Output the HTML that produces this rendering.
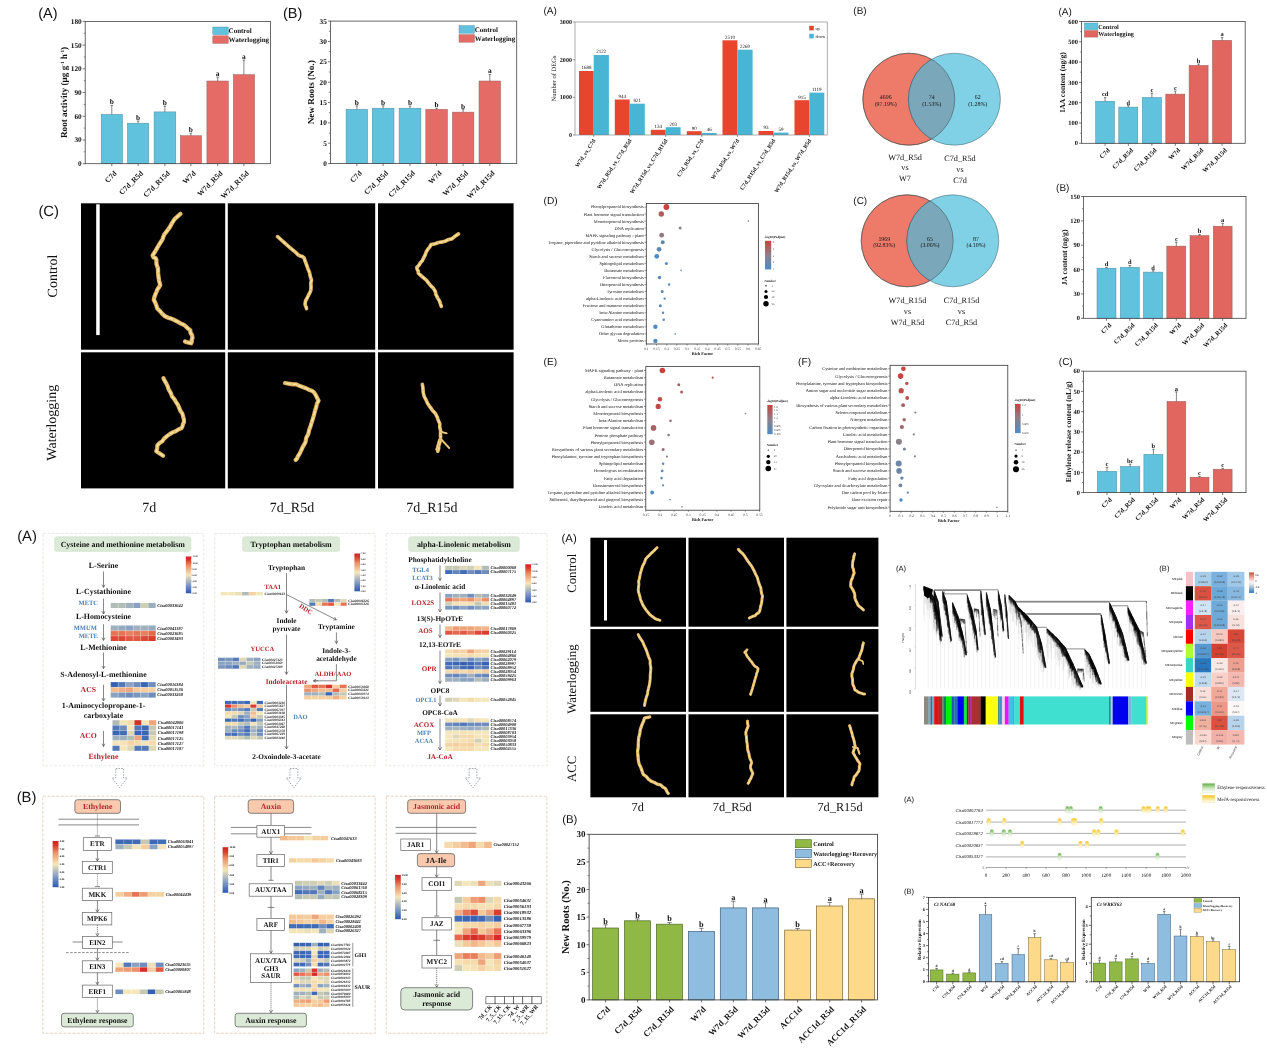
<!DOCTYPE html>
<html lang="en"><head><meta charset="utf-8"><title>Figure collage</title>
<style>html,body{margin:0;padding:0;background:#fff;width:1267px;height:1049px;overflow:hidden}svg{display:block}text{font-family:"Liberation Serif",serif;fill:#111;text-rendering:geometricPrecision}.a{font-family:"Liberation Sans",sans-serif}.b{font-weight:700}.i{font-style:italic}</style></head>
<body><svg width="1267" height="1049" viewBox="0 0 1267 1049">
<defs><filter id="rb" x="-20%" y="-20%" width="140%" height="140%"><feGaussianBlur stdDeviation="0.35"/></filter><linearGradient id="dg" x1="0" y1="0" x2="0" y2="1"><stop offset="0" stop-color="#c9423f"/><stop offset="0.5" stop-color="#8c8088"/><stop offset="1" stop-color="#4a8bc8"/></linearGradient><linearGradient id="hg" x1="0" y1="0" x2="0" y2="1"><stop offset="0" stop-color="#cc2023"/><stop offset="0.1" stop-color="#dc3c2e"/><stop offset="0.25" stop-color="#ec8f68"/><stop offset="0.5" stop-color="#f5e6b9"/><stop offset="0.75" stop-color="#8aa2c2"/><stop offset="1" stop-color="#2c58b0"/></linearGradient></defs><rect width="1267" height="1049" fill="#fff"/>
<g>
<text x="38.2" y="17.9" font-size="14.5" class="a">(A)</text>
<text x="283" y="17.9" font-size="14.5" class="a">(B)</text>
<rect x="101.2" y="114.4" width="21.3" height="49.3" fill="#60c2dc" stroke="#4a8ca4" stroke-width="0.5"/>
<line x1="111.8" y1="114.4" x2="111.8" y2="105.4" stroke="#333" stroke-width="0.6" />
<line x1="110.5" y1="105.4" x2="113.1" y2="105.4" stroke="#333" stroke-width="0.6" />
<text x="111.8" y="104.2" font-size="7.4" class="b" text-anchor="middle">b</text>
<rect x="127.4" y="123.2" width="21.3" height="40.5" fill="#60c2dc" stroke="#4a8ca4" stroke-width="0.5"/>
<line x1="138.1" y1="123.2" x2="138.1" y2="121" stroke="#333" stroke-width="0.6" />
<line x1="136.8" y1="121" x2="139.4" y2="121" stroke="#333" stroke-width="0.6" />
<text x="138.1" y="119.8" font-size="7.4" class="b" text-anchor="middle">b</text>
<rect x="154.1" y="111.9" width="21.7" height="51.8" fill="#60c2dc" stroke="#4a8ca4" stroke-width="0.5"/>
<line x1="164.9" y1="111.9" x2="164.9" y2="106.1" stroke="#333" stroke-width="0.6" />
<line x1="163.6" y1="106.1" x2="166.2" y2="106.1" stroke="#333" stroke-width="0.6" />
<text x="164.9" y="104.9" font-size="7.4" class="b" text-anchor="middle">b</text>
<rect x="180.3" y="135.7" width="21.3" height="28" fill="#e56b66" stroke="#9a6260" stroke-width="0.5"/>
<line x1="190.9" y1="135.7" x2="190.9" y2="133.2" stroke="#333" stroke-width="0.6" />
<line x1="189.6" y1="133.2" x2="192.2" y2="133.2" stroke="#333" stroke-width="0.6" />
<text x="190.9" y="132" font-size="7.4" class="b" text-anchor="middle">b</text>
<rect x="206.9" y="81" width="21.5" height="82.7" fill="#e56b66" stroke="#9a6260" stroke-width="0.5"/>
<line x1="217.7" y1="81" x2="217.7" y2="77.1" stroke="#333" stroke-width="0.6" />
<line x1="216.3" y1="77.1" x2="219" y2="77.1" stroke="#333" stroke-width="0.6" />
<text x="217.7" y="75.9" font-size="7.4" class="b" text-anchor="middle">a</text>
<rect x="233.3" y="74.6" width="21.3" height="89.1" fill="#e56b66" stroke="#9a6260" stroke-width="0.5"/>
<line x1="243.9" y1="74.6" x2="243.9" y2="60.1" stroke="#333" stroke-width="0.6" />
<line x1="242.6" y1="60.1" x2="245.2" y2="60.1" stroke="#333" stroke-width="0.6" />
<text x="243.9" y="58.9" font-size="7.4" class="b" text-anchor="middle">a</text>
<rect x="85.2" y="21.4" width="185.2" height="142.3" fill="none" stroke="#444" stroke-width="0.8"/>
<line x1="82.7" y1="163.7" x2="85.2" y2="163.7" stroke="#444" stroke-width="0.7" />
<text x="81.7" y="166.1" font-size="7.3" class="b" text-anchor="end">0</text>
<line x1="83.7" y1="151.8" x2="85.2" y2="151.8" stroke="#444" stroke-width="0.6" />
<line x1="82.7" y1="140" x2="85.2" y2="140" stroke="#444" stroke-width="0.7" />
<text x="81.7" y="142.4" font-size="7.3" class="b" text-anchor="end">30</text>
<line x1="83.7" y1="128.1" x2="85.2" y2="128.1" stroke="#444" stroke-width="0.6" />
<line x1="82.7" y1="116.3" x2="85.2" y2="116.3" stroke="#444" stroke-width="0.7" />
<text x="81.7" y="118.7" font-size="7.3" class="b" text-anchor="end">60</text>
<line x1="83.7" y1="104.4" x2="85.2" y2="104.4" stroke="#444" stroke-width="0.6" />
<line x1="82.7" y1="92.5" x2="85.2" y2="92.5" stroke="#444" stroke-width="0.7" />
<text x="81.7" y="95" font-size="7.3" class="b" text-anchor="end">90</text>
<line x1="83.7" y1="80.7" x2="85.2" y2="80.7" stroke="#444" stroke-width="0.6" />
<line x1="82.7" y1="68.8" x2="85.2" y2="68.8" stroke="#444" stroke-width="0.7" />
<text x="81.7" y="71.2" font-size="7.3" class="b" text-anchor="end">120</text>
<line x1="83.7" y1="57" x2="85.2" y2="57" stroke="#444" stroke-width="0.6" />
<line x1="82.7" y1="45.1" x2="85.2" y2="45.1" stroke="#444" stroke-width="0.7" />
<text x="81.7" y="47.5" font-size="7.3" class="b" text-anchor="end">150</text>
<line x1="83.7" y1="33.3" x2="85.2" y2="33.3" stroke="#444" stroke-width="0.6" />
<line x1="82.7" y1="21.4" x2="85.2" y2="21.4" stroke="#444" stroke-width="0.7" />
<text x="81.7" y="23.8" font-size="7.3" class="b" text-anchor="end">180</text>
<line x1="111.8" y1="163.7" x2="111.8" y2="166.2" stroke="#444" stroke-width="0.7" />
<text x="117.3" y="173.7" font-size="7.5" class="b" text-anchor="end" transform="rotate(-45 117.3 173.7)">C7d</text>
<line x1="138.1" y1="163.7" x2="138.1" y2="166.2" stroke="#444" stroke-width="0.7" />
<text x="143.6" y="173.7" font-size="7.5" class="b" text-anchor="end" transform="rotate(-45 143.6 173.7)">C7d_R5d</text>
<line x1="164.9" y1="163.7" x2="164.9" y2="166.2" stroke="#444" stroke-width="0.7" />
<text x="170.4" y="173.7" font-size="7.5" class="b" text-anchor="end" transform="rotate(-45 170.4 173.7)">C7d_R15d</text>
<line x1="190.9" y1="163.7" x2="190.9" y2="166.2" stroke="#444" stroke-width="0.7" />
<text x="196.4" y="173.7" font-size="7.5" class="b" text-anchor="end" transform="rotate(-45 196.4 173.7)">W7d</text>
<line x1="217.7" y1="163.7" x2="217.7" y2="166.2" stroke="#444" stroke-width="0.7" />
<text x="223.2" y="173.7" font-size="7.5" class="b" text-anchor="end" transform="rotate(-45 223.2 173.7)">W7d_R5d</text>
<line x1="243.9" y1="163.7" x2="243.9" y2="166.2" stroke="#444" stroke-width="0.7" />
<text x="249.4" y="173.7" font-size="7.5" class="b" text-anchor="end" transform="rotate(-45 249.4 173.7)">W7d_R15d</text>
<text x="66.5" y="92.5" font-size="9.2" class="b" text-anchor="middle" transform="rotate(-90 66.5 92.5)">Root activity (μg g<tspan dy="-2.5" font-size="5">-1</tspan><tspan dy="2.5"> h</tspan><tspan dy="-2.5" font-size="5">-1</tspan><tspan dy="2.5">)</tspan></text>
<rect x="212.8" y="27" width="15.5" height="7.6" fill="#60c2dc" stroke="#4a8ca4" stroke-width="0.4"/>
<rect x="212.8" y="35.8" width="15.5" height="7.6" fill="#e56b66" stroke="#9a6260" stroke-width="0.4"/>
<text x="228.6" y="33.2" font-size="7" class="b">Control</text>
<text x="228.6" y="42" font-size="7" class="b">Waterlogging</text>
<rect x="346.1" y="109.3" width="21.5" height="54.3" fill="#60c2dc" stroke="#4a8ca4" stroke-width="0.5"/>
<line x1="356.9" y1="109.3" x2="356.9" y2="105.9" stroke="#333" stroke-width="0.6" />
<line x1="355.6" y1="105.9" x2="358.2" y2="105.9" stroke="#333" stroke-width="0.6" />
<text x="356.9" y="104.7" font-size="7.4" class="b" text-anchor="middle">b</text>
<rect x="372.3" y="108.2" width="21.7" height="55.4" fill="#60c2dc" stroke="#4a8ca4" stroke-width="0.5"/>
<line x1="383.1" y1="108.2" x2="383.1" y2="105.9" stroke="#333" stroke-width="0.6" />
<line x1="381.8" y1="105.9" x2="384.4" y2="105.9" stroke="#333" stroke-width="0.6" />
<text x="383.1" y="104.7" font-size="7.4" class="b" text-anchor="middle">b</text>
<rect x="399.1" y="108.2" width="21.8" height="55.4" fill="#60c2dc" stroke="#4a8ca4" stroke-width="0.5"/>
<line x1="410" y1="108.2" x2="410" y2="106.1" stroke="#333" stroke-width="0.6" />
<line x1="408.7" y1="106.1" x2="411.3" y2="106.1" stroke="#333" stroke-width="0.6" />
<text x="410" y="104.9" font-size="7.4" class="b" text-anchor="middle">b</text>
<rect x="425.8" y="109.3" width="21.7" height="54.3" fill="#e56b66" stroke="#9a6260" stroke-width="0.5"/>
<line x1="436.6" y1="109.3" x2="436.6" y2="108.2" stroke="#333" stroke-width="0.6" />
<line x1="435.3" y1="108.2" x2="437.9" y2="108.2" stroke="#333" stroke-width="0.6" />
<text x="436.6" y="107" font-size="7.4" class="b" text-anchor="middle">b</text>
<rect x="452.4" y="112.1" width="21.5" height="51.5" fill="#e56b66" stroke="#9a6260" stroke-width="0.5"/>
<line x1="463.1" y1="112.1" x2="463.1" y2="109.7" stroke="#333" stroke-width="0.6" />
<line x1="461.8" y1="109.7" x2="464.4" y2="109.7" stroke="#333" stroke-width="0.6" />
<text x="463.1" y="108.5" font-size="7.4" class="b" text-anchor="middle">b</text>
<rect x="479" y="81" width="21.6" height="82.6" fill="#e56b66" stroke="#9a6260" stroke-width="0.5"/>
<line x1="489.8" y1="81" x2="489.8" y2="74.6" stroke="#333" stroke-width="0.6" />
<line x1="488.5" y1="74.6" x2="491.1" y2="74.6" stroke="#333" stroke-width="0.6" />
<text x="489.8" y="73.4" font-size="7.4" class="b" text-anchor="middle">a</text>
<rect x="330.4" y="21.1" width="186.3" height="142.5" fill="none" stroke="#444" stroke-width="0.8"/>
<line x1="327.9" y1="163.6" x2="330.4" y2="163.6" stroke="#444" stroke-width="0.7" />
<text x="326.9" y="166" font-size="7.3" class="b" text-anchor="end">0</text>
<line x1="328.9" y1="153.4" x2="330.4" y2="153.4" stroke="#444" stroke-width="0.6" />
<line x1="327.9" y1="143.2" x2="330.4" y2="143.2" stroke="#444" stroke-width="0.7" />
<text x="326.9" y="145.7" font-size="7.3" class="b" text-anchor="end">5</text>
<line x1="328.9" y1="133.1" x2="330.4" y2="133.1" stroke="#444" stroke-width="0.6" />
<line x1="327.9" y1="122.9" x2="330.4" y2="122.9" stroke="#444" stroke-width="0.7" />
<text x="326.9" y="125.3" font-size="7.3" class="b" text-anchor="end">10</text>
<line x1="328.9" y1="112.7" x2="330.4" y2="112.7" stroke="#444" stroke-width="0.6" />
<line x1="327.9" y1="102.5" x2="330.4" y2="102.5" stroke="#444" stroke-width="0.7" />
<text x="326.9" y="104.9" font-size="7.3" class="b" text-anchor="end">15</text>
<line x1="328.9" y1="92.3" x2="330.4" y2="92.3" stroke="#444" stroke-width="0.6" />
<line x1="327.9" y1="82.2" x2="330.4" y2="82.2" stroke="#444" stroke-width="0.7" />
<text x="326.9" y="84.6" font-size="7.3" class="b" text-anchor="end">20</text>
<line x1="328.9" y1="72" x2="330.4" y2="72" stroke="#444" stroke-width="0.6" />
<line x1="327.9" y1="61.8" x2="330.4" y2="61.8" stroke="#444" stroke-width="0.7" />
<text x="326.9" y="64.2" font-size="7.3" class="b" text-anchor="end">25</text>
<line x1="328.9" y1="51.6" x2="330.4" y2="51.6" stroke="#444" stroke-width="0.6" />
<line x1="327.9" y1="41.5" x2="330.4" y2="41.5" stroke="#444" stroke-width="0.7" />
<text x="326.9" y="43.9" font-size="7.3" class="b" text-anchor="end">30</text>
<line x1="328.9" y1="31.3" x2="330.4" y2="31.3" stroke="#444" stroke-width="0.6" />
<line x1="327.9" y1="21.1" x2="330.4" y2="21.1" stroke="#444" stroke-width="0.7" />
<text x="326.9" y="23.5" font-size="7.3" class="b" text-anchor="end">35</text>
<line x1="356.9" y1="163.6" x2="356.9" y2="166.1" stroke="#444" stroke-width="0.7" />
<text x="362.4" y="173.6" font-size="7.5" class="b" text-anchor="end" transform="rotate(-45 362.4 173.6)">C7d</text>
<line x1="383.1" y1="163.6" x2="383.1" y2="166.1" stroke="#444" stroke-width="0.7" />
<text x="388.6" y="173.6" font-size="7.5" class="b" text-anchor="end" transform="rotate(-45 388.6 173.6)">C7d_R5d</text>
<line x1="410" y1="163.6" x2="410" y2="166.1" stroke="#444" stroke-width="0.7" />
<text x="415.5" y="173.6" font-size="7.5" class="b" text-anchor="end" transform="rotate(-45 415.5 173.6)">C7d_R15d</text>
<line x1="436.6" y1="163.6" x2="436.6" y2="166.1" stroke="#444" stroke-width="0.7" />
<text x="442.1" y="173.6" font-size="7.5" class="b" text-anchor="end" transform="rotate(-45 442.1 173.6)">W7d</text>
<line x1="463.1" y1="163.6" x2="463.1" y2="166.1" stroke="#444" stroke-width="0.7" />
<text x="468.6" y="173.6" font-size="7.5" class="b" text-anchor="end" transform="rotate(-45 468.6 173.6)">W7d_R5d</text>
<line x1="489.8" y1="163.6" x2="489.8" y2="166.1" stroke="#444" stroke-width="0.7" />
<text x="495.3" y="173.6" font-size="7.5" class="b" text-anchor="end" transform="rotate(-45 495.3 173.6)">W7d_R15d</text>
<text x="314.5" y="92.3" font-size="9.2" class="b" text-anchor="middle" transform="rotate(-90 314.5 92.3)">New Roots (No.)</text>
<rect x="459" y="25.6" width="15.5" height="7.6" fill="#60c2dc" stroke="#4a8ca4" stroke-width="0.4"/>
<rect x="459" y="34.6" width="15.5" height="7.6" fill="#e56b66" stroke="#9a6260" stroke-width="0.4"/>
<text x="474.8" y="31.8" font-size="7" class="b">Control</text>
<text x="474.8" y="40.8" font-size="7" class="b">Waterlogging</text>
</g>
<g>
<text x="38.4" y="216.3" font-size="14.8" class="a">(C)</text>
<rect x="81" y="203.3" width="144.2" height="146.4" fill="#000"/>
<rect x="81" y="352.3" width="144.2" height="136.1" fill="#000"/>
<rect x="227.8" y="203.3" width="147.4" height="146.4" fill="#000"/>
<rect x="227.8" y="352.3" width="147.4" height="136.1" fill="#000"/>
<rect x="378" y="203.3" width="135.6" height="146.4" fill="#000"/>
<rect x="378" y="352.3" width="135.6" height="136.1" fill="#000"/>
<rect x="96.2" y="204.3" width="3.5" height="130.8" fill="#fff"/>
<text x="56.5" y="276" font-size="14" text-anchor="middle" transform="rotate(-90 56.5 276)">Control</text>
<text x="56.5" y="422.7" font-size="14" text-anchor="middle" transform="rotate(-90 56.5 422.7)">Waterlogging</text>
<text x="149.2" y="512.2" font-size="14" text-anchor="middle">7d</text>
<text x="292" y="512.2" font-size="14" text-anchor="middle">7d_R5d</text>
<text x="431.8" y="512.2" font-size="14" text-anchor="middle">7d_R15d</text>
<g filter="url(#rb)" fill="none" stroke-linecap="round" stroke-linejoin="round"><path d="M180.4 213.9 L178.1 216 L176.8 217.1 L174.6 219.1 L172 223.1 L169.6 227.5 L166.8 231.3 L164.1 234.8 L162.5 239.3 L159.9 243.4 L157.7 247 L155 251.7 L152.6 255.6 L153.6 257.5 L155.5 258 L156.4 259.9 L156.5 264.3 L158 268.5 L158.1 272.9 L158.5 276.9 L159.1 280.8 L160.2 285.1 L158.9 287.4 L157.4 289.4 L156.4 292 L155.3 294.6 L154.5 296.8 L153.8 299.8 L155.3 302.8 L156.3 305.3 L157.3 308.5 L160.4 311.5 L162.1 313.6 L165.1 316.3 L168.2 317.7 L171.3 318.6 L173.8 319.8 L177.6 321.7 L180.5 323.4 L184.2 325 L186.6 327.1 L188.2 328.6 L190.3 330.2 L190.5 332.6 L192.1 335.4 L192.5 338 L191.7 339.8 L191.8 341.7 L191.1 343.3 L189 342.6 L187.1 342.4 L185.1 341.5" stroke="#cf9f4c" stroke-width="4.3"/><path d="M180.4 213.9 L178.1 216 L176.8 217.1 L174.6 219.1 L172 223.1 L169.6 227.5 L166.8 231.3 L164.1 234.8 L162.5 239.3 L159.9 243.4 L157.7 247 L155 251.7 L152.6 255.6 L153.6 257.5 L155.5 258 L156.4 259.9 L156.5 264.3 L158 268.5 L158.1 272.9 L158.5 276.9 L159.1 280.8 L160.2 285.1 L158.9 287.4 L157.4 289.4 L156.4 292 L155.3 294.6 L154.5 296.8 L153.8 299.8 L155.3 302.8 L156.3 305.3 L157.3 308.5 L160.4 311.5 L162.1 313.6 L165.1 316.3 L168.2 317.7 L171.3 318.6 L173.8 319.8 L177.6 321.7 L180.5 323.4 L184.2 325 L186.6 327.1 L188.2 328.6 L190.3 330.2 L190.5 332.6 L192.1 335.4 L192.5 338 L191.7 339.8 L191.8 341.7 L191.1 343.3 L189 342.6 L187.1 342.4 L185.1 341.5" stroke="#e9c576" stroke-width="3.2"/><path d="M180.4 213.9 L178.1 216 L176.8 217.1 L174.6 219.1 L172 223.1 L169.6 227.5 L166.8 231.3 L164.1 234.8 L162.5 239.3 L159.9 243.4 L157.7 247 L155 251.7 L152.6 255.6 L153.6 257.5 L155.5 258 L156.4 259.9 L156.5 264.3 L158 268.5 L158.1 272.9 L158.5 276.9 L159.1 280.8 L160.2 285.1 L158.9 287.4 L157.4 289.4 L156.4 292 L155.3 294.6 L154.5 296.8 L153.8 299.8 L155.3 302.8 L156.3 305.3 L157.3 308.5 L160.4 311.5 L162.1 313.6 L165.1 316.3 L168.2 317.7 L171.3 318.6 L173.8 319.8 L177.6 321.7 L180.5 323.4 L184.2 325 L186.6 327.1 L188.2 328.6 L190.3 330.2 L190.5 332.6 L192.1 335.4 L192.5 338 L191.7 339.8 L191.8 341.7 L191.1 343.3 L189 342.6 L187.1 342.4 L185.1 341.5" stroke="#f7e2a4" stroke-width="1.5"/><path d="M180.4 213.9 L178.1 216 L176.8 217.1 L174.6 219.1 L172 223.1 L169.6 227.5 L166.8 231.3 L164.1 234.8 L162.5 239.3 L159.9 243.4 L157.7 247 L155 251.7 L152.6 255.6 L153.6 257.5 L155.5 258 L156.4 259.9 L156.5 264.3 L158 268.5 L158.1 272.9 L158.5 276.9 L159.1 280.8 L160.2 285.1 L158.9 287.4 L157.4 289.4 L156.4 292 L155.3 294.6 L154.5 296.8 L153.8 299.8 L155.3 302.8 L156.3 305.3 L157.3 308.5 L160.4 311.5 L162.1 313.6 L165.1 316.3 L168.2 317.7 L171.3 318.6 L173.8 319.8 L177.6 321.7 L180.5 323.4 L184.2 325 L186.6 327.1 L188.2 328.6 L190.3 330.2 L190.5 332.6 L192.1 335.4 L192.5 338 L191.7 339.8 L191.8 341.7 L191.1 343.3 L189 342.6 L187.1 342.4 L185.1 341.5" stroke="#b8843a" stroke-width="1.3" stroke-opacity="0.45" stroke-dasharray="0.8 5.6"/></g>
<g filter="url(#rb)" fill="none" stroke-linecap="round" stroke-linejoin="round"><path d="M277.6 236.6 L281.9 240.5 L284.8 243.1 L289.1 246.9 L292.5 249.8 L295.4 252.1 L298.2 254.9 L300.3 256 L302.1 256.4 L304 257.7 L305.2 261.2 L306.8 265.5 L307.9 268.7 L309.5 272.5 L310.2 276.1 L311.5 280.1 L310.8 283.1 L311 286.8 L310.8 290.4 L309.2 293.9 L307.8 296.6 L306.3 299.6 L305.6 300.6 L305.3 302.3 L305.1 304.1 L305.6 306.2 L306.2 306.9 L306.5 308.7" stroke="#cf9f4c" stroke-width="3.7"/><path d="M277.6 236.6 L281.9 240.5 L284.8 243.1 L289.1 246.9 L292.5 249.8 L295.4 252.1 L298.2 254.9 L300.3 256 L302.1 256.4 L304 257.7 L305.2 261.2 L306.8 265.5 L307.9 268.7 L309.5 272.5 L310.2 276.1 L311.5 280.1 L310.8 283.1 L311 286.8 L310.8 290.4 L309.2 293.9 L307.8 296.6 L306.3 299.6 L305.6 300.6 L305.3 302.3 L305.1 304.1 L305.6 306.2 L306.2 306.9 L306.5 308.7" stroke="#e9c576" stroke-width="2.7"/><path d="M277.6 236.6 L281.9 240.5 L284.8 243.1 L289.1 246.9 L292.5 249.8 L295.4 252.1 L298.2 254.9 L300.3 256 L302.1 256.4 L304 257.7 L305.2 261.2 L306.8 265.5 L307.9 268.7 L309.5 272.5 L310.2 276.1 L311.5 280.1 L310.8 283.1 L311 286.8 L310.8 290.4 L309.2 293.9 L307.8 296.6 L306.3 299.6 L305.6 300.6 L305.3 302.3 L305.1 304.1 L305.6 306.2 L306.2 306.9 L306.5 308.7" stroke="#f7e2a4" stroke-width="1.3"/><path d="M277.6 236.6 L281.9 240.5 L284.8 243.1 L289.1 246.9 L292.5 249.8 L295.4 252.1 L298.2 254.9 L300.3 256 L302.1 256.4 L304 257.7 L305.2 261.2 L306.8 265.5 L307.9 268.7 L309.5 272.5 L310.2 276.1 L311.5 280.1 L310.8 283.1 L311 286.8 L310.8 290.4 L309.2 293.9 L307.8 296.6 L306.3 299.6 L305.6 300.6 L305.3 302.3 L305.1 304.1 L305.6 306.2 L306.2 306.9 L306.5 308.7" stroke="#b8843a" stroke-width="1.1" stroke-opacity="0.45" stroke-dasharray="0.8 4.8"/></g>
<g filter="url(#rb)" fill="none" stroke-linecap="round" stroke-linejoin="round"><path d="M458.5 233.9 L455.9 235.6 L453.8 237.3 L451.6 238.9 L448.7 239.5 L445 241.2 L442.4 241.9 L438.4 242.5 L435.3 243.7 L431 244.6 L429.8 246.9 L428.1 248.9 L426.4 251.5 L425.2 254.9 L423.7 257.8 L422.3 260.7 L420.6 262.5 L418.9 265.3 L416.8 267.5 L417.1 269 L418.2 271.3 L418.4 273.2 L421.3 275.9 L424 278.2 L426.4 280.1 L428.6 283.1 L430.9 285.9 L433.3 288.1 L435.2 291.2 L436 294.7 L437.9 298.4 L439.5 301 L440.3 303.6 L441.3 306.4" stroke="#cf9f4c" stroke-width="3.7"/><path d="M458.5 233.9 L455.9 235.6 L453.8 237.3 L451.6 238.9 L448.7 239.5 L445 241.2 L442.4 241.9 L438.4 242.5 L435.3 243.7 L431 244.6 L429.8 246.9 L428.1 248.9 L426.4 251.5 L425.2 254.9 L423.7 257.8 L422.3 260.7 L420.6 262.5 L418.9 265.3 L416.8 267.5 L417.1 269 L418.2 271.3 L418.4 273.2 L421.3 275.9 L424 278.2 L426.4 280.1 L428.6 283.1 L430.9 285.9 L433.3 288.1 L435.2 291.2 L436 294.7 L437.9 298.4 L439.5 301 L440.3 303.6 L441.3 306.4" stroke="#e9c576" stroke-width="2.7"/><path d="M458.5 233.9 L455.9 235.6 L453.8 237.3 L451.6 238.9 L448.7 239.5 L445 241.2 L442.4 241.9 L438.4 242.5 L435.3 243.7 L431 244.6 L429.8 246.9 L428.1 248.9 L426.4 251.5 L425.2 254.9 L423.7 257.8 L422.3 260.7 L420.6 262.5 L418.9 265.3 L416.8 267.5 L417.1 269 L418.2 271.3 L418.4 273.2 L421.3 275.9 L424 278.2 L426.4 280.1 L428.6 283.1 L430.9 285.9 L433.3 288.1 L435.2 291.2 L436 294.7 L437.9 298.4 L439.5 301 L440.3 303.6 L441.3 306.4" stroke="#f7e2a4" stroke-width="1.3"/><path d="M458.5 233.9 L455.9 235.6 L453.8 237.3 L451.6 238.9 L448.7 239.5 L445 241.2 L442.4 241.9 L438.4 242.5 L435.3 243.7 L431 244.6 L429.8 246.9 L428.1 248.9 L426.4 251.5 L425.2 254.9 L423.7 257.8 L422.3 260.7 L420.6 262.5 L418.9 265.3 L416.8 267.5 L417.1 269 L418.2 271.3 L418.4 273.2 L421.3 275.9 L424 278.2 L426.4 280.1 L428.6 283.1 L430.9 285.9 L433.3 288.1 L435.2 291.2 L436 294.7 L437.9 298.4 L439.5 301 L440.3 303.6 L441.3 306.4" stroke="#b8843a" stroke-width="1.1" stroke-opacity="0.45" stroke-dasharray="0.8 4.8"/></g>
<g filter="url(#rb)" fill="none" stroke-linecap="round" stroke-linejoin="round"><path d="M163.4 378.2 L164.5 380.4 L166.1 383.1 L167.6 386.1 L168.6 389.4 L170.9 393.2 L172 396.4 L174.2 398.9 L175.9 401.8 L177.9 404.9 L179 407.4 L180.5 411.1 L182.3 413.5 L183.2 416.7 L183.8 418.9 L184 422.1 L182.9 424.3 L182.4 426.6 L181.3 428.3 L178.8 429.2 L175.7 431.2 L172.7 432.4 L169.8 434.1 L167 436.1 L164.1 438.6 L162.3 441.2 L159.6 443 L157.3 445.4 L157.3 447.5 L156.9 449.7 L156.2 451.3 L158.5 452.7 L160.9 454.2 L163.1 455.7" stroke="#cf9f4c" stroke-width="4.2"/><path d="M163.4 378.2 L164.5 380.4 L166.1 383.1 L167.6 386.1 L168.6 389.4 L170.9 393.2 L172 396.4 L174.2 398.9 L175.9 401.8 L177.9 404.9 L179 407.4 L180.5 411.1 L182.3 413.5 L183.2 416.7 L183.8 418.9 L184 422.1 L182.9 424.3 L182.4 426.6 L181.3 428.3 L178.8 429.2 L175.7 431.2 L172.7 432.4 L169.8 434.1 L167 436.1 L164.1 438.6 L162.3 441.2 L159.6 443 L157.3 445.4 L157.3 447.5 L156.9 449.7 L156.2 451.3 L158.5 452.7 L160.9 454.2 L163.1 455.7" stroke="#e9c576" stroke-width="3.1"/><path d="M163.4 378.2 L164.5 380.4 L166.1 383.1 L167.6 386.1 L168.6 389.4 L170.9 393.2 L172 396.4 L174.2 398.9 L175.9 401.8 L177.9 404.9 L179 407.4 L180.5 411.1 L182.3 413.5 L183.2 416.7 L183.8 418.9 L184 422.1 L182.9 424.3 L182.4 426.6 L181.3 428.3 L178.8 429.2 L175.7 431.2 L172.7 432.4 L169.8 434.1 L167 436.1 L164.1 438.6 L162.3 441.2 L159.6 443 L157.3 445.4 L157.3 447.5 L156.9 449.7 L156.2 451.3 L158.5 452.7 L160.9 454.2 L163.1 455.7" stroke="#f7e2a4" stroke-width="1.5"/><path d="M163.4 378.2 L164.5 380.4 L166.1 383.1 L167.6 386.1 L168.6 389.4 L170.9 393.2 L172 396.4 L174.2 398.9 L175.9 401.8 L177.9 404.9 L179 407.4 L180.5 411.1 L182.3 413.5 L183.2 416.7 L183.8 418.9 L184 422.1 L182.9 424.3 L182.4 426.6 L181.3 428.3 L178.8 429.2 L175.7 431.2 L172.7 432.4 L169.8 434.1 L167 436.1 L164.1 438.6 L162.3 441.2 L159.6 443 L157.3 445.4 L157.3 447.5 L156.9 449.7 L156.2 451.3 L158.5 452.7 L160.9 454.2 L163.1 455.7" stroke="#b8843a" stroke-width="1.3" stroke-opacity="0.45" stroke-dasharray="0.8 5.5"/></g>
<g filter="url(#rb)" fill="none" stroke-linecap="round" stroke-linejoin="round"><path d="M285 383 L288.9 383.7 L292.8 384.3 L296.3 384.3 L300 386.1 L302.7 387 L306.6 388.5 L309.7 390.1 L312.3 391 L314.5 392.9 L315.8 395.3 L317.3 398.3 L318.6 400.8 L317 403.6 L316.1 407.4 L315.2 410.1 L314.3 413.7 L313.2 417.7 L311.8 422.1 L310.7 425.7 L309 430.5 L308.3 434.1 L306.3 437.8 L305.4 442.5 L303.2 446.1 L301.6 449.5 L300.5 452 L299 454.7 L297.6 456.9 L297 458.6 L295.6 459.9" stroke="#cf9f4c" stroke-width="4.2"/><path d="M285 383 L288.9 383.7 L292.8 384.3 L296.3 384.3 L300 386.1 L302.7 387 L306.6 388.5 L309.7 390.1 L312.3 391 L314.5 392.9 L315.8 395.3 L317.3 398.3 L318.6 400.8 L317 403.6 L316.1 407.4 L315.2 410.1 L314.3 413.7 L313.2 417.7 L311.8 422.1 L310.7 425.7 L309 430.5 L308.3 434.1 L306.3 437.8 L305.4 442.5 L303.2 446.1 L301.6 449.5 L300.5 452 L299 454.7 L297.6 456.9 L297 458.6 L295.6 459.9" stroke="#e9c576" stroke-width="3.1"/><path d="M285 383 L288.9 383.7 L292.8 384.3 L296.3 384.3 L300 386.1 L302.7 387 L306.6 388.5 L309.7 390.1 L312.3 391 L314.5 392.9 L315.8 395.3 L317.3 398.3 L318.6 400.8 L317 403.6 L316.1 407.4 L315.2 410.1 L314.3 413.7 L313.2 417.7 L311.8 422.1 L310.7 425.7 L309 430.5 L308.3 434.1 L306.3 437.8 L305.4 442.5 L303.2 446.1 L301.6 449.5 L300.5 452 L299 454.7 L297.6 456.9 L297 458.6 L295.6 459.9" stroke="#f7e2a4" stroke-width="1.5"/><path d="M285 383 L288.9 383.7 L292.8 384.3 L296.3 384.3 L300 386.1 L302.7 387 L306.6 388.5 L309.7 390.1 L312.3 391 L314.5 392.9 L315.8 395.3 L317.3 398.3 L318.6 400.8 L317 403.6 L316.1 407.4 L315.2 410.1 L314.3 413.7 L313.2 417.7 L311.8 422.1 L310.7 425.7 L309 430.5 L308.3 434.1 L306.3 437.8 L305.4 442.5 L303.2 446.1 L301.6 449.5 L300.5 452 L299 454.7 L297.6 456.9 L297 458.6 L295.6 459.9" stroke="#b8843a" stroke-width="1.3" stroke-opacity="0.45" stroke-dasharray="0.8 5.5"/></g>
<g filter="url(#rb)" fill="none" stroke-linecap="round" stroke-linejoin="round"><path d="M422.3 384.3 L422.9 387.5 L423 389.8 L423.3 392.9 L424.2 396.5 L426.1 400 L427.5 403.2 L430 406.9 L432.5 410.4 L435.4 413.5 L437.1 416.9 L438.4 420.6 L439.8 423.8 L439.7 427.3 L440.6 430.4 L440.5 434.1 L440.6 437.2 L440.4 439.7 L439.8 442.7 L438.7 445.9 L438.7 448.4 L437.8 451.3" stroke="#cf9f4c" stroke-width="3.6"/><path d="M422.3 384.3 L422.9 387.5 L423 389.8 L423.3 392.9 L424.2 396.5 L426.1 400 L427.5 403.2 L430 406.9 L432.5 410.4 L435.4 413.5 L437.1 416.9 L438.4 420.6 L439.8 423.8 L439.7 427.3 L440.6 430.4 L440.5 434.1 L440.6 437.2 L440.4 439.7 L439.8 442.7 L438.7 445.9 L438.7 448.4 L437.8 451.3" stroke="#e9c576" stroke-width="2.7"/><path d="M422.3 384.3 L422.9 387.5 L423 389.8 L423.3 392.9 L424.2 396.5 L426.1 400 L427.5 403.2 L430 406.9 L432.5 410.4 L435.4 413.5 L437.1 416.9 L438.4 420.6 L439.8 423.8 L439.7 427.3 L440.6 430.4 L440.5 434.1 L440.6 437.2 L440.4 439.7 L439.8 442.7 L438.7 445.9 L438.7 448.4 L437.8 451.3" stroke="#f7e2a4" stroke-width="1.3"/><path d="M422.3 384.3 L422.9 387.5 L423 389.8 L423.3 392.9 L424.2 396.5 L426.1 400 L427.5 403.2 L430 406.9 L432.5 410.4 L435.4 413.5 L437.1 416.9 L438.4 420.6 L439.8 423.8 L439.7 427.3 L440.6 430.4 L440.5 434.1 L440.6 437.2 L440.4 439.7 L439.8 442.7 L438.7 445.9 L438.7 448.4 L437.8 451.3" stroke="#b8843a" stroke-width="1.1" stroke-opacity="0.45" stroke-dasharray="0.8 4.7"/></g>
<g filter="url(#rb)" fill="none" stroke-linecap="round" stroke-linejoin="round"><path d="M440.5 431.7 L446.7 433.4" stroke="#cf9f4c" stroke-width="1.8"/><path d="M440.5 431.7 L446.7 433.4" stroke="#e9c576" stroke-width="1.3"/><path d="M440.5 431.7 L446.7 433.4" stroke="#f7e2a4" stroke-width="0.6"/><path d="M440.5 431.7 L446.7 433.4" stroke="#b8843a" stroke-width="0.5" stroke-opacity="0.45" stroke-dasharray="0.8 2.3"/></g>
<g filter="url(#rb)" fill="none" stroke-linecap="round" stroke-linejoin="round"><path d="M440.5 438.6 L449.1 447.9" stroke="#cf9f4c" stroke-width="2"/><path d="M440.5 438.6 L449.1 447.9" stroke="#e9c576" stroke-width="1.5"/><path d="M440.5 438.6 L449.1 447.9" stroke="#f7e2a4" stroke-width="0.7"/><path d="M440.5 438.6 L449.1 447.9" stroke="#b8843a" stroke-width="0.6" stroke-opacity="0.45" stroke-dasharray="0.8 2.6"/></g>
<g filter="url(#rb)" fill="none" stroke-linecap="round" stroke-linejoin="round"><path d="M439.1 440 L436.4 449.6" stroke="#cf9f4c" stroke-width="2.2"/><path d="M439.1 440 L436.4 449.6" stroke="#e9c576" stroke-width="1.6"/><path d="M439.1 440 L436.4 449.6" stroke="#f7e2a4" stroke-width="0.8"/><path d="M439.1 440 L436.4 449.6" stroke="#b8843a" stroke-width="0.7" stroke-opacity="0.45" stroke-dasharray="0.8 2.9"/></g>
</g>
<g>
<text x="543.5" y="14.4" font-size="10" class="a">(A)</text>
<rect x="579" y="71" width="14.7" height="64" fill="#e8452e"/>
<rect x="593.7" y="55" width="15.2" height="80" fill="#49b5d5"/>
<text x="586.4" y="69.4" font-size="5" text-anchor="middle">1688</text>
<text x="601.3" y="53.4" font-size="5" text-anchor="middle">2122</text>
<rect x="614.8" y="99.5" width="14.9" height="35.5" fill="#e8452e"/>
<rect x="629.7" y="103.7" width="15.1" height="31.3" fill="#49b5d5"/>
<text x="622.2" y="97.9" font-size="5" text-anchor="middle">944</text>
<text x="637.2" y="102.1" font-size="5" text-anchor="middle">821</text>
<rect x="650.8" y="129.8" width="14.9" height="5.2" fill="#e8452e"/>
<rect x="665.7" y="127.2" width="14.9" height="7.8" fill="#49b5d5"/>
<text x="658.2" y="128.2" font-size="5" text-anchor="middle">134</text>
<text x="673.2" y="125.6" font-size="5" text-anchor="middle">203</text>
<rect x="686.8" y="131.2" width="14.9" height="3.8" fill="#e8452e"/>
<rect x="701.7" y="133" width="14.9" height="2" fill="#49b5d5"/>
<text x="694.2" y="129.6" font-size="5" text-anchor="middle">90</text>
<text x="709.2" y="131.4" font-size="5" text-anchor="middle">46</text>
<rect x="722.5" y="40.3" width="14.9" height="94.7" fill="#e8452e"/>
<rect x="737.4" y="49.7" width="15.2" height="85.3" fill="#49b5d5"/>
<text x="730" y="38.7" font-size="5" text-anchor="middle">2510</text>
<text x="745" y="48.1" font-size="5" text-anchor="middle">2260</text>
<rect x="758.5" y="131" width="14.9" height="4" fill="#e8452e"/>
<rect x="773.4" y="132.6" width="15" height="2.4" fill="#49b5d5"/>
<text x="766" y="129.4" font-size="5" text-anchor="middle">93</text>
<text x="780.9" y="131" font-size="5" text-anchor="middle">59</text>
<rect x="794.5" y="100.2" width="14.9" height="34.8" fill="#e8452e"/>
<rect x="809.4" y="92.6" width="14.9" height="42.4" fill="#49b5d5"/>
<text x="802" y="98.6" font-size="5" text-anchor="middle">915</text>
<text x="816.8" y="91" font-size="5" text-anchor="middle">1119</text>
<rect x="575" y="22" width="252.2" height="113" fill="none" stroke="#777" stroke-width="0.6"/>
<line x1="573" y1="135" x2="575" y2="135" stroke="#555" stroke-width="0.6" />
<text x="572" y="137" font-size="6.1" class="b" text-anchor="end">0</text>
<line x1="573" y1="97.3" x2="575" y2="97.3" stroke="#555" stroke-width="0.6" />
<text x="572" y="99.3" font-size="6.1" class="b" text-anchor="end">1000</text>
<line x1="573" y1="59.7" x2="575" y2="59.7" stroke="#555" stroke-width="0.6" />
<text x="572" y="61.7" font-size="6.1" class="b" text-anchor="end">2000</text>
<line x1="573" y1="22" x2="575" y2="22" stroke="#555" stroke-width="0.6" />
<text x="572" y="24" font-size="6.1" class="b" text-anchor="end">3000</text>
<text x="556" y="78.5" font-size="6.5" text-anchor="middle" transform="rotate(-90 556 78.5)">Number of DEGs</text>
<line x1="593.7" y1="135" x2="593.7" y2="137" stroke="#555" stroke-width="0.6" />
<text x="595.7" y="140.5" font-size="5.7" class="b" text-anchor="end" transform="rotate(-57 595.7 140.5)">W7d_vs_C7d</text>
<line x1="629.7" y1="135" x2="629.7" y2="137" stroke="#555" stroke-width="0.6" />
<text x="631.7" y="140.5" font-size="5.7" class="b" text-anchor="end" transform="rotate(-57 631.7 140.5)">W7d_R5d_vs_C7d_R5d</text>
<line x1="665.7" y1="135" x2="665.7" y2="137" stroke="#555" stroke-width="0.6" />
<text x="667.7" y="140.5" font-size="5.7" class="b" text-anchor="end" transform="rotate(-57 667.7 140.5)">W7d_R15d_vs_C7d_R15d</text>
<line x1="701.7" y1="135" x2="701.7" y2="137" stroke="#555" stroke-width="0.6" />
<text x="703.7" y="140.5" font-size="5.7" class="b" text-anchor="end" transform="rotate(-57 703.7 140.5)">C7d_R5d_vs_C7d</text>
<line x1="737.4" y1="135" x2="737.4" y2="137" stroke="#555" stroke-width="0.6" />
<text x="739.4" y="140.5" font-size="5.7" class="b" text-anchor="end" transform="rotate(-57 739.4 140.5)">W7d_R5d_vs_W7d</text>
<line x1="773.4" y1="135" x2="773.4" y2="137" stroke="#555" stroke-width="0.6" />
<text x="775.4" y="140.5" font-size="5.7" class="b" text-anchor="end" transform="rotate(-57 775.4 140.5)">C7d_R15d_vs_C7d_R5d</text>
<line x1="809.4" y1="135" x2="809.4" y2="137" stroke="#555" stroke-width="0.6" />
<text x="811.4" y="140.5" font-size="5.7" class="b" text-anchor="end" transform="rotate(-57 811.4 140.5)">W7d_R15d_vs_W7d_R5d</text>
<rect x="809.2" y="25.8" width="4.6" height="4.6" fill="#e8452e"/>
<rect x="809.2" y="33.8" width="4.6" height="4.6" fill="#49b5d5"/>
<text x="815.5" y="30" font-size="4.2">up</text>
<text x="815.5" y="38" font-size="4.2">down</text>
</g>
<g>
<text x="853.3" y="13.6" font-size="10" class="a">(B)</text>
<text x="853.3" y="203.8" font-size="10" class="a">(C)</text>
<clipPath id="vc1"><circle cx="908.8" cy="99.2" r="46"/></clipPath>
<circle cx="908.8" cy="99.2" r="46" fill="#ee7b6a" stroke="#5a4a48" stroke-width="0.5"/>
<circle cx="954.4" cy="99.2" r="46" fill="#80d0e6" stroke="#3a5a68" stroke-width="0.5"/>
<circle cx="954.4" cy="99.2" r="46" fill="#7aa8ba" clip-path="url(#vc1)" stroke="#3a4a50" stroke-width="0.5"/>
<circle cx="908.8" cy="99.2" r="46" fill="none" stroke="#3a4a50" stroke-width="0.5"/>
<clipPath id="vc2"><circle cx="907.2" cy="240.8" r="46"/></clipPath>
<circle cx="907.2" cy="240.8" r="46" fill="#ee7b6a" stroke="#5a4a48" stroke-width="0.5"/>
<circle cx="952.8" cy="240.8" r="46" fill="#80d0e6" stroke="#3a5a68" stroke-width="0.5"/>
<circle cx="952.8" cy="240.8" r="46" fill="#7aa8ba" clip-path="url(#vc2)" stroke="#3a4a50" stroke-width="0.5"/>
<circle cx="907.2" cy="240.8" r="46" fill="none" stroke="#3a4a50" stroke-width="0.5"/>
<text x="885.7" y="99.3" font-size="5.9" text-anchor="middle">4696</text>
<text x="885.7" y="105.6" font-size="5.9" text-anchor="middle">(97.19%)</text>
<text x="931.7" y="99.3" font-size="5.9" text-anchor="middle">74</text>
<text x="931.7" y="105.6" font-size="5.9" text-anchor="middle">(1.53%)</text>
<text x="977.7" y="99.3" font-size="5.9" text-anchor="middle">62</text>
<text x="977.7" y="105.6" font-size="5.9" text-anchor="middle">(1.28%)</text>
<text x="884.3" y="241" font-size="5.9" text-anchor="middle">1969</text>
<text x="884.3" y="247.3" font-size="5.9" text-anchor="middle">(92.83%)</text>
<text x="930" y="241" font-size="5.9" text-anchor="middle">65</text>
<text x="930" y="247.3" font-size="5.9" text-anchor="middle">(3.06%)</text>
<text x="976" y="241" font-size="5.9" text-anchor="middle">87</text>
<text x="976" y="247.3" font-size="5.9" text-anchor="middle">(4.10%)</text>
<text x="905" y="159.6" font-size="8.2" text-anchor="middle">W7d_R5d</text>
<text x="905" y="170.4" font-size="8.2" text-anchor="middle">vs</text>
<text x="905" y="181.2" font-size="8.2" text-anchor="middle">W7</text>
<text x="960" y="161" font-size="8.2" text-anchor="middle">C7d_R5d</text>
<text x="960" y="171.8" font-size="8.2" text-anchor="middle">vs</text>
<text x="960" y="182.6" font-size="8.2" text-anchor="middle">C7d</text>
<text x="907.5" y="303" font-size="8.2" text-anchor="middle">W7d_R15d</text>
<text x="907.5" y="313.8" font-size="8.2" text-anchor="middle">vs</text>
<text x="907.5" y="324.6" font-size="8.2" text-anchor="middle">W7d_R5d</text>
<text x="961.5" y="303" font-size="8.2" text-anchor="middle">C7d_R15d</text>
<text x="961.5" y="313.8" font-size="8.2" text-anchor="middle">vs</text>
<text x="961.5" y="324.6" font-size="8.2" text-anchor="middle">C7d_R5d</text>
</g>
<g>
<text x="1058.5" y="14.8" font-size="10" class="a">(A)</text>
<rect x="1095.7" y="101.2" width="18.8" height="42.1" fill="#60c2dc" stroke="#4a8ca4" stroke-width="0.5"/>
<line x1="1105.1" y1="101.2" x2="1105.1" y2="97.6" stroke="#333" stroke-width="0.6" />
<line x1="1103.8" y1="97.6" x2="1106.4" y2="97.6" stroke="#333" stroke-width="0.6" />
<text x="1105.1" y="96.4" font-size="6.4" class="b" text-anchor="middle">cd</text>
<rect x="1118.8" y="107.1" width="19" height="36.2" fill="#60c2dc" stroke="#4a8ca4" stroke-width="0.5"/>
<line x1="1128.3" y1="107.1" x2="1128.3" y2="105.7" stroke="#333" stroke-width="0.6" />
<line x1="1127" y1="105.7" x2="1129.6" y2="105.7" stroke="#333" stroke-width="0.6" />
<text x="1128.3" y="104.5" font-size="6.4" class="b" text-anchor="middle">d</text>
<rect x="1142.3" y="97.5" width="19.2" height="45.8" fill="#60c2dc" stroke="#4a8ca4" stroke-width="0.5"/>
<line x1="1151.9" y1="97.5" x2="1151.9" y2="93.2" stroke="#333" stroke-width="0.6" />
<line x1="1150.6" y1="93.2" x2="1153.2" y2="93.2" stroke="#333" stroke-width="0.6" />
<text x="1151.9" y="92" font-size="6.4" class="b" text-anchor="middle">c</text>
<rect x="1165.8" y="94.1" width="19" height="49.2" fill="#e0665f" stroke="#96605c" stroke-width="0.5"/>
<line x1="1175.3" y1="94.1" x2="1175.3" y2="91.1" stroke="#333" stroke-width="0.6" />
<line x1="1174" y1="91.1" x2="1176.6" y2="91.1" stroke="#333" stroke-width="0.6" />
<text x="1175.3" y="89.9" font-size="6.4" class="b" text-anchor="middle">c</text>
<rect x="1189.1" y="65.4" width="19" height="77.9" fill="#e0665f" stroke="#96605c" stroke-width="0.5"/>
<line x1="1198.6" y1="65.4" x2="1198.6" y2="64" stroke="#333" stroke-width="0.6" />
<line x1="1197.3" y1="64" x2="1199.9" y2="64" stroke="#333" stroke-width="0.6" />
<text x="1198.6" y="62.8" font-size="6.4" class="b" text-anchor="middle">b</text>
<rect x="1212.4" y="40.3" width="19.3" height="103" fill="#e0665f" stroke="#96605c" stroke-width="0.5"/>
<line x1="1222.1" y1="40.3" x2="1222.1" y2="37.6" stroke="#333" stroke-width="0.6" />
<line x1="1220.8" y1="37.6" x2="1223.4" y2="37.6" stroke="#333" stroke-width="0.6" />
<text x="1222.1" y="36.4" font-size="6.4" class="b" text-anchor="middle">a</text>
<rect x="1081.6" y="21.5" width="163.6" height="121.8" fill="none" stroke="#444" stroke-width="0.8"/>
<line x1="1079.1" y1="143.3" x2="1081.6" y2="143.3" stroke="#444" stroke-width="0.7" />
<text x="1078.1" y="145.4" font-size="6.5" class="b" text-anchor="end">0</text>
<line x1="1080.1" y1="133.2" x2="1081.6" y2="133.2" stroke="#444" stroke-width="0.6" />
<line x1="1079.1" y1="123" x2="1081.6" y2="123" stroke="#444" stroke-width="0.7" />
<text x="1078.1" y="125.1" font-size="6.5" class="b" text-anchor="end">100</text>
<line x1="1080.1" y1="112.9" x2="1081.6" y2="112.9" stroke="#444" stroke-width="0.6" />
<line x1="1079.1" y1="102.7" x2="1081.6" y2="102.7" stroke="#444" stroke-width="0.7" />
<text x="1078.1" y="104.8" font-size="6.5" class="b" text-anchor="end">200</text>
<line x1="1080.1" y1="92.6" x2="1081.6" y2="92.6" stroke="#444" stroke-width="0.6" />
<line x1="1079.1" y1="82.4" x2="1081.6" y2="82.4" stroke="#444" stroke-width="0.7" />
<text x="1078.1" y="84.5" font-size="6.5" class="b" text-anchor="end">300</text>
<line x1="1080.1" y1="72.2" x2="1081.6" y2="72.2" stroke="#444" stroke-width="0.6" />
<line x1="1079.1" y1="62.1" x2="1081.6" y2="62.1" stroke="#444" stroke-width="0.7" />
<text x="1078.1" y="64.2" font-size="6.5" class="b" text-anchor="end">400</text>
<line x1="1080.1" y1="52" x2="1081.6" y2="52" stroke="#444" stroke-width="0.6" />
<line x1="1079.1" y1="41.8" x2="1081.6" y2="41.8" stroke="#444" stroke-width="0.7" />
<text x="1078.1" y="43.9" font-size="6.5" class="b" text-anchor="end">500</text>
<line x1="1080.1" y1="31.7" x2="1081.6" y2="31.7" stroke="#444" stroke-width="0.6" />
<line x1="1079.1" y1="21.5" x2="1081.6" y2="21.5" stroke="#444" stroke-width="0.7" />
<text x="1078.1" y="23.6" font-size="6.5" class="b" text-anchor="end">600</text>
<line x1="1105.1" y1="143.3" x2="1105.1" y2="145.8" stroke="#444" stroke-width="0.7" />
<text x="1110.3" y="150.8" font-size="6.5" class="b" text-anchor="end" transform="rotate(-45 1110.3 150.8)">C7d</text>
<line x1="1128.3" y1="143.3" x2="1128.3" y2="145.8" stroke="#444" stroke-width="0.7" />
<text x="1133.5" y="150.8" font-size="6.5" class="b" text-anchor="end" transform="rotate(-45 1133.5 150.8)">C7d_R5d</text>
<line x1="1151.9" y1="143.3" x2="1151.9" y2="145.8" stroke="#444" stroke-width="0.7" />
<text x="1157.1" y="150.8" font-size="6.5" class="b" text-anchor="end" transform="rotate(-45 1157.1 150.8)">C7d_R15d</text>
<line x1="1175.3" y1="143.3" x2="1175.3" y2="145.8" stroke="#444" stroke-width="0.7" />
<text x="1180.5" y="150.8" font-size="6.5" class="b" text-anchor="end" transform="rotate(-45 1180.5 150.8)">W7d</text>
<line x1="1198.6" y1="143.3" x2="1198.6" y2="145.8" stroke="#444" stroke-width="0.7" />
<text x="1203.8" y="150.8" font-size="6.5" class="b" text-anchor="end" transform="rotate(-45 1203.8 150.8)">W7d_R5d</text>
<line x1="1222.1" y1="143.3" x2="1222.1" y2="145.8" stroke="#444" stroke-width="0.7" />
<text x="1227.3" y="150.8" font-size="6.5" class="b" text-anchor="end" transform="rotate(-45 1227.3 150.8)">W7d_R15d</text>
<text x="1065" y="82.4" font-size="7.6" class="b" text-anchor="middle" transform="rotate(-90 1065 82.4)">IAA content (ng/g)</text>
<rect x="1084.4" y="23" width="13.5" height="6.6" fill="#60c2dc" stroke="#4a8ca4" stroke-width="0.4"/>
<rect x="1084.4" y="30.5" width="13.5" height="6.6" fill="#e0665f" stroke="#96605c" stroke-width="0.4"/>
<text x="1098.2" y="28.6" font-size="6.2" class="b">Control</text>
<text x="1098.2" y="36.1" font-size="6.2" class="b">Waterlogging</text>
<text x="1056.1" y="191.2" font-size="10" class="a">(B)</text>
<rect x="1097" y="268.2" width="19" height="50.1" fill="#60c2dc" stroke="#4a8ca4" stroke-width="0.5"/>
<line x1="1106.5" y1="268.2" x2="1106.5" y2="267.3" stroke="#333" stroke-width="0.6" />
<line x1="1105.2" y1="267.3" x2="1107.8" y2="267.3" stroke="#333" stroke-width="0.6" />
<text x="1106.5" y="266.1" font-size="6.4" class="b" text-anchor="middle">d</text>
<rect x="1120.3" y="267.3" width="19" height="51" fill="#60c2dc" stroke="#4a8ca4" stroke-width="0.5"/>
<line x1="1129.8" y1="267.3" x2="1129.8" y2="265.5" stroke="#333" stroke-width="0.6" />
<line x1="1128.5" y1="265.5" x2="1131.1" y2="265.5" stroke="#333" stroke-width="0.6" />
<text x="1129.8" y="264.3" font-size="6.4" class="b" text-anchor="middle">d</text>
<rect x="1143.4" y="272.1" width="19.3" height="46.2" fill="#60c2dc" stroke="#4a8ca4" stroke-width="0.5"/>
<line x1="1153.1" y1="272.1" x2="1153.1" y2="270.7" stroke="#333" stroke-width="0.6" />
<line x1="1151.8" y1="270.7" x2="1154.4" y2="270.7" stroke="#333" stroke-width="0.6" />
<text x="1153.1" y="269.5" font-size="6.4" class="b" text-anchor="middle">d</text>
<rect x="1166.8" y="246.1" width="19" height="72.2" fill="#e0665f" stroke="#96605c" stroke-width="0.5"/>
<line x1="1176.3" y1="246.1" x2="1176.3" y2="242.2" stroke="#333" stroke-width="0.6" />
<line x1="1175" y1="242.2" x2="1177.6" y2="242.2" stroke="#333" stroke-width="0.6" />
<text x="1176.3" y="241" font-size="6.4" class="b" text-anchor="middle">c</text>
<rect x="1190" y="235.6" width="19" height="82.7" fill="#e0665f" stroke="#96605c" stroke-width="0.5"/>
<line x1="1199.5" y1="235.6" x2="1199.5" y2="234.6" stroke="#333" stroke-width="0.6" />
<line x1="1198.2" y1="234.6" x2="1200.8" y2="234.6" stroke="#333" stroke-width="0.6" />
<text x="1199.5" y="233.4" font-size="6.4" class="b" text-anchor="middle">b</text>
<rect x="1213.3" y="226.2" width="18.8" height="92.1" fill="#e0665f" stroke="#96605c" stroke-width="0.5"/>
<line x1="1222.7" y1="226.2" x2="1222.7" y2="223.3" stroke="#333" stroke-width="0.6" />
<line x1="1221.4" y1="223.3" x2="1224" y2="223.3" stroke="#333" stroke-width="0.6" />
<text x="1222.7" y="222.1" font-size="6.4" class="b" text-anchor="middle">a</text>
<rect x="1083.5" y="196.5" width="162.5" height="121.8" fill="none" stroke="#444" stroke-width="0.8"/>
<line x1="1081" y1="318.3" x2="1083.5" y2="318.3" stroke="#444" stroke-width="0.7" />
<text x="1080" y="320.4" font-size="6.5" class="b" text-anchor="end">0</text>
<line x1="1082" y1="306.1" x2="1083.5" y2="306.1" stroke="#444" stroke-width="0.6" />
<line x1="1081" y1="293.9" x2="1083.5" y2="293.9" stroke="#444" stroke-width="0.7" />
<text x="1080" y="296.1" font-size="6.5" class="b" text-anchor="end">30</text>
<line x1="1082" y1="281.8" x2="1083.5" y2="281.8" stroke="#444" stroke-width="0.6" />
<line x1="1081" y1="269.6" x2="1083.5" y2="269.6" stroke="#444" stroke-width="0.7" />
<text x="1080" y="271.7" font-size="6.5" class="b" text-anchor="end">60</text>
<line x1="1082" y1="257.4" x2="1083.5" y2="257.4" stroke="#444" stroke-width="0.6" />
<line x1="1081" y1="245.2" x2="1083.5" y2="245.2" stroke="#444" stroke-width="0.7" />
<text x="1080" y="247.4" font-size="6.5" class="b" text-anchor="end">90</text>
<line x1="1082" y1="233" x2="1083.5" y2="233" stroke="#444" stroke-width="0.6" />
<line x1="1081" y1="220.9" x2="1083.5" y2="220.9" stroke="#444" stroke-width="0.7" />
<text x="1080" y="223" font-size="6.5" class="b" text-anchor="end">120</text>
<line x1="1082" y1="208.7" x2="1083.5" y2="208.7" stroke="#444" stroke-width="0.6" />
<line x1="1081" y1="196.5" x2="1083.5" y2="196.5" stroke="#444" stroke-width="0.7" />
<text x="1080" y="198.6" font-size="6.5" class="b" text-anchor="end">150</text>
<line x1="1106.5" y1="318.3" x2="1106.5" y2="320.8" stroke="#444" stroke-width="0.7" />
<text x="1111.7" y="325.8" font-size="6.5" class="b" text-anchor="end" transform="rotate(-45 1111.7 325.8)">C7d</text>
<line x1="1129.8" y1="318.3" x2="1129.8" y2="320.8" stroke="#444" stroke-width="0.7" />
<text x="1135" y="325.8" font-size="6.5" class="b" text-anchor="end" transform="rotate(-45 1135 325.8)">C7d_R5d</text>
<line x1="1153.1" y1="318.3" x2="1153.1" y2="320.8" stroke="#444" stroke-width="0.7" />
<text x="1158.3" y="325.8" font-size="6.5" class="b" text-anchor="end" transform="rotate(-45 1158.3 325.8)">C7d_R15d</text>
<line x1="1176.3" y1="318.3" x2="1176.3" y2="320.8" stroke="#444" stroke-width="0.7" />
<text x="1181.5" y="325.8" font-size="6.5" class="b" text-anchor="end" transform="rotate(-45 1181.5 325.8)">W7d</text>
<line x1="1199.5" y1="318.3" x2="1199.5" y2="320.8" stroke="#444" stroke-width="0.7" />
<text x="1204.7" y="325.8" font-size="6.5" class="b" text-anchor="end" transform="rotate(-45 1204.7 325.8)">W7d_R5d</text>
<line x1="1222.7" y1="318.3" x2="1222.7" y2="320.8" stroke="#444" stroke-width="0.7" />
<text x="1227.9" y="325.8" font-size="6.5" class="b" text-anchor="end" transform="rotate(-45 1227.9 325.8)">W7d_R15d</text>
<text x="1067" y="257.4" font-size="7.6" class="b" text-anchor="middle" transform="rotate(-90 1067 257.4)">JA content (ng/g)</text>
<text x="1058.8" y="365.2" font-size="10" class="a">(C)</text>
<rect x="1097.3" y="471.3" width="19.4" height="21.3" fill="#60c2dc" stroke="#4a8ca4" stroke-width="0.5"/>
<line x1="1107" y1="471.3" x2="1107" y2="467.4" stroke="#333" stroke-width="0.6" />
<line x1="1105.7" y1="467.4" x2="1108.3" y2="467.4" stroke="#333" stroke-width="0.6" />
<text x="1107" y="466.2" font-size="6.4" class="b" text-anchor="middle">c</text>
<rect x="1120.6" y="466.5" width="19.2" height="26.1" fill="#60c2dc" stroke="#4a8ca4" stroke-width="0.5"/>
<line x1="1130.2" y1="466.5" x2="1130.2" y2="464.2" stroke="#333" stroke-width="0.6" />
<line x1="1128.9" y1="464.2" x2="1131.5" y2="464.2" stroke="#333" stroke-width="0.6" />
<text x="1130.2" y="463" font-size="6.4" class="b" text-anchor="middle">bc</text>
<rect x="1143.9" y="454.3" width="19" height="38.3" fill="#60c2dc" stroke="#4a8ca4" stroke-width="0.5"/>
<line x1="1153.4" y1="454.3" x2="1153.4" y2="449.3" stroke="#333" stroke-width="0.6" />
<line x1="1152.1" y1="449.3" x2="1154.7" y2="449.3" stroke="#333" stroke-width="0.6" />
<text x="1153.4" y="448.1" font-size="6.4" class="b" text-anchor="middle">b</text>
<rect x="1167" y="401.4" width="18.8" height="91.2" fill="#e0665f" stroke="#96605c" stroke-width="0.5"/>
<line x1="1176.4" y1="401.4" x2="1176.4" y2="391.9" stroke="#333" stroke-width="0.6" />
<line x1="1175.1" y1="391.9" x2="1177.7" y2="391.9" stroke="#333" stroke-width="0.6" />
<text x="1176.4" y="390.7" font-size="6.4" class="b" text-anchor="middle">a</text>
<rect x="1190.1" y="477.2" width="18.9" height="15.4" fill="#e0665f" stroke="#96605c" stroke-width="0.5"/>
<line x1="1199.5" y1="477.2" x2="1199.5" y2="476.4" stroke="#333" stroke-width="0.6" />
<line x1="1198.2" y1="476.4" x2="1200.8" y2="476.4" stroke="#333" stroke-width="0.6" />
<text x="1199.5" y="475.2" font-size="6.4" class="b" text-anchor="middle">c</text>
<rect x="1213.2" y="469.2" width="18.9" height="23.4" fill="#e0665f" stroke="#96605c" stroke-width="0.5"/>
<line x1="1222.7" y1="469.2" x2="1222.7" y2="468.4" stroke="#333" stroke-width="0.6" />
<line x1="1221.4" y1="468.4" x2="1224" y2="468.4" stroke="#333" stroke-width="0.6" />
<text x="1222.7" y="467.2" font-size="6.4" class="b" text-anchor="middle">c</text>
<rect x="1083.5" y="371.2" width="162.5" height="121.4" fill="none" stroke="#444" stroke-width="0.8"/>
<line x1="1081" y1="492.6" x2="1083.5" y2="492.6" stroke="#444" stroke-width="0.7" />
<text x="1080" y="494.7" font-size="6.5" class="b" text-anchor="end">0</text>
<line x1="1082" y1="482.5" x2="1083.5" y2="482.5" stroke="#444" stroke-width="0.6" />
<line x1="1081" y1="472.4" x2="1083.5" y2="472.4" stroke="#444" stroke-width="0.7" />
<text x="1080" y="474.5" font-size="6.5" class="b" text-anchor="end">10</text>
<line x1="1082" y1="462.2" x2="1083.5" y2="462.2" stroke="#444" stroke-width="0.6" />
<line x1="1081" y1="452.1" x2="1083.5" y2="452.1" stroke="#444" stroke-width="0.7" />
<text x="1080" y="454.3" font-size="6.5" class="b" text-anchor="end">20</text>
<line x1="1082" y1="442" x2="1083.5" y2="442" stroke="#444" stroke-width="0.6" />
<line x1="1081" y1="431.9" x2="1083.5" y2="431.9" stroke="#444" stroke-width="0.7" />
<text x="1080" y="434" font-size="6.5" class="b" text-anchor="end">30</text>
<line x1="1082" y1="421.8" x2="1083.5" y2="421.8" stroke="#444" stroke-width="0.6" />
<line x1="1081" y1="411.7" x2="1083.5" y2="411.7" stroke="#444" stroke-width="0.7" />
<text x="1080" y="413.8" font-size="6.5" class="b" text-anchor="end">40</text>
<line x1="1082" y1="401.6" x2="1083.5" y2="401.6" stroke="#444" stroke-width="0.6" />
<line x1="1081" y1="391.4" x2="1083.5" y2="391.4" stroke="#444" stroke-width="0.7" />
<text x="1080" y="393.6" font-size="6.5" class="b" text-anchor="end">50</text>
<line x1="1082" y1="381.3" x2="1083.5" y2="381.3" stroke="#444" stroke-width="0.6" />
<line x1="1081" y1="371.2" x2="1083.5" y2="371.2" stroke="#444" stroke-width="0.7" />
<text x="1080" y="373.3" font-size="6.5" class="b" text-anchor="end">60</text>
<line x1="1107" y1="492.6" x2="1107" y2="495.1" stroke="#444" stroke-width="0.7" />
<text x="1112.2" y="500.1" font-size="6.5" class="b" text-anchor="end" transform="rotate(-45 1112.2 500.1)">C7d</text>
<line x1="1130.2" y1="492.6" x2="1130.2" y2="495.1" stroke="#444" stroke-width="0.7" />
<text x="1135.4" y="500.1" font-size="6.5" class="b" text-anchor="end" transform="rotate(-45 1135.4 500.1)">C7d_R5d</text>
<line x1="1153.4" y1="492.6" x2="1153.4" y2="495.1" stroke="#444" stroke-width="0.7" />
<text x="1158.6" y="500.1" font-size="6.5" class="b" text-anchor="end" transform="rotate(-45 1158.6 500.1)">C7d_R15d</text>
<line x1="1176.4" y1="492.6" x2="1176.4" y2="495.1" stroke="#444" stroke-width="0.7" />
<text x="1181.6" y="500.1" font-size="6.5" class="b" text-anchor="end" transform="rotate(-45 1181.6 500.1)">W7d</text>
<line x1="1199.5" y1="492.6" x2="1199.5" y2="495.1" stroke="#444" stroke-width="0.7" />
<text x="1204.8" y="500.1" font-size="6.5" class="b" text-anchor="end" transform="rotate(-45 1204.8 500.1)">W7d_R5d</text>
<line x1="1222.7" y1="492.6" x2="1222.7" y2="495.1" stroke="#444" stroke-width="0.7" />
<text x="1227.9" y="500.1" font-size="6.5" class="b" text-anchor="end" transform="rotate(-45 1227.9 500.1)">W7d_R15d</text>
<text x="1071" y="431.9" font-size="7.6" class="b" text-anchor="middle" transform="rotate(-90 1071 431.9)">Ethylene release content (nL/g)</text>
</g>
<g>
<text x="543.6" y="204.4" font-size="10.2" class="a">(D)</text>
<rect x="646.3" y="203.4" width="112.1" height="140.6" fill="#fff" stroke="#333" stroke-width="0.8"/>
<line x1="644.5" y1="207" x2="646.3" y2="207" stroke="#333" stroke-width="0.5" />
<text x="643.7" y="208.4" font-size="4.4" text-anchor="end">Phenylpropanoid biosynthesis</text>
<circle cx="666.4" cy="207" r="2.9" fill="#c9423f"/>
<line x1="644.5" y1="214" x2="646.3" y2="214" stroke="#333" stroke-width="0.5" />
<text x="643.7" y="215.5" font-size="4.4" text-anchor="end">Plant hormone signal transduction</text>
<circle cx="661.3" cy="214" r="2.7" fill="#b15b5c"/>
<line x1="644.5" y1="221.1" x2="646.3" y2="221.1" stroke="#333" stroke-width="0.5" />
<text x="643.7" y="222.5" font-size="4.4" text-anchor="end">Monoterpenoid biosynthesis</text>
<circle cx="748.4" cy="221.1" r="0.8" fill="#85818e"/>
<line x1="644.5" y1="228.1" x2="646.3" y2="228.1" stroke="#333" stroke-width="0.5" />
<text x="643.7" y="229.6" font-size="4.4" text-anchor="end">DNA replication</text>
<circle cx="680.1" cy="228.1" r="1.5" fill="#8c8088"/>
<line x1="644.5" y1="235.2" x2="646.3" y2="235.2" stroke="#333" stroke-width="0.5" />
<text x="643.7" y="236.6" font-size="4.4" text-anchor="end">MAPK signaling pathway - plant</text>
<circle cx="661.7" cy="235.2" r="2.4" fill="#927a81"/>
<line x1="644.5" y1="242.2" x2="646.3" y2="242.2" stroke="#333" stroke-width="0.5" />
<text x="643.7" y="243.6" font-size="4.4" text-anchor="end">Tropane, piperidine and pyridine alkaloid biosynthesis</text>
<circle cx="662.7" cy="242.2" r="2" fill="#6487ae"/>
<line x1="644.5" y1="249.3" x2="646.3" y2="249.3" stroke="#333" stroke-width="0.5" />
<text x="643.7" y="250.7" font-size="4.4" text-anchor="end">Glycolysis / Gluconeogenesis</text>
<circle cx="659.1" cy="249.3" r="2.4" fill="#5a88b9"/>
<line x1="644.5" y1="256.3" x2="646.3" y2="256.3" stroke="#333" stroke-width="0.5" />
<text x="643.7" y="257.7" font-size="4.4" text-anchor="end">Starch and sucrose metabolism</text>
<circle cx="656.8" cy="256.3" r="2.4" fill="#518ac2"/>
<line x1="644.5" y1="263.4" x2="646.3" y2="263.4" stroke="#333" stroke-width="0.5" />
<text x="643.7" y="264.8" font-size="4.4" text-anchor="end">Sphingolipid metabolism</text>
<circle cx="666.4" cy="263.4" r="1.5" fill="#5589be"/>
<line x1="644.5" y1="270.4" x2="646.3" y2="270.4" stroke="#333" stroke-width="0.5" />
<text x="643.7" y="271.8" font-size="4.4" text-anchor="end">Butanoate metabolism</text>
<circle cx="681.1" cy="270.4" r="0.8" fill="#7284a2"/>
<line x1="644.5" y1="277.5" x2="646.3" y2="277.5" stroke="#333" stroke-width="0.5" />
<text x="643.7" y="278.9" font-size="4.4" text-anchor="end">Flavonoid biosynthesis</text>
<circle cx="659.5" cy="277.5" r="1.7" fill="#5789bb"/>
<line x1="644.5" y1="284.5" x2="646.3" y2="284.5" stroke="#333" stroke-width="0.5" />
<text x="643.7" y="285.9" font-size="4.4" text-anchor="end">Diterpenoid biosynthesis</text>
<circle cx="669.1" cy="284.5" r="1.2" fill="#5789bb"/>
<line x1="644.5" y1="291.6" x2="646.3" y2="291.6" stroke="#333" stroke-width="0.5" />
<text x="643.7" y="293" font-size="4.4" text-anchor="end">Tyrosine metabolism</text>
<circle cx="662.2" cy="291.6" r="1.5" fill="#5a88b9"/>
<line x1="644.5" y1="298.6" x2="646.3" y2="298.6" stroke="#333" stroke-width="0.5" />
<text x="643.7" y="300" font-size="4.4" text-anchor="end">alpha-Linolenic acid metabolism</text>
<circle cx="664.7" cy="298.6" r="1.2" fill="#5a88b9"/>
<line x1="644.5" y1="305.7" x2="646.3" y2="305.7" stroke="#333" stroke-width="0.5" />
<text x="643.7" y="307.1" font-size="4.4" text-anchor="end">Fructose and mannose metabolism</text>
<circle cx="660.3" cy="305.7" r="1.5" fill="#5789bb"/>
<line x1="644.5" y1="312.7" x2="646.3" y2="312.7" stroke="#333" stroke-width="0.5" />
<text x="643.7" y="314.1" font-size="4.4" text-anchor="end">beta-Alanine metabolism</text>
<circle cx="663" cy="312.7" r="1.2" fill="#5789bb"/>
<line x1="644.5" y1="319.8" x2="646.3" y2="319.8" stroke="#333" stroke-width="0.5" />
<text x="643.7" y="321.2" font-size="4.4" text-anchor="end">Cyanoamino acid metabolism</text>
<circle cx="663.7" cy="319.8" r="1.2" fill="#5789bb"/>
<line x1="644.5" y1="326.8" x2="646.3" y2="326.8" stroke="#333" stroke-width="0.5" />
<text x="643.7" y="328.2" font-size="4.4" text-anchor="end">Glutathione metabolism</text>
<circle cx="655.4" cy="326.8" r="2.2" fill="#518ac2"/>
<line x1="644.5" y1="333.9" x2="646.3" y2="333.9" stroke="#333" stroke-width="0.5" />
<text x="643.7" y="335.3" font-size="4.4" text-anchor="end">Other glycan degradation</text>
<circle cx="675.2" cy="333.9" r="0.8" fill="#7284a2"/>
<line x1="644.5" y1="340.9" x2="646.3" y2="340.9" stroke="#333" stroke-width="0.5" />
<text x="643.7" y="342.3" font-size="4.4" text-anchor="end">Motor proteins</text>
<circle cx="655.4" cy="340.9" r="2.2" fill="#518ac2"/>
<line x1="646.3" y1="344" x2="646.3" y2="345.6" stroke="#333" stroke-width="0.5" />
<text x="646.3" y="349.6" font-size="3.6" text-anchor="middle">0.1</text>
<line x1="656.5" y1="344" x2="656.5" y2="345.6" stroke="#333" stroke-width="0.5" />
<text x="656.5" y="349.6" font-size="3.6" text-anchor="middle">0.15</text>
<line x1="666.7" y1="344" x2="666.7" y2="345.6" stroke="#333" stroke-width="0.5" />
<text x="666.7" y="349.6" font-size="3.6" text-anchor="middle">0.2</text>
<line x1="676.8" y1="344" x2="676.8" y2="345.6" stroke="#333" stroke-width="0.5" />
<text x="676.8" y="349.6" font-size="3.6" text-anchor="middle">0.25</text>
<line x1="687" y1="344" x2="687" y2="345.6" stroke="#333" stroke-width="0.5" />
<text x="687" y="349.6" font-size="3.6" text-anchor="middle">0.3</text>
<line x1="697.2" y1="344" x2="697.2" y2="345.6" stroke="#333" stroke-width="0.5" />
<text x="697.2" y="349.6" font-size="3.6" text-anchor="middle">0.35</text>
<line x1="707.3" y1="344" x2="707.3" y2="345.6" stroke="#333" stroke-width="0.5" />
<text x="707.3" y="349.6" font-size="3.6" text-anchor="middle">0.4</text>
<line x1="717.5" y1="344" x2="717.5" y2="345.6" stroke="#333" stroke-width="0.5" />
<text x="717.5" y="349.6" font-size="3.6" text-anchor="middle">0.45</text>
<line x1="727.7" y1="344" x2="727.7" y2="345.6" stroke="#333" stroke-width="0.5" />
<text x="727.7" y="349.6" font-size="3.6" text-anchor="middle">0.5</text>
<line x1="737.8" y1="344" x2="737.8" y2="345.6" stroke="#333" stroke-width="0.5" />
<text x="737.8" y="349.6" font-size="3.6" text-anchor="middle">0.55</text>
<line x1="748" y1="344" x2="748" y2="345.6" stroke="#333" stroke-width="0.5" />
<text x="748" y="349.6" font-size="3.6" text-anchor="middle">0.6</text>
<line x1="758.2" y1="344" x2="758.2" y2="345.6" stroke="#333" stroke-width="0.5" />
<text x="758.2" y="349.6" font-size="3.6" text-anchor="middle">0.65</text>
<text x="702.4" y="354.6" font-size="4.2" class="b" text-anchor="middle">Rich Factor</text>
<rect x="765" y="240.8" width="6.2" height="28.6" fill="url(#dg)"/>
<text x="764.5" y="238" font-size="3.2" class="b">-log10(Padjust)</text>
<text x="772.7" y="243.3" font-size="2.8">5</text>
<text x="772.7" y="249.9" font-size="2.8">4</text>
<text x="772.7" y="256.6" font-size="2.8">3</text>
<text x="772.7" y="263.2" font-size="2.8">2</text>
<text x="772.7" y="269.9" font-size="2.8">1</text>
<text x="764.5" y="281.6" font-size="3.2" class="b">Number</text>
<circle cx="766" cy="285.8" r="0.7" fill="#000"/>
<text x="771.5" y="286.8" font-size="2.8">4</text>
<circle cx="766" cy="291.4" r="1.5" fill="#000"/>
<text x="771.5" y="292.4" font-size="2.8">22</text>
<circle cx="766" cy="297" r="2.1" fill="#000"/>
<text x="771.5" y="298" font-size="2.8">39</text>
<circle cx="766" cy="303.7" r="2.7" fill="#000"/>
<text x="771.5" y="304.7" font-size="2.8">56</text>
<text x="543.5" y="365" font-size="10.2" class="a">(E)</text>
<rect x="645.8" y="366.6" width="114" height="143.6" fill="#fff" stroke="#333" stroke-width="0.8"/>
<line x1="644" y1="370.5" x2="645.8" y2="370.5" stroke="#333" stroke-width="0.5" />
<text x="643.2" y="371.9" font-size="4.4" text-anchor="end">MAPK signaling pathway - plant</text>
<circle cx="662.4" cy="370.5" r="2.8" fill="#c9423f"/>
<line x1="644" y1="377.7" x2="645.8" y2="377.7" stroke="#333" stroke-width="0.5" />
<text x="643.2" y="379.1" font-size="4.4" text-anchor="end">Butanoate metabolism</text>
<circle cx="712.7" cy="377.7" r="1.1" fill="#b15b5c"/>
<line x1="644" y1="384.8" x2="645.8" y2="384.8" stroke="#333" stroke-width="0.5" />
<text x="643.2" y="386.3" font-size="4.4" text-anchor="end">DNA replication</text>
<circle cx="678.8" cy="384.8" r="1.5" fill="#aa6164"/>
<line x1="644" y1="392" x2="645.8" y2="392" stroke="#333" stroke-width="0.5" />
<text x="643.2" y="393.4" font-size="4.4" text-anchor="end">alpha-Linolenic acid metabolism</text>
<circle cx="681.6" cy="392" r="1.5" fill="#aa6164"/>
<line x1="644" y1="399.2" x2="645.8" y2="399.2" stroke="#333" stroke-width="0.5" />
<text x="643.2" y="400.6" font-size="4.4" text-anchor="end">Glycolysis / Gluconeogenesis</text>
<circle cx="659.9" cy="399.2" r="2.3" fill="#bf4c4b"/>
<line x1="644" y1="406.4" x2="645.8" y2="406.4" stroke="#333" stroke-width="0.5" />
<text x="643.2" y="407.8" font-size="4.4" text-anchor="end">Starch and sucrose metabolism</text>
<circle cx="658.2" cy="406.4" r="2.6" fill="#c34846"/>
<line x1="644" y1="413.5" x2="645.8" y2="413.5" stroke="#333" stroke-width="0.5" />
<text x="643.2" y="415" font-size="4.4" text-anchor="end">Monoterpenoid biosynthesis</text>
<circle cx="745.5" cy="413.5" r="0.8" fill="#8c8088"/>
<line x1="644" y1="420.7" x2="645.8" y2="420.7" stroke="#333" stroke-width="0.5" />
<text x="643.2" y="422.1" font-size="4.4" text-anchor="end">beta-Alanine metabolism</text>
<circle cx="670.5" cy="420.7" r="1.3" fill="#9e6d72"/>
<line x1="644" y1="427.9" x2="645.8" y2="427.9" stroke="#333" stroke-width="0.5" />
<text x="643.2" y="429.3" font-size="4.4" text-anchor="end">Plant hormone signal transduction</text>
<circle cx="653.5" cy="427.9" r="2.8" fill="#aa6164"/>
<line x1="644" y1="435.1" x2="645.8" y2="435.1" stroke="#333" stroke-width="0.5" />
<text x="643.2" y="436.5" font-size="4.4" text-anchor="end">Pentose phosphate pathway</text>
<circle cx="668.6" cy="435.1" r="1.3" fill="#8c8088"/>
<line x1="644" y1="442.2" x2="645.8" y2="442.2" stroke="#333" stroke-width="0.5" />
<text x="643.2" y="443.6" font-size="4.4" text-anchor="end">Phenylpropanoid biosynthesis</text>
<circle cx="651.8" cy="442.2" r="2.8" fill="#9b7176"/>
<line x1="644" y1="449.4" x2="645.8" y2="449.4" stroke="#333" stroke-width="0.5" />
<text x="643.2" y="450.8" font-size="4.4" text-anchor="end">Biosynthesis of various plant secondary metabolites</text>
<circle cx="663.1" cy="449.4" r="1.5" fill="#a26a6e"/>
<line x1="644" y1="456.6" x2="645.8" y2="456.6" stroke="#333" stroke-width="0.5" />
<text x="643.2" y="458" font-size="4.4" text-anchor="end">Phenylalanine, tyrosine and tryptophan biosynthesis</text>
<circle cx="666.9" cy="456.6" r="1.1" fill="#818292"/>
<line x1="644" y1="463.8" x2="645.8" y2="463.8" stroke="#333" stroke-width="0.5" />
<text x="643.2" y="465.2" font-size="4.4" text-anchor="end">Sphingolipid metabolism</text>
<circle cx="663.1" cy="463.8" r="1.3" fill="#5e88b5"/>
<line x1="644" y1="470.9" x2="645.8" y2="470.9" stroke="#333" stroke-width="0.5" />
<text x="643.2" y="472.3" font-size="4.4" text-anchor="end">Homologous recombination</text>
<circle cx="662.2" cy="470.9" r="1.3" fill="#5a88b9"/>
<line x1="644" y1="478.1" x2="645.8" y2="478.1" stroke="#333" stroke-width="0.5" />
<text x="643.2" y="479.5" font-size="4.4" text-anchor="end">Fatty acid degradation</text>
<circle cx="661.6" cy="478.1" r="1.3" fill="#5a88b9"/>
<line x1="644" y1="485.3" x2="645.8" y2="485.3" stroke="#333" stroke-width="0.5" />
<text x="643.2" y="486.7" font-size="4.4" text-anchor="end">Brassinosteroid biosynthesis</text>
<circle cx="663.1" cy="485.3" r="1.1" fill="#5e88b5"/>
<line x1="644" y1="492.5" x2="645.8" y2="492.5" stroke="#333" stroke-width="0.5" />
<text x="643.2" y="493.9" font-size="4.4" text-anchor="end">Tropane, piperidine and pyridine alkaloid biosynthesis</text>
<circle cx="652.2" cy="492.5" r="1.9" fill="#518ac2"/>
<line x1="644" y1="499.6" x2="645.8" y2="499.6" stroke="#333" stroke-width="0.5" />
<text x="643.2" y="501" font-size="4.4" text-anchor="end">Stilbenoid, diarylheptanoid and gingerol biosynthesis</text>
<circle cx="670.1" cy="499.6" r="0.9" fill="#5e88b5"/>
<line x1="644" y1="506.8" x2="645.8" y2="506.8" stroke="#333" stroke-width="0.5" />
<text x="643.2" y="508.2" font-size="4.4" text-anchor="end">Linoleic acid metabolism</text>
<circle cx="682" cy="506.8" r="0.8" fill="#8c8088"/>
<line x1="645.8" y1="510.2" x2="645.8" y2="511.8" stroke="#333" stroke-width="0.5" />
<text x="645.8" y="515.8" font-size="3.6" text-anchor="middle">0.15</text>
<line x1="660" y1="510.2" x2="660" y2="511.8" stroke="#333" stroke-width="0.5" />
<text x="660" y="515.8" font-size="3.6" text-anchor="middle">0.2</text>
<line x1="674.2" y1="510.2" x2="674.2" y2="511.8" stroke="#333" stroke-width="0.5" />
<text x="674.2" y="515.8" font-size="3.6" text-anchor="middle">0.25</text>
<line x1="688.4" y1="510.2" x2="688.4" y2="511.8" stroke="#333" stroke-width="0.5" />
<text x="688.4" y="515.8" font-size="3.6" text-anchor="middle">0.3</text>
<line x1="702.7" y1="510.2" x2="702.7" y2="511.8" stroke="#333" stroke-width="0.5" />
<text x="702.7" y="515.8" font-size="3.6" text-anchor="middle">0.35</text>
<line x1="716.9" y1="510.2" x2="716.9" y2="511.8" stroke="#333" stroke-width="0.5" />
<text x="716.9" y="515.8" font-size="3.6" text-anchor="middle">0.4</text>
<line x1="731.1" y1="510.2" x2="731.1" y2="511.8" stroke="#333" stroke-width="0.5" />
<text x="731.1" y="515.8" font-size="3.6" text-anchor="middle">0.45</text>
<line x1="745.3" y1="510.2" x2="745.3" y2="511.8" stroke="#333" stroke-width="0.5" />
<text x="745.3" y="515.8" font-size="3.6" text-anchor="middle">0.5</text>
<line x1="759.5" y1="510.2" x2="759.5" y2="511.8" stroke="#333" stroke-width="0.5" />
<text x="759.5" y="515.8" font-size="3.6" text-anchor="middle">0.55</text>
<text x="702.7" y="521" font-size="4.2" class="b" text-anchor="middle">Rich Factor</text>
<rect x="767.3" y="405" width="5.3" height="29.2" fill="url(#dg)"/>
<text x="766.8" y="402" font-size="3.2" class="b">-log10(Padjust)</text>
<text x="774.1" y="407.5" font-size="2.8">1.8</text>
<text x="774.1" y="411.4" font-size="2.8">1.6</text>
<text x="774.1" y="415.3" font-size="2.8">1.4</text>
<text x="774.1" y="419.2" font-size="2.8">1.2</text>
<text x="774.1" y="423" font-size="2.8">1</text>
<text x="774.1" y="426.9" font-size="2.8">0.800</text>
<text x="774.1" y="430.8" font-size="2.8">0.600</text>
<text x="774.1" y="434.7" font-size="2.8">0.400</text>
<text x="766.8" y="446.4" font-size="3.2" class="b">Number</text>
<circle cx="768.3" cy="450.1" r="0.6" fill="#000"/>
<text x="773.8" y="451.1" font-size="2.8">5</text>
<circle cx="768.3" cy="456.3" r="1.6" fill="#000"/>
<text x="773.8" y="457.3" font-size="2.8">20</text>
<circle cx="768.3" cy="462.1" r="2.2" fill="#000"/>
<text x="773.8" y="463.1" font-size="2.8">34</text>
<circle cx="768.3" cy="468.5" r="2.8" fill="#000"/>
<text x="773.8" y="469.5" font-size="2.8">51</text>
<text x="798.1" y="364.6" font-size="10.2" class="a">(F)</text>
<rect x="890.1" y="365.3" width="117.7" height="146" fill="#fff" stroke="#333" stroke-width="0.8"/>
<line x1="888.3" y1="368.8" x2="890.1" y2="368.8" stroke="#333" stroke-width="0.5" />
<text x="887.5" y="370.2" font-size="4.4" text-anchor="end">Cysteine and methionine metabolism</text>
<circle cx="903.4" cy="368.8" r="2.3" fill="#c9423f"/>
<line x1="888.3" y1="376.1" x2="890.1" y2="376.1" stroke="#333" stroke-width="0.5" />
<text x="887.5" y="377.5" font-size="4.4" text-anchor="end">Glycolysis / Gluconeogenesis</text>
<circle cx="900.6" cy="376.1" r="2.8" fill="#c74442"/>
<line x1="888.3" y1="383.4" x2="890.1" y2="383.4" stroke="#333" stroke-width="0.5" />
<text x="887.5" y="384.8" font-size="4.4" text-anchor="end">Phenylalanine, tyrosine and tryptophan biosynthesis</text>
<circle cx="906.8" cy="383.4" r="1.7" fill="#bd4e4e"/>
<line x1="888.3" y1="390.7" x2="890.1" y2="390.7" stroke="#333" stroke-width="0.5" />
<text x="887.5" y="392.1" font-size="4.4" text-anchor="end">Amino sugar and nucleotide sugar metabolism</text>
<circle cx="901.2" cy="390.7" r="2.6" fill="#bd4e4e"/>
<line x1="888.3" y1="398" x2="890.1" y2="398" stroke="#333" stroke-width="0.5" />
<text x="887.5" y="399.4" font-size="4.4" text-anchor="end">alpha-Linolenic acid metabolism</text>
<circle cx="907.2" cy="398" r="1.9" fill="#bd4e4e"/>
<line x1="888.3" y1="405.2" x2="890.1" y2="405.2" stroke="#333" stroke-width="0.5" />
<text x="887.5" y="406.7" font-size="4.4" text-anchor="end">Biosynthesis of various plant secondary metabolites</text>
<circle cx="903.1" cy="405.2" r="1.9" fill="#ae5d5f"/>
<line x1="888.3" y1="412.5" x2="890.1" y2="412.5" stroke="#333" stroke-width="0.5" />
<text x="887.5" y="413.9" font-size="4.4" text-anchor="end">Selenocompound metabolism</text>
<circle cx="915.3" cy="412.5" r="1.1" fill="#927a81"/>
<line x1="888.3" y1="419.8" x2="890.1" y2="419.8" stroke="#333" stroke-width="0.5" />
<text x="887.5" y="421.2" font-size="4.4" text-anchor="end">Nitrogen metabolism</text>
<circle cx="904.2" cy="419.8" r="1.7" fill="#a4676b"/>
<line x1="888.3" y1="427.1" x2="890.1" y2="427.1" stroke="#333" stroke-width="0.5" />
<text x="887.5" y="428.5" font-size="4.4" text-anchor="end">Carbon fixation in photosynthetic organisms</text>
<circle cx="901.9" cy="427.1" r="2.1" fill="#a4676b"/>
<line x1="888.3" y1="434.4" x2="890.1" y2="434.4" stroke="#333" stroke-width="0.5" />
<text x="887.5" y="435.8" font-size="4.4" text-anchor="end">Linoleic acid metabolism</text>
<circle cx="913.8" cy="434.4" r="1.1" fill="#85818e"/>
<line x1="888.3" y1="441.7" x2="890.1" y2="441.7" stroke="#333" stroke-width="0.5" />
<text x="887.5" y="443.1" font-size="4.4" text-anchor="end">Plant hormone signal transduction</text>
<circle cx="898.9" cy="441.7" r="3" fill="#8c8088"/>
<line x1="888.3" y1="449" x2="890.1" y2="449" stroke="#333" stroke-width="0.5" />
<text x="887.5" y="450.4" font-size="4.4" text-anchor="end">Diterpenoid biosynthesis</text>
<circle cx="904.4" cy="449" r="1.5" fill="#78839b"/>
<line x1="888.3" y1="456.3" x2="890.1" y2="456.3" stroke="#333" stroke-width="0.5" />
<text x="887.5" y="457.7" font-size="4.4" text-anchor="end">Arachidonic acid metabolism</text>
<circle cx="914.9" cy="456.3" r="1.1" fill="#85818e"/>
<line x1="888.3" y1="463.6" x2="890.1" y2="463.6" stroke="#333" stroke-width="0.5" />
<text x="887.5" y="465" font-size="4.4" text-anchor="end">Phenylpropanoid biosynthesis</text>
<circle cx="898.7" cy="463.6" r="3" fill="#6b86a8"/>
<line x1="888.3" y1="470.9" x2="890.1" y2="470.9" stroke="#333" stroke-width="0.5" />
<text x="887.5" y="472.3" font-size="4.4" text-anchor="end">Starch and sucrose metabolism</text>
<circle cx="899.1" cy="470.9" r="2.8" fill="#6b86a8"/>
<line x1="888.3" y1="478.1" x2="890.1" y2="478.1" stroke="#333" stroke-width="0.5" />
<text x="887.5" y="479.6" font-size="4.4" text-anchor="end">Fatty acid degradation</text>
<circle cx="901.9" cy="478.1" r="1.7" fill="#6287b1"/>
<line x1="888.3" y1="485.4" x2="890.1" y2="485.4" stroke="#333" stroke-width="0.5" />
<text x="887.5" y="486.8" font-size="4.4" text-anchor="end">Glyoxylate and dicarboxylate metabolism</text>
<circle cx="900.4" cy="485.4" r="1.9" fill="#7284a2"/>
<line x1="888.3" y1="492.7" x2="890.1" y2="492.7" stroke="#333" stroke-width="0.5" />
<text x="887.5" y="494.1" font-size="4.4" text-anchor="end">One carbon pool by folate</text>
<circle cx="907.8" cy="492.7" r="1.1" fill="#6287b1"/>
<line x1="888.3" y1="500" x2="890.1" y2="500" stroke="#333" stroke-width="0.5" />
<text x="887.5" y="501.4" font-size="4.4" text-anchor="end">Base excision repair</text>
<circle cx="901" cy="500" r="1.7" fill="#4d8bc5"/>
<line x1="888.3" y1="507.3" x2="890.1" y2="507.3" stroke="#333" stroke-width="0.5" />
<text x="887.5" y="508.7" font-size="4.4" text-anchor="end">Polyketide sugar unit biosynthesis</text>
<circle cx="996.9" cy="507.3" r="0.8" fill="#8c8088"/>
<line x1="890.1" y1="511.3" x2="890.1" y2="512.9" stroke="#333" stroke-width="0.5" />
<text x="890.1" y="516.9" font-size="3.6" text-anchor="middle">0</text>
<line x1="900.8" y1="511.3" x2="900.8" y2="512.9" stroke="#333" stroke-width="0.5" />
<text x="900.8" y="516.9" font-size="3.6" text-anchor="middle">0.1</text>
<line x1="911.5" y1="511.3" x2="911.5" y2="512.9" stroke="#333" stroke-width="0.5" />
<text x="911.5" y="516.9" font-size="3.6" text-anchor="middle">0.2</text>
<line x1="922.2" y1="511.3" x2="922.2" y2="512.9" stroke="#333" stroke-width="0.5" />
<text x="922.2" y="516.9" font-size="3.6" text-anchor="middle">0.3</text>
<line x1="932.9" y1="511.3" x2="932.9" y2="512.9" stroke="#333" stroke-width="0.5" />
<text x="932.9" y="516.9" font-size="3.6" text-anchor="middle">0.4</text>
<line x1="943.6" y1="511.3" x2="943.6" y2="512.9" stroke="#333" stroke-width="0.5" />
<text x="943.6" y="516.9" font-size="3.6" text-anchor="middle">0.5</text>
<line x1="954.3" y1="511.3" x2="954.3" y2="512.9" stroke="#333" stroke-width="0.5" />
<text x="954.3" y="516.9" font-size="3.6" text-anchor="middle">0.6</text>
<line x1="965" y1="511.3" x2="965" y2="512.9" stroke="#333" stroke-width="0.5" />
<text x="965" y="516.9" font-size="3.6" text-anchor="middle">0.7</text>
<line x1="975.7" y1="511.3" x2="975.7" y2="512.9" stroke="#333" stroke-width="0.5" />
<text x="975.7" y="516.9" font-size="3.6" text-anchor="middle">0.8</text>
<line x1="986.4" y1="511.3" x2="986.4" y2="512.9" stroke="#333" stroke-width="0.5" />
<text x="986.4" y="516.9" font-size="3.6" text-anchor="middle">0.9</text>
<line x1="997.1" y1="511.3" x2="997.1" y2="512.9" stroke="#333" stroke-width="0.5" />
<text x="997.1" y="516.9" font-size="3.6" text-anchor="middle">1</text>
<line x1="1007.8" y1="511.3" x2="1007.8" y2="512.9" stroke="#333" stroke-width="0.5" />
<text x="1007.8" y="516.9" font-size="3.6" text-anchor="middle">1.1</text>
<text x="948.7" y="521.7" font-size="4.2" class="b" text-anchor="middle">Rich Factor</text>
<rect x="1015" y="403.9" width="5.6" height="29.2" fill="url(#dg)"/>
<text x="1014.5" y="401.2" font-size="3.2" class="b">-log10(Padjust)</text>
<text x="1022.1" y="406.4" font-size="2.8">1.2</text>
<text x="1022.1" y="415.5" font-size="2.8">1</text>
<text x="1022.1" y="424.5" font-size="2.8">0.800</text>
<text x="1022.1" y="433.6" font-size="2.8">0.600</text>
<text x="1014.5" y="445.4" font-size="3.2" class="b">Number</text>
<circle cx="1016" cy="450.1" r="0.7" fill="#000"/>
<text x="1021.5" y="451.1" font-size="2.8">1</text>
<circle cx="1016" cy="456.1" r="1.6" fill="#000"/>
<text x="1021.5" y="457.1" font-size="2.8">9</text>
<circle cx="1016" cy="462.3" r="2.3" fill="#000"/>
<text x="1021.5" y="463.3" font-size="2.8">18</text>
<circle cx="1016" cy="469.3" r="3" fill="#000"/>
<text x="1021.5" y="470.3" font-size="2.8">26</text>
</g>
<g>
<text x="17.2" y="541.2" font-size="14.8" class="a">(A)</text>
<rect x="43" y="533.4" width="160.8" height="232.4" fill="#fff" stroke="#d3dccf" stroke-width="0.6" stroke-dasharray="3 1.5"/>
<rect x="214.7" y="533.4" width="160.3" height="232.4" fill="#fff" stroke="#d3dccf" stroke-width="0.6" stroke-dasharray="3 1.5"/>
<rect x="386.2" y="533.4" width="160.9" height="232.4" fill="#fff" stroke="#d3dccf" stroke-width="0.6" stroke-dasharray="3 1.5"/>
<rect x="54.6" y="536.7" width="136.4" height="14.7" rx="2.6" fill="#dbead6" stroke="#c5d8c0" stroke-width="0.4"/>
<text x="122.8" y="546.8" font-size="7.9" class="b" text-anchor="middle">Cysteine and methionine metabolism</text>
<rect x="242.5" y="536.7" width="97.2" height="14.7" rx="2.6" fill="#dbead6" stroke="#c5d8c0" stroke-width="0.4"/>
<text x="291.1" y="546.8" font-size="7.9" class="b" text-anchor="middle">Tryptophan metabolism</text>
<rect x="408.6" y="536.7" width="110.7" height="14.7" rx="2.6" fill="#dbead6" stroke="#c5d8c0" stroke-width="0.4"/>
<text x="463.9" y="546.8" font-size="7.9" class="b" text-anchor="middle">alpha-Linolenic metabolism</text>
<text x="103.5" y="567.6" font-size="7.9" class="b" text-anchor="middle">L-Serine</text>
<path d="M103.5 571.5L103.5 587.4" stroke="#555" stroke-width="0.7" fill="none"/>
<path d="M101.9 584.6L103.5 587.4L105.1 584.6" stroke="#555" stroke-width="0.7" fill="none"/>
<text x="103.5" y="594.1" font-size="7.9" class="b" text-anchor="middle">L-Cystathionine</text>
<text x="88.3" y="605.2" font-size="6.5" class="b" text-anchor="middle" style="fill:#4a82b8">METC</text>
<path d="M103.5 598.5L103.5 614" stroke="#555" stroke-width="0.7" fill="none"/>
<path d="M101.9 611.2L103.5 614L105.1 611.2" stroke="#555" stroke-width="0.7" fill="none"/>
<text x="103.5" y="619.4" font-size="7.9" class="b" text-anchor="middle">L-Homocysteine</text>
<text x="85.3" y="629.7" font-size="6.5" class="b" text-anchor="middle" style="fill:#4a82b8">MMUM</text>
<text x="88.3" y="637.6" font-size="6.5" class="b" text-anchor="middle" style="fill:#4a82b8">METE</text>
<path d="M103.5 624.2L103.5 640.4" stroke="#555" stroke-width="0.7" fill="none"/>
<path d="M101.9 637.6L103.5 640.4L105.1 637.6" stroke="#555" stroke-width="0.7" fill="none"/>
<text x="103.5" y="649.5" font-size="7.9" class="b" text-anchor="middle">L-Methionine</text>
<path d="M103.5 652.5L103.5 668.7" stroke="#555" stroke-width="0.7" fill="none"/>
<path d="M101.9 665.9L103.5 668.7L105.1 665.9" stroke="#555" stroke-width="0.7" fill="none"/>
<text x="103.5" y="677" font-size="7.9" class="b" text-anchor="middle">S-Adenosyl-L-methionine</text>
<text x="88.3" y="692.3" font-size="7.7" class="b" text-anchor="middle" style="fill:#b8232b">ACS</text>
<path d="M103.5 684.7L103.5 701" stroke="#555" stroke-width="0.7" fill="none"/>
<path d="M101.9 698.2L103.5 701L105.1 698.2" stroke="#555" stroke-width="0.7" fill="none"/>
<text x="103.5" y="708.4" font-size="7.9" class="b" text-anchor="middle">1-Aminocyclopropane-1-</text>
<text x="103.5" y="717.6" font-size="7.9" class="b" text-anchor="middle">carboxylate</text>
<text x="88.3" y="738.1" font-size="7.7" class="b" text-anchor="middle" style="fill:#b8232b">ACO</text>
<path d="M103.5 731L103.5 746.5" stroke="#555" stroke-width="0.7" fill="none"/>
<path d="M101.9 743.7L103.5 746.5L105.1 743.7" stroke="#555" stroke-width="0.7" fill="none"/>
<text x="103.5" y="758.8" font-size="7.9" class="b" text-anchor="middle" style="fill:#b8232b">Ethylene</text>
<rect x="110.7" y="602.9" width="7.5" height="5.1" fill="#b2bcb7"/>
<rect x="118.2" y="602.9" width="7.5" height="5.1" fill="#b2bcb7"/>
<rect x="125.7" y="602.9" width="7.5" height="5.1" fill="#9eafbd"/>
<rect x="133.2" y="602.9" width="7.5" height="5.1" fill="#8aa2c2"/>
<rect x="140.7" y="602.9" width="7.5" height="5.1" fill="#cfcfb3"/>
<rect x="148.2" y="602.9" width="7.5" height="5.1" fill="#9eafbd"/>
<path d="M118.2 602.9V608M125.7 602.9V608M133.2 602.9V608M140.7 602.9V608M148.2 602.9V608" stroke="#fff" stroke-width="0.35" stroke-opacity="0.7" fill="none"/>
<text x="157.3" y="606.9" font-size="4.4" class="b i">Cisa00033642</text>
<rect x="110.7" y="625.5" width="7.5" height="5.2" fill="#9eafbd"/>
<rect x="118.2" y="625.5" width="7.5" height="5.2" fill="#96aabf"/>
<rect x="125.7" y="625.5" width="7.5" height="5.2" fill="#8aa2c2"/>
<rect x="133.2" y="625.5" width="7.5" height="5.2" fill="#9eafbd"/>
<rect x="140.7" y="625.5" width="7.5" height="5.2" fill="#9eafbd"/>
<rect x="148.2" y="625.5" width="7.5" height="5.2" fill="#96aabf"/>
<rect x="110.7" y="630.7" width="7.5" height="5.2" fill="#e77355"/>
<rect x="118.2" y="630.7" width="7.5" height="5.2" fill="#e77355"/>
<rect x="125.7" y="630.7" width="7.5" height="5.2" fill="#e97e5c"/>
<rect x="133.2" y="630.7" width="7.5" height="5.2" fill="#e77355"/>
<rect x="140.7" y="630.7" width="7.5" height="5.2" fill="#e97e5c"/>
<rect x="148.2" y="630.7" width="7.5" height="5.2" fill="#e5684d"/>
<rect x="110.7" y="635.8" width="7.5" height="5.2" fill="#de4736"/>
<rect x="118.2" y="635.8" width="7.5" height="5.2" fill="#de4736"/>
<rect x="125.7" y="635.8" width="7.5" height="5.2" fill="#e15841"/>
<rect x="133.2" y="635.8" width="7.5" height="5.2" fill="#e15841"/>
<rect x="140.7" y="635.8" width="7.5" height="5.2" fill="#de4736"/>
<rect x="148.2" y="635.8" width="7.5" height="5.2" fill="#dc3c2e"/>
<path d="M118.2 625.5V641M125.7 625.5V641M133.2 625.5V641M140.7 625.5V641M148.2 625.5V641M110.7 630.7H155.7M110.7 635.8H155.7" stroke="#fff" stroke-width="0.35" stroke-opacity="0.7" fill="none"/>
<text x="157.3" y="629.5" font-size="4.4" class="b i">Cisa00041387</text>
<text x="157.3" y="634.7" font-size="4.4" class="b i">Cisa00023685</text>
<text x="157.3" y="639.8" font-size="4.4" class="b i">Cisa00003493</text>
<rect x="110.7" y="682.1" width="7.5" height="5.2" fill="#3560b2"/>
<rect x="118.2" y="682.1" width="7.5" height="5.2" fill="#5278b9"/>
<rect x="125.7" y="682.1" width="7.5" height="5.2" fill="#8aa2c2"/>
<rect x="133.2" y="682.1" width="7.5" height="5.2" fill="#6e8dbd"/>
<rect x="140.7" y="682.1" width="7.5" height="5.2" fill="#3a65b4"/>
<rect x="148.2" y="682.1" width="7.5" height="5.2" fill="#6e8dbd"/>
<rect x="110.7" y="687.3" width="7.5" height="5.2" fill="#f3bb8d"/>
<rect x="118.2" y="687.3" width="7.5" height="5.2" fill="#f1ae82"/>
<rect x="125.7" y="687.3" width="7.5" height="5.2" fill="#efa57a"/>
<rect x="133.2" y="687.3" width="7.5" height="5.2" fill="#f5c898"/>
<rect x="140.7" y="687.3" width="7.5" height="5.2" fill="#f5cd9e"/>
<rect x="148.2" y="687.3" width="7.5" height="5.2" fill="#f5d2a3"/>
<rect x="110.7" y="692.4" width="7.5" height="5.2" fill="#8aa2c2"/>
<rect x="118.2" y="692.4" width="7.5" height="5.2" fill="#7996bf"/>
<rect x="125.7" y="692.4" width="7.5" height="5.2" fill="#6e8dbd"/>
<rect x="133.2" y="692.4" width="7.5" height="5.2" fill="#7996bf"/>
<rect x="140.7" y="692.4" width="7.5" height="5.2" fill="#8aa2c2"/>
<rect x="148.2" y="692.4" width="7.5" height="5.2" fill="#6e8dbd"/>
<path d="M118.2 682.1V697.6M125.7 682.1V697.6M133.2 682.1V697.6M140.7 682.1V697.6M148.2 682.1V697.6M110.7 687.3H155.7M110.7 692.4H155.7" stroke="#fff" stroke-width="0.35" stroke-opacity="0.7" fill="none"/>
<text x="157.3" y="686.1" font-size="4.4" class="b i">Cisa00016384</text>
<text x="157.3" y="691.3" font-size="4.4" class="b i">Cisa00053536</text>
<text x="157.3" y="696.4" font-size="4.4" class="b i">Cisa00033268</text>
<rect x="112.5" y="720.2" width="7.3" height="5.1" fill="#b2bcb7"/>
<rect x="119.8" y="720.2" width="7.3" height="5.1" fill="#f5e6b9"/>
<rect x="127.1" y="720.2" width="7.3" height="5.1" fill="#f5daab"/>
<rect x="134.3" y="720.2" width="7.3" height="5.1" fill="#d42e29"/>
<rect x="141.6" y="720.2" width="7.3" height="5.1" fill="#f5e6b9"/>
<rect x="148.9" y="720.2" width="7.3" height="5.1" fill="#efa57a"/>
<rect x="112.5" y="725.3" width="7.3" height="5.1" fill="#5278b9"/>
<rect x="119.8" y="725.3" width="7.3" height="5.1" fill="#6e8dbd"/>
<rect x="127.1" y="725.3" width="7.3" height="5.1" fill="#f5e6b9"/>
<rect x="134.3" y="725.3" width="7.3" height="5.1" fill="#5278b9"/>
<rect x="141.6" y="725.3" width="7.3" height="5.1" fill="#3e69b5"/>
<rect x="148.9" y="725.3" width="7.3" height="5.1" fill="#c6c9b2"/>
<rect x="112.5" y="730.4" width="7.3" height="5.1" fill="#3a65b4"/>
<rect x="119.8" y="730.4" width="7.3" height="5.1" fill="#416cb6"/>
<rect x="127.1" y="730.4" width="7.3" height="5.1" fill="#ded8b6"/>
<rect x="134.3" y="730.4" width="7.3" height="5.1" fill="#3a65b4"/>
<rect x="141.6" y="730.4" width="7.3" height="5.1" fill="#3a65b4"/>
<rect x="148.9" y="730.4" width="7.3" height="5.1" fill="#c6c9b2"/>
<rect x="112.5" y="735.5" width="7.3" height="5.1" fill="#9eafbd"/>
<rect x="119.8" y="735.5" width="7.3" height="5.1" fill="#9eafbd"/>
<rect x="127.1" y="735.5" width="7.3" height="5.1" fill="#b2bcb7"/>
<rect x="134.3" y="735.5" width="7.3" height="5.1" fill="#efa57a"/>
<rect x="141.6" y="735.5" width="7.3" height="5.1" fill="#416cb6"/>
<rect x="148.9" y="735.5" width="7.3" height="5.1" fill="#ded8b6"/>
<rect x="112.5" y="740.6" width="7.3" height="5.1" fill="#f5e6b9"/>
<rect x="119.8" y="740.6" width="7.3" height="5.1" fill="#f5e1b4"/>
<rect x="127.1" y="740.6" width="7.3" height="5.1" fill="#f5d2a3"/>
<rect x="134.3" y="740.6" width="7.3" height="5.1" fill="#f5daab"/>
<rect x="141.6" y="740.6" width="7.3" height="5.1" fill="#f5e6b9"/>
<rect x="148.9" y="740.6" width="7.3" height="5.1" fill="#f5daab"/>
<rect x="112.5" y="745.7" width="7.3" height="5.1" fill="#5278b9"/>
<rect x="119.8" y="745.7" width="7.3" height="5.1" fill="#f5e6b9"/>
<rect x="127.1" y="745.7" width="7.3" height="5.1" fill="#ded8b6"/>
<rect x="134.3" y="745.7" width="7.3" height="5.1" fill="#5278b9"/>
<rect x="141.6" y="745.7" width="7.3" height="5.1" fill="#5278b9"/>
<rect x="148.9" y="745.7" width="7.3" height="5.1" fill="#ded8b6"/>
<path d="M119.8 720.2V750.8M127.1 720.2V750.8M134.3 720.2V750.8M141.6 720.2V750.8M148.9 720.2V750.8M112.5 725.3H156.2M112.5 730.4H156.2M112.5 735.5H156.2M112.5 740.6H156.2M112.5 745.7H156.2" stroke="#fff" stroke-width="0.35" stroke-opacity="0.7" fill="none"/>
<text x="157.8" y="724.2" font-size="4.4" class="b i">Cisa00042806</text>
<text x="157.8" y="729.3" font-size="4.4" class="b i">Cisa00017141</text>
<text x="157.8" y="734.4" font-size="4.4" class="b i">Cisa00017198</text>
<text x="157.8" y="739.5" font-size="4.4" class="b i">Cisa00017125</text>
<text x="157.8" y="744.6" font-size="4.4" class="b i">Cisa00017127</text>
<text x="157.8" y="749.7" font-size="4.4" class="b i">Cisa00017187</text>
<rect x="185.8" y="556.5" width="5.4" height="36.8" fill="url(#hg)"/>
<line x1="191.2" y1="556.5" x2="192" y2="556.5" stroke="#333" stroke-width="0.3" />
<text x="192.4" y="557.4" font-size="2.4" class="b">12.00</text>
<line x1="191.2" y1="562.6" x2="192" y2="562.6" stroke="#333" stroke-width="0.3" />
<text x="192.4" y="563.5" font-size="2.4" class="b">10.00</text>
<line x1="191.2" y1="568.8" x2="192" y2="568.8" stroke="#333" stroke-width="0.3" />
<text x="192.4" y="569.7" font-size="2.4" class="b">8.00</text>
<line x1="191.2" y1="574.9" x2="192" y2="574.9" stroke="#333" stroke-width="0.3" />
<text x="192.4" y="575.8" font-size="2.4" class="b">6.00</text>
<line x1="191.2" y1="581" x2="192" y2="581" stroke="#333" stroke-width="0.3" />
<text x="192.4" y="581.9" font-size="2.4" class="b">4.00</text>
<line x1="191.2" y1="587.2" x2="192" y2="587.2" stroke="#333" stroke-width="0.3" />
<text x="192.4" y="588.1" font-size="2.4" class="b">2.00</text>
<line x1="191.2" y1="593.3" x2="192" y2="593.3" stroke="#333" stroke-width="0.3" />
<text x="192.4" y="594.2" font-size="2.4" class="b">0.00</text>
<text x="286.5" y="569.5" font-size="7.3" class="b" text-anchor="middle">Tryptophan</text>
<path d="M286.5 573L286.5 613.2" stroke="#555" stroke-width="0.7" fill="none"/>
<path d="M284.9 610.4L286.5 613.2L288.1 610.4" stroke="#555" stroke-width="0.7" fill="none"/>
<text x="272.8" y="588.6" font-size="6.6" class="b" text-anchor="middle" style="fill:#b8232b">TAA1</text>
<rect x="220.6" y="592" width="7.1" height="3.4" fill="#f5e6b9"/>
<rect x="227.7" y="592" width="7.1" height="3.4" fill="#f5e6b9"/>
<rect x="234.7" y="592" width="7.1" height="3.4" fill="#ece0b8"/>
<rect x="241.8" y="592" width="7.1" height="3.4" fill="#b2bcb7"/>
<rect x="248.9" y="592" width="7.1" height="3.4" fill="#f5d2a3"/>
<rect x="255.9" y="592" width="7.1" height="3.4" fill="#f5e6b9"/>
<path d="M227.7 592V595.4M234.7 592V595.4M241.8 592V595.4M248.9 592V595.4M255.9 592V595.4" stroke="#fff" stroke-width="0.35" stroke-opacity="0.7" fill="none"/>
<text x="264.6" y="594.8" font-size="3.5" class="b i">Cisa00009163</text>
<path d="M286.5 594.6L336.4 619.8" stroke="#555" stroke-width="0.7" fill="none"/>
<path d="M333.2 620L336.4 619.8L334.6 617.1" stroke="#555" stroke-width="0.7" fill="none"/>
<text x="304.7" y="611" font-size="6.6" class="b" text-anchor="middle" style="fill:#b8232b" transform="rotate(33 304.7 611)">DDC</text>
<rect x="309.4" y="599" width="6.2" height="3.4" fill="#b2bcb7"/>
<rect x="315.6" y="599" width="6.2" height="3.4" fill="#c6c9b2"/>
<rect x="321.8" y="599" width="6.2" height="3.4" fill="#b2bcb7"/>
<rect x="328" y="599" width="6.2" height="3.4" fill="#5278b9"/>
<rect x="334.3" y="599" width="6.2" height="3.4" fill="#b2bcb7"/>
<rect x="340.5" y="599" width="6.2" height="3.4" fill="#ded8b6"/>
<rect x="309.4" y="602.4" width="6.2" height="3.4" fill="#5278b9"/>
<rect x="315.6" y="602.4" width="6.2" height="3.4" fill="#f5daab"/>
<rect x="321.8" y="602.4" width="6.2" height="3.4" fill="#e77355"/>
<rect x="328" y="602.4" width="6.2" height="3.4" fill="#e15841"/>
<rect x="334.3" y="602.4" width="6.2" height="3.4" fill="#f5e6b9"/>
<rect x="340.5" y="602.4" width="6.2" height="3.4" fill="#e77355"/>
<path d="M315.6 599V605.7M321.8 599V605.7M328 599V605.7M334.3 599V605.7M340.5 599V605.7M309.4 602.4H346.7" stroke="#fff" stroke-width="0.35" stroke-opacity="0.7" fill="none"/>
<text x="348.3" y="601.8" font-size="3.5" class="b i">Cisa00006326</text>
<text x="348.3" y="605.1" font-size="3.5" class="b i">Cisa00005326</text>
<text x="286.5" y="622.8" font-size="7.3" class="b" text-anchor="middle">Indole</text>
<text x="286.5" y="631" font-size="7.3" class="b" text-anchor="middle">pyruvate</text>
<text x="336.4" y="628.7" font-size="7.3" class="b" text-anchor="middle">Tryptamine</text>
<path d="M336.4 632.5L336.4 643.5" stroke="#555" stroke-width="0.7" fill="none"/>
<path d="M334.8 640.7L336.4 643.5L338 640.7" stroke="#555" stroke-width="0.7" fill="none"/>
<text x="336.4" y="653.1" font-size="7.3" class="b" text-anchor="middle">Indole-3-</text>
<text x="336.4" y="661.4" font-size="7.3" class="b" text-anchor="middle">acetaldehyde</text>
<text x="262.3" y="651.1" font-size="6.6" class="b" text-anchor="middle" style="fill:#b8232b">YUCCA</text>
<rect x="218" y="657.7" width="7.1" height="3.7" fill="#6e8dbd"/>
<rect x="225.1" y="657.7" width="7.1" height="3.7" fill="#7996bf"/>
<rect x="232.2" y="657.7" width="7.1" height="3.7" fill="#5278b9"/>
<rect x="239.2" y="657.7" width="7.1" height="3.7" fill="#ded8b6"/>
<rect x="246.3" y="657.7" width="7.1" height="3.7" fill="#9eafbd"/>
<rect x="253.4" y="657.7" width="7.1" height="3.7" fill="#8aa2c2"/>
<rect x="218" y="661.4" width="7.1" height="3.7" fill="#8aa2c2"/>
<rect x="225.1" y="661.4" width="7.1" height="3.7" fill="#8aa2c2"/>
<rect x="232.2" y="661.4" width="7.1" height="3.7" fill="#9eafbd"/>
<rect x="239.2" y="661.4" width="7.1" height="3.7" fill="#96aabf"/>
<rect x="246.3" y="661.4" width="7.1" height="3.7" fill="#c6c9b2"/>
<rect x="253.4" y="661.4" width="7.1" height="3.7" fill="#9eafbd"/>
<rect x="218" y="665" width="7.1" height="3.7" fill="#7996bf"/>
<rect x="225.1" y="665" width="7.1" height="3.7" fill="#6e8dbd"/>
<rect x="232.2" y="665" width="7.1" height="3.7" fill="#5278b9"/>
<rect x="239.2" y="665" width="7.1" height="3.7" fill="#ded8b6"/>
<rect x="246.3" y="665" width="7.1" height="3.7" fill="#9eafbd"/>
<rect x="253.4" y="665" width="7.1" height="3.7" fill="#96aabf"/>
<path d="M225.1 657.7V668.7M232.2 657.7V668.7M239.2 657.7V668.7M246.3 657.7V668.7M253.4 657.7V668.7M218 661.4H260.5M218 665H260.5" stroke="#fff" stroke-width="0.35" stroke-opacity="0.7" fill="none"/>
<text x="262.1" y="660.7" font-size="3.5" class="b i">Cisa00027323</text>
<text x="262.1" y="664.3" font-size="3.5" class="b i">Cisa00053069</text>
<text x="262.1" y="668" font-size="3.5" class="b i">Cisa00027289</text>
<path d="M286.5 634.5L286.5 674.4" stroke="#555" stroke-width="0.7" fill="none"/>
<path d="M284.9 671.6L286.5 674.4L288.1 671.6" stroke="#555" stroke-width="0.7" fill="none"/>
<text x="333" y="675.6" font-size="6.6" class="b" text-anchor="middle" style="fill:#b8232b">ALDH/ AAO</text>
<path d="M336.4 664.1V680.8H314" stroke="#555" stroke-width="0.7" fill="none"/>
<path d="M318 680.8L313.2 680.8" stroke="#555" stroke-width="0.7" fill="none"/>
<path d="M316 679.2L313.2 680.8L316 682.4" stroke="#555" stroke-width="0.7" fill="none"/>
<text x="286.5" y="683.5" font-size="7.3" class="b" text-anchor="middle" style="fill:#b8232b">Indoleacetate</text>
<rect x="304.2" y="684.7" width="7.1" height="3.7" fill="#efa57a"/>
<rect x="311.3" y="684.7" width="7.1" height="3.7" fill="#e15841"/>
<rect x="318.4" y="684.7" width="7.1" height="3.7" fill="#e77355"/>
<rect x="325.4" y="684.7" width="7.1" height="3.7" fill="#d9362c"/>
<rect x="332.5" y="684.7" width="7.1" height="3.7" fill="#f5cd9e"/>
<rect x="339.6" y="684.7" width="7.1" height="3.7" fill="#e77355"/>
<rect x="304.2" y="688.4" width="7.1" height="3.7" fill="#ec8f68"/>
<rect x="311.3" y="688.4" width="7.1" height="3.7" fill="#efa57a"/>
<rect x="318.4" y="688.4" width="7.1" height="3.7" fill="#f3bb8d"/>
<rect x="325.4" y="688.4" width="7.1" height="3.7" fill="#f3bb8d"/>
<rect x="332.5" y="688.4" width="7.1" height="3.7" fill="#e5684d"/>
<rect x="339.6" y="688.4" width="7.1" height="3.7" fill="#f5cd9e"/>
<rect x="304.2" y="692.1" width="7.1" height="3.7" fill="#9eafbd"/>
<rect x="311.3" y="692.1" width="7.1" height="3.7" fill="#9eafbd"/>
<rect x="318.4" y="692.1" width="7.1" height="3.7" fill="#b2bcb7"/>
<rect x="325.4" y="692.1" width="7.1" height="3.7" fill="#3a65b4"/>
<rect x="332.5" y="692.1" width="7.1" height="3.7" fill="#b2bcb7"/>
<rect x="339.6" y="692.1" width="7.1" height="3.7" fill="#c6c9b2"/>
<rect x="304.2" y="695.7" width="7.1" height="3.7" fill="#f5cd9e"/>
<rect x="311.3" y="695.7" width="7.1" height="3.7" fill="#f5d2a3"/>
<rect x="318.4" y="695.7" width="7.1" height="3.7" fill="#f5cd9e"/>
<rect x="325.4" y="695.7" width="7.1" height="3.7" fill="#f5cd9e"/>
<rect x="332.5" y="695.7" width="7.1" height="3.7" fill="#f1ae82"/>
<rect x="339.6" y="695.7" width="7.1" height="3.7" fill="#f5d2a3"/>
<path d="M311.3 684.7V699.4M318.4 684.7V699.4M325.4 684.7V699.4M332.5 684.7V699.4M339.6 684.7V699.4M304.2 688.4H346.7M304.2 692.1H346.7M304.2 695.7H346.7" stroke="#fff" stroke-width="0.35" stroke-opacity="0.7" fill="none"/>
<text x="348.3" y="687.7" font-size="3.5" class="b i">Cisa00059268</text>
<text x="348.3" y="691.3" font-size="3.5" class="b i">Cisa00063221</text>
<text x="348.3" y="695" font-size="3.5" class="b i">Cisa00003974</text>
<text x="348.3" y="698.7" font-size="3.5" class="b i">Cisa00059213</text>
<path d="M286.5 684.7L286.5 749" stroke="#555" stroke-width="0.7" fill="none"/>
<path d="M284.9 746.2L286.5 749L288.1 746.2" stroke="#555" stroke-width="0.7" fill="none"/>
<rect x="225" y="700.9" width="6.3" height="3.5" fill="#3e69b5"/>
<rect x="231.3" y="700.9" width="6.3" height="3.5" fill="#416cb6"/>
<rect x="237.7" y="700.9" width="6.3" height="3.5" fill="#5278b9"/>
<rect x="244" y="700.9" width="6.3" height="3.5" fill="#3e69b5"/>
<rect x="250.3" y="700.9" width="6.3" height="3.5" fill="#f5e6b9"/>
<rect x="256.7" y="700.9" width="6.3" height="3.5" fill="#416cb6"/>
<rect x="225" y="704.4" width="6.3" height="3.5" fill="#d9362c"/>
<rect x="231.3" y="704.4" width="6.3" height="3.5" fill="#ec8f68"/>
<rect x="237.7" y="704.4" width="6.3" height="3.5" fill="#f3bb8d"/>
<rect x="244" y="704.4" width="6.3" height="3.5" fill="#f5cd9e"/>
<rect x="250.3" y="704.4" width="6.3" height="3.5" fill="#dc3c2e"/>
<rect x="256.7" y="704.4" width="6.3" height="3.5" fill="#f5cd9e"/>
<rect x="225" y="707.9" width="6.3" height="3.5" fill="#6e8dbd"/>
<rect x="231.3" y="707.9" width="6.3" height="3.5" fill="#8aa2c2"/>
<rect x="237.7" y="707.9" width="6.3" height="3.5" fill="#6e8dbd"/>
<rect x="244" y="707.9" width="6.3" height="3.5" fill="#5278b9"/>
<rect x="250.3" y="707.9" width="6.3" height="3.5" fill="#c6c9b2"/>
<rect x="256.7" y="707.9" width="6.3" height="3.5" fill="#5278b9"/>
<rect x="225" y="711.4" width="6.3" height="3.5" fill="#f5daab"/>
<rect x="231.3" y="711.4" width="6.3" height="3.5" fill="#f5daab"/>
<rect x="237.7" y="711.4" width="6.3" height="3.5" fill="#ded8b6"/>
<rect x="244" y="711.4" width="6.3" height="3.5" fill="#9eafbd"/>
<rect x="250.3" y="711.4" width="6.3" height="3.5" fill="#f3bb8d"/>
<rect x="256.7" y="711.4" width="6.3" height="3.5" fill="#f5e6b9"/>
<rect x="225" y="714.9" width="6.3" height="3.5" fill="#f5e6b9"/>
<rect x="231.3" y="714.9" width="6.3" height="3.5" fill="#c6c9b2"/>
<rect x="237.7" y="714.9" width="6.3" height="3.5" fill="#6e8dbd"/>
<rect x="244" y="714.9" width="6.3" height="3.5" fill="#8aa2c2"/>
<rect x="250.3" y="714.9" width="6.3" height="3.5" fill="#f5cd9e"/>
<rect x="256.7" y="714.9" width="6.3" height="3.5" fill="#c6c9b2"/>
<rect x="225" y="718.4" width="6.3" height="3.5" fill="#3e69b5"/>
<rect x="231.3" y="718.4" width="6.3" height="3.5" fill="#5278b9"/>
<rect x="237.7" y="718.4" width="6.3" height="3.5" fill="#416cb6"/>
<rect x="244" y="718.4" width="6.3" height="3.5" fill="#6e8dbd"/>
<rect x="250.3" y="718.4" width="6.3" height="3.5" fill="#3a65b4"/>
<rect x="256.7" y="718.4" width="6.3" height="3.5" fill="#8aa2c2"/>
<rect x="225" y="722" width="6.3" height="3.5" fill="#f5daab"/>
<rect x="231.3" y="722" width="6.3" height="3.5" fill="#f5daab"/>
<rect x="237.7" y="722" width="6.3" height="3.5" fill="#c6c9b2"/>
<rect x="244" y="722" width="6.3" height="3.5" fill="#b2bcb7"/>
<rect x="250.3" y="722" width="6.3" height="3.5" fill="#f5e1b4"/>
<rect x="256.7" y="722" width="6.3" height="3.5" fill="#c6c9b2"/>
<rect x="225" y="725.5" width="6.3" height="3.5" fill="#9eafbd"/>
<rect x="231.3" y="725.5" width="6.3" height="3.5" fill="#b2bcb7"/>
<rect x="237.7" y="725.5" width="6.3" height="3.5" fill="#8aa2c2"/>
<rect x="244" y="725.5" width="6.3" height="3.5" fill="#5278b9"/>
<rect x="250.3" y="725.5" width="6.3" height="3.5" fill="#b2bcb7"/>
<rect x="256.7" y="725.5" width="6.3" height="3.5" fill="#9eafbd"/>
<rect x="225" y="729" width="6.3" height="3.5" fill="#9eafbd"/>
<rect x="231.3" y="729" width="6.3" height="3.5" fill="#6e8dbd"/>
<rect x="237.7" y="729" width="6.3" height="3.5" fill="#6e8dbd"/>
<rect x="244" y="729" width="6.3" height="3.5" fill="#416cb6"/>
<rect x="250.3" y="729" width="6.3" height="3.5" fill="#9eafbd"/>
<rect x="256.7" y="729" width="6.3" height="3.5" fill="#6e8dbd"/>
<rect x="225" y="732.5" width="6.3" height="3.5" fill="#5278b9"/>
<rect x="231.3" y="732.5" width="6.3" height="3.5" fill="#416cb6"/>
<rect x="237.7" y="732.5" width="6.3" height="3.5" fill="#6e8dbd"/>
<rect x="244" y="732.5" width="6.3" height="3.5" fill="#5278b9"/>
<rect x="250.3" y="732.5" width="6.3" height="3.5" fill="#b2bcb7"/>
<rect x="256.7" y="732.5" width="6.3" height="3.5" fill="#6e8dbd"/>
<rect x="225" y="736" width="6.3" height="3.5" fill="#ded8b6"/>
<rect x="231.3" y="736" width="6.3" height="3.5" fill="#ded8b6"/>
<rect x="237.7" y="736" width="6.3" height="3.5" fill="#cfcfb3"/>
<rect x="244" y="736" width="6.3" height="3.5" fill="#b2bcb7"/>
<rect x="250.3" y="736" width="6.3" height="3.5" fill="#ded8b6"/>
<rect x="256.7" y="736" width="6.3" height="3.5" fill="#c6c9b2"/>
<path d="M231.3 700.9V739.5M237.7 700.9V739.5M244 700.9V739.5M250.3 700.9V739.5M256.7 700.9V739.5M225 704.4H263M225 707.9H263M225 711.4H263M225 714.9H263M225 718.4H263M225 722H263M225 725.5H263M225 729H263M225 732.5H263M225 736H263" stroke="#fff" stroke-width="0.35" stroke-opacity="0.7" fill="none"/>
<text x="264.6" y="703.8" font-size="3.5" class="b i">Cisa00003230</text>
<text x="264.6" y="707.3" font-size="3.5" class="b i">Cisa00005637</text>
<text x="264.6" y="710.8" font-size="3.5" class="b i">Cisa00067397</text>
<text x="264.6" y="714.3" font-size="3.5" class="b i">Cisa00003108</text>
<text x="264.6" y="717.8" font-size="3.5" class="b i">Cisa00003385</text>
<text x="264.6" y="721.3" font-size="3.5" class="b i">Cisa00006341</text>
<text x="264.6" y="724.8" font-size="3.5" class="b i">Cisa00003067</text>
<text x="264.6" y="728.3" font-size="3.5" class="b i">Cisa00047268</text>
<text x="264.6" y="731.8" font-size="3.5" class="b i">Cisa00005378</text>
<text x="264.6" y="735.4" font-size="3.5" class="b i">Cisa00067229</text>
<text x="264.6" y="738.9" font-size="3.5" class="b i">Cisa00003440</text>
<text x="300.4" y="719" font-size="6.5" class="b" text-anchor="middle" style="fill:#4a82b8">DAO</text>
<text x="286.5" y="758.6" font-size="7.3" class="b" text-anchor="middle">2-Oxoindole-3-acetate</text>
<rect x="354.4" y="553.5" width="5.6" height="37.8" fill="url(#hg)"/>
<line x1="360" y1="553.5" x2="360.8" y2="553.5" stroke="#333" stroke-width="0.3" />
<text x="361.2" y="554.4" font-size="2.4" class="b">7.00</text>
<line x1="360" y1="558.9" x2="360.8" y2="558.9" stroke="#333" stroke-width="0.3" />
<text x="361.2" y="559.8" font-size="2.4" class="b">6.00</text>
<line x1="360" y1="564.3" x2="360.8" y2="564.3" stroke="#333" stroke-width="0.3" />
<text x="361.2" y="565.2" font-size="2.4" class="b">5.00</text>
<line x1="360" y1="569.7" x2="360.8" y2="569.7" stroke="#333" stroke-width="0.3" />
<text x="361.2" y="570.6" font-size="2.4" class="b">4.00</text>
<line x1="360" y1="575.1" x2="360.8" y2="575.1" stroke="#333" stroke-width="0.3" />
<text x="361.2" y="576" font-size="2.4" class="b">3.00</text>
<line x1="360" y1="580.5" x2="360.8" y2="580.5" stroke="#333" stroke-width="0.3" />
<text x="361.2" y="581.4" font-size="2.4" class="b">2.00</text>
<line x1="360" y1="585.9" x2="360.8" y2="585.9" stroke="#333" stroke-width="0.3" />
<text x="361.2" y="586.8" font-size="2.4" class="b">1.00</text>
<line x1="360" y1="591.3" x2="360.8" y2="591.3" stroke="#333" stroke-width="0.3" />
<text x="361.2" y="592.2" font-size="2.4" class="b">0.00</text>
<text x="440" y="561.8" font-size="7.3" class="b" text-anchor="middle">Phosphatidylcholine</text>
<text x="420.5" y="572.3" font-size="6.4" class="b" text-anchor="middle" style="fill:#4a82b8">TGL4</text>
<text x="422.5" y="580.1" font-size="6.4" class="b" text-anchor="middle" style="fill:#4a82b8">LCAT3</text>
<path d="M440 565.5L440 580.5" stroke="#555" stroke-width="0.7" fill="none"/>
<path d="M438.4 577.7L440 580.5L441.6 577.7" stroke="#555" stroke-width="0.7" fill="none"/>
<rect x="445.2" y="565.8" width="7.3" height="4.1" fill="#c6c9b2"/>
<rect x="452.5" y="565.8" width="7.3" height="4.1" fill="#c6c9b2"/>
<rect x="459.8" y="565.8" width="7.3" height="4.1" fill="#ded8b6"/>
<rect x="467.1" y="565.8" width="7.3" height="4.1" fill="#cfcfb3"/>
<rect x="474.4" y="565.8" width="7.3" height="4.1" fill="#f5e6b9"/>
<rect x="481.7" y="565.8" width="7.3" height="4.1" fill="#b2bcb7"/>
<rect x="445.2" y="569.9" width="7.3" height="4.1" fill="#416cb6"/>
<rect x="452.5" y="569.9" width="7.3" height="4.1" fill="#6385bc"/>
<rect x="459.8" y="569.9" width="7.3" height="4.1" fill="#416cb6"/>
<rect x="467.1" y="569.9" width="7.3" height="4.1" fill="#6e8dbd"/>
<rect x="474.4" y="569.9" width="7.3" height="4.1" fill="#5278b9"/>
<rect x="481.7" y="569.9" width="7.3" height="4.1" fill="#6e8dbd"/>
<path d="M452.5 565.8V574M459.8 565.8V574M467.1 565.8V574M474.4 565.8V574M481.7 565.8V574M445.2 569.9H489" stroke="#fff" stroke-width="0.35" stroke-opacity="0.7" fill="none"/>
<text x="490.6" y="569.3" font-size="4.4" class="b i">Cisa00000068</text>
<text x="490.6" y="573.4" font-size="4.4" class="b i">Cisa00007175</text>
<text x="440" y="589.1" font-size="7.3" class="b" text-anchor="middle">α-Linolenic acid</text>
<text x="422.8" y="604.7" font-size="7" class="b" text-anchor="middle" style="fill:#b8232b">LOX2S</text>
<path d="M440 592.5L440 612" stroke="#555" stroke-width="0.7" fill="none"/>
<path d="M438.4 609.2L440 612L441.6 609.2" stroke="#555" stroke-width="0.7" fill="none"/>
<rect x="445.2" y="593.9" width="7.3" height="3.9" fill="#8aa2c2"/>
<rect x="452.5" y="593.9" width="7.3" height="3.9" fill="#9eafbd"/>
<rect x="459.8" y="593.9" width="7.3" height="3.9" fill="#9eafbd"/>
<rect x="467.1" y="593.9" width="7.3" height="3.9" fill="#6e8dbd"/>
<rect x="474.4" y="593.9" width="7.3" height="3.9" fill="#b2bcb7"/>
<rect x="481.7" y="593.9" width="7.3" height="3.9" fill="#9eafbd"/>
<rect x="445.2" y="597.8" width="7.3" height="3.9" fill="#e77355"/>
<rect x="452.5" y="597.8" width="7.3" height="3.9" fill="#ee9c73"/>
<rect x="459.8" y="597.8" width="7.3" height="3.9" fill="#efa57a"/>
<rect x="467.1" y="597.8" width="7.3" height="3.9" fill="#ec8f68"/>
<rect x="474.4" y="597.8" width="7.3" height="3.9" fill="#f3bb8d"/>
<rect x="481.7" y="597.8" width="7.3" height="3.9" fill="#ec8f68"/>
<rect x="445.2" y="601.8" width="7.3" height="3.9" fill="#cfcfb3"/>
<rect x="452.5" y="601.8" width="7.3" height="3.9" fill="#f5e1b4"/>
<rect x="459.8" y="601.8" width="7.3" height="3.9" fill="#f5e6b9"/>
<rect x="467.1" y="601.8" width="7.3" height="3.9" fill="#f5e1b4"/>
<rect x="474.4" y="601.8" width="7.3" height="3.9" fill="#c6c9b2"/>
<rect x="481.7" y="601.8" width="7.3" height="3.9" fill="#ece0b8"/>
<rect x="445.2" y="605.7" width="7.3" height="3.9" fill="#7996bf"/>
<rect x="452.5" y="605.7" width="7.3" height="3.9" fill="#6e8dbd"/>
<rect x="459.8" y="605.7" width="7.3" height="3.9" fill="#8aa2c2"/>
<rect x="467.1" y="605.7" width="7.3" height="3.9" fill="#6e8dbd"/>
<rect x="474.4" y="605.7" width="7.3" height="3.9" fill="#8aa2c2"/>
<rect x="481.7" y="605.7" width="7.3" height="3.9" fill="#8aa2c2"/>
<path d="M452.5 593.9V609.6M459.8 593.9V609.6M467.1 593.9V609.6M474.4 593.9V609.6M481.7 593.9V609.6M445.2 597.8H489M445.2 601.8H489M445.2 605.7H489" stroke="#fff" stroke-width="0.35" stroke-opacity="0.7" fill="none"/>
<text x="490.6" y="597.3" font-size="4.4" class="b i">Cisa00032649</text>
<text x="490.6" y="601.2" font-size="4.4" class="b i">Cisa00064897</text>
<text x="490.6" y="605.1" font-size="4.4" class="b i">Cisa00015481</text>
<text x="490.6" y="609" font-size="4.4" class="b i">Cisa00060772</text>
<text x="440" y="621" font-size="7.3" class="b" text-anchor="middle">13(S)-HpOTrE</text>
<text x="425.4" y="633" font-size="7" class="b" text-anchor="middle" style="fill:#b8232b">AOS</text>
<path d="M440 624.5L440 637.5" stroke="#555" stroke-width="0.7" fill="none"/>
<path d="M438.4 634.7L440 637.5L441.6 634.7" stroke="#555" stroke-width="0.7" fill="none"/>
<rect x="445.2" y="626.3" width="7.3" height="4.2" fill="#f3bb8d"/>
<rect x="452.5" y="626.3" width="7.3" height="4.2" fill="#ee9c73"/>
<rect x="459.8" y="626.3" width="7.3" height="4.2" fill="#efa57a"/>
<rect x="467.1" y="626.3" width="7.3" height="4.2" fill="#efa57a"/>
<rect x="474.4" y="626.3" width="7.3" height="4.2" fill="#f1ae82"/>
<rect x="481.7" y="626.3" width="7.3" height="4.2" fill="#f2b689"/>
<rect x="445.2" y="630.5" width="7.3" height="4.2" fill="#e15841"/>
<rect x="452.5" y="630.5" width="7.3" height="4.2" fill="#e5684d"/>
<rect x="459.8" y="630.5" width="7.3" height="4.2" fill="#e15841"/>
<rect x="467.1" y="630.5" width="7.3" height="4.2" fill="#e77355"/>
<rect x="474.4" y="630.5" width="7.3" height="4.2" fill="#de4736"/>
<rect x="481.7" y="630.5" width="7.3" height="4.2" fill="#dc3c2e"/>
<path d="M452.5 626.3V634.8M459.8 626.3V634.8M467.1 626.3V634.8M474.4 626.3V634.8M481.7 626.3V634.8M445.2 630.5H489" stroke="#fff" stroke-width="0.35" stroke-opacity="0.7" fill="none"/>
<text x="490.6" y="629.8" font-size="4.4" class="b i">Cisa00017869</text>
<text x="490.6" y="634.1" font-size="4.4" class="b i">Cisa00060325</text>
<text x="440" y="647" font-size="7.3" class="b" text-anchor="middle">12,13-EOTrE</text>
<text x="429.2" y="670.9" font-size="7" class="b" text-anchor="middle" style="fill:#b8232b">OPR</text>
<path d="M440 650.5L440 683.5" stroke="#555" stroke-width="0.7" fill="none"/>
<path d="M438.4 680.7L440 683.5L441.6 680.7" stroke="#555" stroke-width="0.7" fill="none"/>
<rect x="445.2" y="649.5" width="7.3" height="4" fill="#f5daab"/>
<rect x="452.5" y="649.5" width="7.3" height="4" fill="#f5cd9e"/>
<rect x="459.8" y="649.5" width="7.3" height="4" fill="#f5d2a3"/>
<rect x="467.1" y="649.5" width="7.3" height="4" fill="#efa57a"/>
<rect x="474.4" y="649.5" width="7.3" height="4" fill="#f5cd9e"/>
<rect x="481.7" y="649.5" width="7.3" height="4" fill="#f5d2a3"/>
<rect x="445.2" y="653.5" width="7.3" height="4" fill="#f5e6b9"/>
<rect x="452.5" y="653.5" width="7.3" height="4" fill="#f5e1b4"/>
<rect x="459.8" y="653.5" width="7.3" height="4" fill="#f5e1b4"/>
<rect x="467.1" y="653.5" width="7.3" height="4" fill="#f5daab"/>
<rect x="474.4" y="653.5" width="7.3" height="4" fill="#f5e1b4"/>
<rect x="481.7" y="653.5" width="7.3" height="4" fill="#f5e6b9"/>
<rect x="445.2" y="657.5" width="7.3" height="4" fill="#8aa2c2"/>
<rect x="452.5" y="657.5" width="7.3" height="4" fill="#7996bf"/>
<rect x="459.8" y="657.5" width="7.3" height="4" fill="#9eafbd"/>
<rect x="467.1" y="657.5" width="7.3" height="4" fill="#6e8dbd"/>
<rect x="474.4" y="657.5" width="7.3" height="4" fill="#8aa2c2"/>
<rect x="481.7" y="657.5" width="7.3" height="4" fill="#7996bf"/>
<rect x="445.2" y="661.6" width="7.3" height="4" fill="#416cb6"/>
<rect x="452.5" y="661.6" width="7.3" height="4" fill="#3a65b4"/>
<rect x="459.8" y="661.6" width="7.3" height="4" fill="#3560b2"/>
<rect x="467.1" y="661.6" width="7.3" height="4" fill="#3a65b4"/>
<rect x="474.4" y="661.6" width="7.3" height="4" fill="#5278b9"/>
<rect x="481.7" y="661.6" width="7.3" height="4" fill="#3560b2"/>
<rect x="445.2" y="665.6" width="7.3" height="4" fill="#5278b9"/>
<rect x="452.5" y="665.6" width="7.3" height="4" fill="#6e8dbd"/>
<rect x="459.8" y="665.6" width="7.3" height="4" fill="#416cb6"/>
<rect x="467.1" y="665.6" width="7.3" height="4" fill="#3a65b4"/>
<rect x="474.4" y="665.6" width="7.3" height="4" fill="#6e8dbd"/>
<rect x="481.7" y="665.6" width="7.3" height="4" fill="#5278b9"/>
<rect x="445.2" y="669.6" width="7.3" height="4" fill="#f5daab"/>
<rect x="452.5" y="669.6" width="7.3" height="4" fill="#f5cd9e"/>
<rect x="459.8" y="669.6" width="7.3" height="4" fill="#f5daab"/>
<rect x="467.1" y="669.6" width="7.3" height="4" fill="#f5cd9e"/>
<rect x="474.4" y="669.6" width="7.3" height="4" fill="#f5daab"/>
<rect x="481.7" y="669.6" width="7.3" height="4" fill="#f5cd9e"/>
<rect x="445.2" y="673.6" width="7.3" height="4" fill="#6e8dbd"/>
<rect x="452.5" y="673.6" width="7.3" height="4" fill="#6385bc"/>
<rect x="459.8" y="673.6" width="7.3" height="4" fill="#7996bf"/>
<rect x="467.1" y="673.6" width="7.3" height="4" fill="#9eafbd"/>
<rect x="474.4" y="673.6" width="7.3" height="4" fill="#6e8dbd"/>
<rect x="481.7" y="673.6" width="7.3" height="4" fill="#6385bc"/>
<rect x="445.2" y="677.7" width="7.3" height="4" fill="#9eafbd"/>
<rect x="452.5" y="677.7" width="7.3" height="4" fill="#9eafbd"/>
<rect x="459.8" y="677.7" width="7.3" height="4" fill="#8aa2c2"/>
<rect x="467.1" y="677.7" width="7.3" height="4" fill="#8aa2c2"/>
<rect x="474.4" y="677.7" width="7.3" height="4" fill="#b2bcb7"/>
<rect x="481.7" y="677.7" width="7.3" height="4" fill="#9eafbd"/>
<path d="M452.5 649.5V681.7M459.8 649.5V681.7M467.1 649.5V681.7M474.4 649.5V681.7M481.7 649.5V681.7M445.2 653.5H489M445.2 657.5H489M445.2 661.6H489M445.2 665.6H489M445.2 669.6H489M445.2 673.6H489M445.2 677.7H489" stroke="#fff" stroke-width="0.35" stroke-opacity="0.7" fill="none"/>
<text x="490.6" y="652.9" font-size="4.4" class="b i">Cisa00029114</text>
<text x="490.6" y="656.9" font-size="4.4" class="b i">Cisa00064866</text>
<text x="490.6" y="661" font-size="4.4" class="b i">Cisa00062079</text>
<text x="490.6" y="665" font-size="4.4" class="b i">Cisa00028997</text>
<text x="490.6" y="669" font-size="4.4" class="b i">Cisa00068952</text>
<text x="490.6" y="673" font-size="4.4" class="b i">Cisa00028054</text>
<text x="490.6" y="677.1" font-size="4.4" class="b i">Cisa00059425</text>
<text x="490.6" y="681.1" font-size="4.4" class="b i">Cisa00009963</text>
<text x="440" y="692.6" font-size="7.3" class="b" text-anchor="middle">OPC8</text>
<text x="426" y="701.8" font-size="6.4" class="b" text-anchor="middle" style="fill:#4a82b8">OPCL1</text>
<path d="M440 695.5L440 706" stroke="#555" stroke-width="0.7" fill="none"/>
<path d="M438.4 703.2L440 706L441.6 703.2" stroke="#555" stroke-width="0.7" fill="none"/>
<rect x="445.2" y="697.7" width="7.3" height="4.1" fill="#cfcfb3"/>
<rect x="452.5" y="697.7" width="7.3" height="4.1" fill="#ded8b6"/>
<rect x="459.8" y="697.7" width="7.3" height="4.1" fill="#f5e6b9"/>
<rect x="467.1" y="697.7" width="7.3" height="4.1" fill="#f5daab"/>
<rect x="474.4" y="697.7" width="7.3" height="4.1" fill="#f5e6b9"/>
<rect x="481.7" y="697.7" width="7.3" height="4.1" fill="#f5e6b9"/>
<path d="M452.5 697.7V701.8M459.8 697.7V701.8M467.1 697.7V701.8M474.4 697.7V701.8M481.7 697.7V701.8" stroke="#fff" stroke-width="0.35" stroke-opacity="0.7" fill="none"/>
<text x="490.6" y="701.2" font-size="4.4" class="b i">Cisa00052845</text>
<text x="440" y="715" font-size="7.3" class="b" text-anchor="middle">OPC8-CoA</text>
<text x="424" y="727" font-size="7" class="b" text-anchor="middle" style="fill:#b8232b">ACOX</text>
<text x="424" y="734.8" font-size="6.4" class="b" text-anchor="middle" style="fill:#4a82b8">MFP</text>
<text x="424" y="742.5" font-size="6.4" class="b" text-anchor="middle" style="fill:#4a82b8">ACAA</text>
<path d="M440 718.5L440 750" stroke="#555" stroke-width="0.7" fill="none"/>
<path d="M438.4 747.2L440 750L441.6 747.2" stroke="#555" stroke-width="0.7" fill="none"/>
<rect x="445.2" y="718.3" width="7.3" height="4.1" fill="#f5e6b9"/>
<rect x="452.5" y="718.3" width="7.3" height="4.1" fill="#f5e1b4"/>
<rect x="459.8" y="718.3" width="7.3" height="4.1" fill="#f5e6b9"/>
<rect x="467.1" y="718.3" width="7.3" height="4.1" fill="#ded8b6"/>
<rect x="474.4" y="718.3" width="7.3" height="4.1" fill="#f5e1b4"/>
<rect x="481.7" y="718.3" width="7.3" height="4.1" fill="#f5e6b9"/>
<rect x="445.2" y="722.4" width="7.3" height="4.1" fill="#6e8dbd"/>
<rect x="452.5" y="722.4" width="7.3" height="4.1" fill="#6385bc"/>
<rect x="459.8" y="722.4" width="7.3" height="4.1" fill="#5278b9"/>
<rect x="467.1" y="722.4" width="7.3" height="4.1" fill="#6e8dbd"/>
<rect x="474.4" y="722.4" width="7.3" height="4.1" fill="#6e8dbd"/>
<rect x="481.7" y="722.4" width="7.3" height="4.1" fill="#6e8dbd"/>
<rect x="445.2" y="726.5" width="7.3" height="4.1" fill="#9eafbd"/>
<rect x="452.5" y="726.5" width="7.3" height="4.1" fill="#a6b4bb"/>
<rect x="459.8" y="726.5" width="7.3" height="4.1" fill="#9eafbd"/>
<rect x="467.1" y="726.5" width="7.3" height="4.1" fill="#96aabf"/>
<rect x="474.4" y="726.5" width="7.3" height="4.1" fill="#9eafbd"/>
<rect x="481.7" y="726.5" width="7.3" height="4.1" fill="#b2bcb7"/>
<rect x="445.2" y="730.6" width="7.3" height="4.1" fill="#f5e6b9"/>
<rect x="452.5" y="730.6" width="7.3" height="4.1" fill="#f5e6b9"/>
<rect x="459.8" y="730.6" width="7.3" height="4.1" fill="#f5e1b4"/>
<rect x="467.1" y="730.6" width="7.3" height="4.1" fill="#f5e6b9"/>
<rect x="474.4" y="730.6" width="7.3" height="4.1" fill="#f5e6b9"/>
<rect x="481.7" y="730.6" width="7.3" height="4.1" fill="#f5e6b9"/>
<rect x="445.2" y="734.6" width="7.3" height="4.1" fill="#f5e6b9"/>
<rect x="452.5" y="734.6" width="7.3" height="4.1" fill="#ded8b6"/>
<rect x="459.8" y="734.6" width="7.3" height="4.1" fill="#f5daab"/>
<rect x="467.1" y="734.6" width="7.3" height="4.1" fill="#f5daab"/>
<rect x="474.4" y="734.6" width="7.3" height="4.1" fill="#f5e6b9"/>
<rect x="481.7" y="734.6" width="7.3" height="4.1" fill="#f5e1b4"/>
<rect x="445.2" y="738.7" width="7.3" height="4.1" fill="#f5e6b9"/>
<rect x="452.5" y="738.7" width="7.3" height="4.1" fill="#f5e1b4"/>
<rect x="459.8" y="738.7" width="7.3" height="4.1" fill="#f5e1b4"/>
<rect x="467.1" y="738.7" width="7.3" height="4.1" fill="#f5daab"/>
<rect x="474.4" y="738.7" width="7.3" height="4.1" fill="#cfcfb3"/>
<rect x="481.7" y="738.7" width="7.3" height="4.1" fill="#f5e6b9"/>
<rect x="445.2" y="742.8" width="7.3" height="4.1" fill="#f5d2a3"/>
<rect x="452.5" y="742.8" width="7.3" height="4.1" fill="#f5cd9e"/>
<rect x="459.8" y="742.8" width="7.3" height="4.1" fill="#f5d2a3"/>
<rect x="467.1" y="742.8" width="7.3" height="4.1" fill="#f5cd9e"/>
<rect x="474.4" y="742.8" width="7.3" height="4.1" fill="#f5e1b4"/>
<rect x="481.7" y="742.8" width="7.3" height="4.1" fill="#f5daab"/>
<rect x="445.2" y="746.9" width="7.3" height="4.1" fill="#f5e6b9"/>
<rect x="452.5" y="746.9" width="7.3" height="4.1" fill="#f5daab"/>
<rect x="459.8" y="746.9" width="7.3" height="4.1" fill="#f5daab"/>
<rect x="467.1" y="746.9" width="7.3" height="4.1" fill="#f5daab"/>
<rect x="474.4" y="746.9" width="7.3" height="4.1" fill="#f5e6b9"/>
<rect x="481.7" y="746.9" width="7.3" height="4.1" fill="#f5e6b9"/>
<path d="M452.5 718.3V751M459.8 718.3V751M467.1 718.3V751M474.4 718.3V751M481.7 718.3V751M445.2 722.4H489M445.2 726.5H489M445.2 730.6H489M445.2 734.6H489M445.2 738.7H489M445.2 742.8H489M445.2 746.9H489" stroke="#fff" stroke-width="0.35" stroke-opacity="0.7" fill="none"/>
<text x="490.6" y="721.8" font-size="4.4" class="b i">Cisa00008574</text>
<text x="490.6" y="725.8" font-size="4.4" class="b i">Cisa00004908</text>
<text x="490.6" y="729.9" font-size="4.4" class="b i">Cisa00017336</text>
<text x="490.6" y="734" font-size="4.4" class="b i">Cisa00008703</text>
<text x="490.6" y="738.1" font-size="4.4" class="b i">Cisa00003954</text>
<text x="490.6" y="742.2" font-size="4.4" class="b i">Cisa00003058</text>
<text x="490.6" y="746.3" font-size="4.4" class="b i">Cisa00050833</text>
<text x="490.6" y="750.4" font-size="4.4" class="b i">Cisa00002555</text>
<text x="440" y="759.3" font-size="7.3" class="b" text-anchor="middle" style="fill:#b8232b">JA-CoA</text>
<rect x="525.3" y="564.3" width="5.7" height="38.1" fill="url(#hg)"/>
<line x1="531" y1="564.3" x2="531.8" y2="564.3" stroke="#333" stroke-width="0.3" />
<text x="532.2" y="565.2" font-size="2.4" class="b">12.00</text>
<line x1="531" y1="570.6" x2="531.8" y2="570.6" stroke="#333" stroke-width="0.3" />
<text x="532.2" y="571.5" font-size="2.4" class="b">10.00</text>
<line x1="531" y1="577" x2="531.8" y2="577" stroke="#333" stroke-width="0.3" />
<text x="532.2" y="577.9" font-size="2.4" class="b">8.00</text>
<line x1="531" y1="583.3" x2="531.8" y2="583.3" stroke="#333" stroke-width="0.3" />
<text x="532.2" y="584.2" font-size="2.4" class="b">6.00</text>
<line x1="531" y1="589.7" x2="531.8" y2="589.7" stroke="#333" stroke-width="0.3" />
<text x="532.2" y="590.6" font-size="2.4" class="b">4.00</text>
<line x1="531" y1="596" x2="531.8" y2="596" stroke="#333" stroke-width="0.3" />
<text x="532.2" y="596.9" font-size="2.4" class="b">2.00</text>
<line x1="531" y1="602.4" x2="531.8" y2="602.4" stroke="#333" stroke-width="0.3" />
<text x="532.2" y="603.3" font-size="2.4" class="b">0.00</text>
<path d="M115.8 768.5H123.6V778H127.3L119.7 787.6L112.1 778H115.8Z" fill="#fff" stroke="#6a7284" stroke-width="0.6" stroke-dasharray="1.6 1.1"/>
<path d="M290 768.5H297.8V778H301.5L293.9 787.6L286.3 778H290Z" fill="#fff" stroke="#6a7284" stroke-width="0.6" stroke-dasharray="1.6 1.1"/>
<path d="M469.1 768.5H476.9V778H480.6L473 787.6L465.4 778H469.1Z" fill="#fff" stroke="#6a7284" stroke-width="0.6" stroke-dasharray="1.6 1.1"/>
</g>
<g>
<text x="16.7" y="802" font-size="14.8" class="a">(B)</text>
<rect x="42.8" y="796.2" width="161" height="237.1" fill="#fff" stroke="#dcbfa8" stroke-width="0.7" stroke-dasharray="3 1.5"/>
<rect x="214.6" y="796.2" width="160.5" height="237.1" fill="#fff" stroke="#dcbfa8" stroke-width="0.7" stroke-dasharray="3 1.5"/>
<rect x="386.2" y="796.2" width="160.7" height="237.1" fill="#fff" stroke="#dcbfa8" stroke-width="0.7" stroke-dasharray="3 1.5"/>
<line x1="58.5" y1="819.2" x2="139" y2="819.2" stroke="#6a6a6a" stroke-width="0.8" />
<line x1="58.5" y1="824.9" x2="139" y2="824.9" stroke="#6a6a6a" stroke-width="0.8" />
<line x1="97.4" y1="813.3" x2="97.4" y2="836" stroke="#555" stroke-width="0.6" stroke-dasharray="1.2 0.8"/>
<line x1="94.8" y1="836" x2="100" y2="836" stroke="#555" stroke-width="0.7" />
<rect x="74.9" y="799.7" width="45.6" height="13.6" rx="2.6" fill="#f9c9ae" stroke="#555" stroke-width="0.7"/>
<text x="97.7" y="809.1" font-size="7.8" class="b" text-anchor="middle" style="fill:#b8232b">Ethylene</text>
<rect x="83.3" y="837.7" width="28.2" height="12.8" fill="#fff" stroke="#666" stroke-width="0.7"/>
<text x="97.4" y="846.4" font-size="7.1" class="b" text-anchor="middle">ETR</text>
<path d="M97.4 850.5L97.4 861" stroke="#555" stroke-width="0.7" fill="none"/>
<path d="M95.8 858.2L97.4 861L99 858.2" stroke="#555" stroke-width="0.7" fill="none"/>
<rect x="82.3" y="861.5" width="30" height="12.1" fill="#fff" stroke="#666" stroke-width="0.7"/>
<text x="97.3" y="869.9" font-size="7.1" class="b" text-anchor="middle">CTR1</text>
<line x1="97.4" y1="873.6" x2="97.4" y2="886.6" stroke="#555" stroke-width="0.6" stroke-dasharray="1.2 0.8"/>
<line x1="94.8" y1="886.6" x2="100" y2="886.6" stroke="#555" stroke-width="0.7" />
<rect x="82.3" y="888.2" width="30" height="12.3" fill="#fff" stroke="#666" stroke-width="0.7"/>
<text x="97.3" y="896.7" font-size="7.1" class="b" text-anchor="middle">MKK</text>
<path d="M97.4 900.5L97.4 912.2" stroke="#555" stroke-width="0.7" fill="none"/>
<path d="M95.8 909.4L97.4 912.2L99 909.4" stroke="#555" stroke-width="0.7" fill="none"/>
<rect x="82.3" y="912.6" width="29.5" height="12.3" fill="#fff" stroke="#666" stroke-width="0.7"/>
<text x="97" y="921.1" font-size="7.1" class="b" text-anchor="middle">MPK6</text>
<path d="M97.4 924.9L97.4 936" stroke="#555" stroke-width="0.7" fill="none" stroke-dasharray="1.2 0.8"/>
<path d="M95.8 933.2L97.4 936L99 933.2" stroke="#555" stroke-width="0.7" fill="none"/>
<line x1="72.6" y1="942" x2="83.3" y2="942" stroke="#6a6a6a" stroke-width="0.8" />
<line x1="112" y1="942" x2="122.6" y2="942" stroke="#6a6a6a" stroke-width="0.8" />
<rect x="82.6" y="936.4" width="29.7" height="12.1" fill="#fff" stroke="#666" stroke-width="0.7"/>
<text x="97.4" y="944.8" font-size="7.1" class="b" text-anchor="middle">EIN2</text>
<line x1="66.2" y1="952.6" x2="129" y2="952.6" stroke="#555" stroke-width="0.7" stroke-dasharray="2.4 1.6"/>
<path d="M97.4 948.5L97.4 960.4" stroke="#555" stroke-width="0.7" fill="none"/>
<path d="M95.8 957.6L97.4 960.4L99 957.6" stroke="#555" stroke-width="0.7" fill="none"/>
<rect x="82.3" y="960.8" width="30" height="12" fill="#fff" stroke="#666" stroke-width="0.7"/>
<text x="97.3" y="969.1" font-size="7.1" class="b" text-anchor="middle">EIN3</text>
<path d="M97.4 972.8L97.4 984.7" stroke="#555" stroke-width="0.7" fill="none"/>
<path d="M95.8 981.9L97.4 984.7L99 981.9" stroke="#555" stroke-width="0.7" fill="none"/>
<rect x="82.3" y="985.1" width="30" height="12.3" fill="#fff" stroke="#666" stroke-width="0.7"/>
<text x="97.3" y="993.6" font-size="7.1" class="b" text-anchor="middle">ERF1</text>
<path d="M97.4 997.4L97.4 1012.8" stroke="#555" stroke-width="0.7" fill="none" stroke-dasharray="1.2 0.8"/>
<path d="M95.8 1010L97.4 1012.8L99 1010" stroke="#555" stroke-width="0.7" fill="none"/>
<rect x="61.5" y="1013.3" width="71.8" height="13.6" rx="2.6" fill="#dbead6" stroke="#555" stroke-width="0.7"/>
<text x="97.4" y="1022.7" font-size="7.8" class="b" text-anchor="middle">Ethylene response</text>
<rect x="115.4" y="839.5" width="8.5" height="4.8" fill="#3e69b5"/>
<rect x="123.9" y="839.5" width="8.5" height="4.8" fill="#3e69b5"/>
<rect x="132.3" y="839.5" width="8.5" height="4.8" fill="#416cb6"/>
<rect x="140.8" y="839.5" width="8.5" height="4.8" fill="#c6c9b2"/>
<rect x="149.3" y="839.5" width="8.5" height="4.8" fill="#3e69b5"/>
<rect x="157.7" y="839.5" width="8.5" height="4.8" fill="#416cb6"/>
<rect x="115.4" y="844.4" width="8.5" height="4.8" fill="#9eafbd"/>
<rect x="123.9" y="844.4" width="8.5" height="4.8" fill="#c6c9b2"/>
<rect x="132.3" y="844.4" width="8.5" height="4.8" fill="#f5e6b9"/>
<rect x="140.8" y="844.4" width="8.5" height="4.8" fill="#f5cd9e"/>
<rect x="149.3" y="844.4" width="8.5" height="4.8" fill="#8aa2c2"/>
<rect x="157.7" y="844.4" width="8.5" height="4.8" fill="#f5e6b9"/>
<path d="M123.9 839.5V849.2M132.3 839.5V849.2M140.8 839.5V849.2M149.3 839.5V849.2M157.7 839.5V849.2M115.4 844.4H166.2" stroke="#fff" stroke-width="0.35" stroke-opacity="0.7" fill="none"/>
<text x="167.8" y="843.3" font-size="4.4" class="b i">Cisa00063041</text>
<text x="167.8" y="848.2" font-size="4.4" class="b i">Cisa00054897</text>
<rect x="115.4" y="892" width="8.1" height="4.7" fill="#f5cd9e"/>
<rect x="123.5" y="892" width="8.1" height="4.7" fill="#f1ae82"/>
<rect x="131.6" y="892" width="8.1" height="4.7" fill="#e77355"/>
<rect x="139.8" y="892" width="8.1" height="4.7" fill="#ee9c73"/>
<rect x="147.9" y="892" width="8.1" height="4.7" fill="#f5d2a3"/>
<rect x="156" y="892" width="8.1" height="4.7" fill="#f5d2a3"/>
<path d="M123.5 892V896.7M131.6 892V896.7M139.8 892V896.7M147.9 892V896.7M156 892V896.7" stroke="#fff" stroke-width="0.35" stroke-opacity="0.7" fill="none"/>
<text x="165.7" y="895.8" font-size="4.4" class="b i">Cisa00044439</text>
<rect x="115.4" y="962.6" width="8" height="4.6" fill="#f5e6b9"/>
<rect x="123.4" y="962.6" width="8" height="4.6" fill="#5278b9"/>
<rect x="131.5" y="962.6" width="8" height="4.6" fill="#8aa2c2"/>
<rect x="139.5" y="962.6" width="8" height="4.6" fill="#6e8dbd"/>
<rect x="147.5" y="962.6" width="8" height="4.6" fill="#ece0b8"/>
<rect x="155.6" y="962.6" width="8" height="4.6" fill="#6e8dbd"/>
<rect x="115.4" y="967.2" width="8" height="4.6" fill="#efa57a"/>
<rect x="123.4" y="967.2" width="8" height="4.6" fill="#ee9c73"/>
<rect x="131.5" y="967.2" width="8" height="4.6" fill="#ec8f68"/>
<rect x="139.5" y="967.2" width="8" height="4.6" fill="#d42e29"/>
<rect x="147.5" y="967.2" width="8" height="4.6" fill="#f5cd9e"/>
<rect x="155.6" y="967.2" width="8" height="4.6" fill="#e15841"/>
<path d="M123.4 962.6V971.8M131.5 962.6V971.8M139.5 962.6V971.8M147.5 962.6V971.8M155.6 962.6V971.8M115.4 967.2H163.6" stroke="#fff" stroke-width="0.35" stroke-opacity="0.7" fill="none"/>
<text x="165.2" y="966.3" font-size="4.4" class="b i">Cisa00023635</text>
<text x="165.2" y="970.9" font-size="4.4" class="b i">Cisa00000807</text>
<rect x="115.4" y="989.5" width="8" height="4.6" fill="#6e8dbd"/>
<rect x="123.4" y="989.5" width="8" height="4.6" fill="#f5e6b9"/>
<rect x="131.5" y="989.5" width="8" height="4.6" fill="#f5e6b9"/>
<rect x="139.5" y="989.5" width="8" height="4.6" fill="#c6c9b2"/>
<rect x="147.5" y="989.5" width="8" height="4.6" fill="#3560b2"/>
<rect x="155.6" y="989.5" width="8" height="4.6" fill="#c6c9b2"/>
<path d="M123.4 989.5V994.1M131.5 989.5V994.1M139.5 989.5V994.1M147.5 989.5V994.1M155.6 989.5V994.1" stroke="#fff" stroke-width="0.35" stroke-opacity="0.7" fill="none"/>
<text x="165.2" y="993.2" font-size="4.4" class="b i">Cisa00065848</text>
<rect x="52.6" y="841" width="5.9" height="46.2" fill="url(#hg)"/>
<line x1="58.5" y1="841" x2="59.3" y2="841" stroke="#333" stroke-width="0.3" />
<text x="59.7" y="841.9" font-size="2.6" class="b">8.00</text>
<line x1="58.5" y1="848.7" x2="59.3" y2="848.7" stroke="#333" stroke-width="0.3" />
<text x="59.7" y="849.6" font-size="2.6" class="b">7.00</text>
<line x1="58.5" y1="856.4" x2="59.3" y2="856.4" stroke="#333" stroke-width="0.3" />
<text x="59.7" y="857.3" font-size="2.6" class="b">6.00</text>
<line x1="58.5" y1="864.1" x2="59.3" y2="864.1" stroke="#333" stroke-width="0.3" />
<text x="59.7" y="865" font-size="2.6" class="b">5.00</text>
<line x1="58.5" y1="871.8" x2="59.3" y2="871.8" stroke="#333" stroke-width="0.3" />
<text x="59.7" y="872.7" font-size="2.6" class="b">4.00</text>
<line x1="58.5" y1="879.5" x2="59.3" y2="879.5" stroke="#333" stroke-width="0.3" />
<text x="59.7" y="880.4" font-size="2.6" class="b">3.00</text>
<line x1="58.5" y1="887.2" x2="59.3" y2="887.2" stroke="#333" stroke-width="0.3" />
<text x="59.7" y="888.1" font-size="2.6" class="b">2.00</text>
<line x1="271" y1="813.3" x2="271" y2="825.4" stroke="#555" stroke-width="0.7" />
<rect x="248.2" y="799.7" width="45.4" height="13.6" rx="2.6" fill="#f9c9ae" stroke="#555" stroke-width="0.7"/>
<text x="270.9" y="809.1" font-size="7.8" class="b" text-anchor="middle" style="fill:#b8232b">Auxin</text>
<line x1="230.8" y1="827.4" x2="311.5" y2="827.4" stroke="#6a6a6a" stroke-width="0.8" />
<line x1="230.8" y1="833.8" x2="311.5" y2="833.8" stroke="#6a6a6a" stroke-width="0.8" />
<rect x="256.9" y="825.4" width="27.7" height="11.8" fill="#fff" stroke="#666" stroke-width="0.7"/>
<text x="270.8" y="833.6" font-size="7.1" class="b" text-anchor="middle">AUX1</text>
<path d="M271 837.2L271 854" stroke="#555" stroke-width="0.7" fill="none"/>
<path d="M269.4 851.2L271 854L272.6 851.2" stroke="#555" stroke-width="0.7" fill="none"/>
<rect x="256.9" y="854.4" width="27.7" height="12" fill="#fff" stroke="#666" stroke-width="0.7"/>
<text x="270.8" y="862.7" font-size="7.1" class="b" text-anchor="middle">TIR1</text>
<line x1="271" y1="866.4" x2="271" y2="880.3" stroke="#555" stroke-width="0.7" />
<line x1="268.4" y1="880.3" x2="273.6" y2="880.3" stroke="#555" stroke-width="0.7" />
<rect x="249.2" y="883.8" width="43.1" height="12.4" fill="#fff" stroke="#666" stroke-width="0.7"/>
<text x="270.8" y="892.3" font-size="7.1" class="b" text-anchor="middle">AUX/TAA</text>
<line x1="271" y1="896.2" x2="271" y2="918.5" stroke="#555" stroke-width="0.7" />
<line x1="267.7" y1="907.4" x2="274.3" y2="907.4" stroke="#555" stroke-width="0.7" />
<rect x="256.9" y="918.5" width="27.7" height="12" fill="#fff" stroke="#666" stroke-width="0.7"/>
<text x="270.8" y="926.8" font-size="7.1" class="b" text-anchor="middle">ARF</text>
<path d="M271 930.5L271 953.4" stroke="#555" stroke-width="0.7" fill="none"/>
<path d="M269.4 950.6L271 953.4L272.6 950.6" stroke="#555" stroke-width="0.7" fill="none"/>
<rect x="250.5" y="953.8" width="41" height="28.8" fill="#fff" stroke="#666" stroke-width="0.7"/>
<text x="271" y="962.8" font-size="7.1" class="b" text-anchor="middle">AUX/TAA</text>
<text x="271" y="970.5" font-size="7.1" class="b" text-anchor="middle">GH3</text>
<text x="271" y="978.2" font-size="7.1" class="b" text-anchor="middle">SAUR</text>
<path d="M271 982.6L271 1012.8" stroke="#555" stroke-width="0.7" fill="none" stroke-dasharray="1.2 0.8"/>
<path d="M269.4 1010L271 1012.8L272.6 1010" stroke="#555" stroke-width="0.7" fill="none"/>
<rect x="235.1" y="1013.3" width="71.3" height="13.6" rx="2.6" fill="#dbead6" stroke="#555" stroke-width="0.7"/>
<text x="270.8" y="1022.7" font-size="7.8" class="b" text-anchor="middle">Auxin response</text>
<rect x="280" y="835.9" width="8" height="4.4" fill="#f3bb8d"/>
<rect x="288" y="835.9" width="8" height="4.4" fill="#f5c898"/>
<rect x="296.1" y="835.9" width="8" height="4.4" fill="#f5c898"/>
<rect x="304.1" y="835.9" width="8" height="4.4" fill="#f5e6b9"/>
<rect x="312.1" y="835.9" width="8" height="4.4" fill="#f5d2a3"/>
<rect x="320.2" y="835.9" width="8" height="4.4" fill="#f5cd9e"/>
<path d="M288 835.9V840.3M296.1 835.9V840.3M304.1 835.9V840.3M312.1 835.9V840.3M320.2 835.9V840.3" stroke="#fff" stroke-width="0.35" stroke-opacity="0.7" fill="none"/>
<text x="331" y="839.5" font-size="4.4" class="b i">Cisa00047633</text>
<rect x="289" y="858.2" width="7.5" height="4.4" fill="#f5d2a3"/>
<rect x="296.5" y="858.2" width="7.5" height="4.4" fill="#f5daab"/>
<rect x="303.9" y="858.2" width="7.5" height="4.4" fill="#f5daab"/>
<rect x="311.4" y="858.2" width="7.5" height="4.4" fill="#f5c898"/>
<rect x="318.9" y="858.2" width="7.5" height="4.4" fill="#f5d2a3"/>
<rect x="326.3" y="858.2" width="7.5" height="4.4" fill="#f5daab"/>
<path d="M296.5 858.2V862.6M303.9 858.2V862.6M311.4 858.2V862.6M318.9 858.2V862.6M326.3 858.2V862.6" stroke="#fff" stroke-width="0.35" stroke-opacity="0.7" fill="none"/>
<text x="336" y="861.8" font-size="4.4" class="b i">Cisa00043683</text>
<rect x="294.9" y="880.8" width="7.5" height="4.6" fill="#c6c9b2"/>
<rect x="302.4" y="880.8" width="7.5" height="4.6" fill="#cfcfb3"/>
<rect x="309.8" y="880.8" width="7.5" height="4.6" fill="#cfcfb3"/>
<rect x="317.3" y="880.8" width="7.5" height="4.6" fill="#ded8b6"/>
<rect x="324.8" y="880.8" width="7.5" height="4.6" fill="#cfcfb3"/>
<rect x="332.2" y="880.8" width="7.5" height="4.6" fill="#ece0b8"/>
<rect x="294.9" y="885.4" width="7.5" height="4.6" fill="#8aa2c2"/>
<rect x="302.4" y="885.4" width="7.5" height="4.6" fill="#96aabf"/>
<rect x="309.8" y="885.4" width="7.5" height="4.6" fill="#9eafbd"/>
<rect x="317.3" y="885.4" width="7.5" height="4.6" fill="#6385bc"/>
<rect x="324.8" y="885.4" width="7.5" height="4.6" fill="#a6b4bb"/>
<rect x="332.2" y="885.4" width="7.5" height="4.6" fill="#9eafbd"/>
<rect x="294.9" y="890" width="7.5" height="4.6" fill="#416cb6"/>
<rect x="302.4" y="890" width="7.5" height="4.6" fill="#5278b9"/>
<rect x="309.8" y="890" width="7.5" height="4.6" fill="#5278b9"/>
<rect x="317.3" y="890" width="7.5" height="4.6" fill="#9eafbd"/>
<rect x="324.8" y="890" width="7.5" height="4.6" fill="#5278b9"/>
<rect x="332.2" y="890" width="7.5" height="4.6" fill="#8aa2c2"/>
<rect x="294.9" y="894.6" width="7.5" height="4.6" fill="#b2bcb7"/>
<rect x="302.4" y="894.6" width="7.5" height="4.6" fill="#c6c9b2"/>
<rect x="309.8" y="894.6" width="7.5" height="4.6" fill="#c6c9b2"/>
<rect x="317.3" y="894.6" width="7.5" height="4.6" fill="#96aabf"/>
<rect x="324.8" y="894.6" width="7.5" height="4.6" fill="#c6c9b2"/>
<rect x="332.2" y="894.6" width="7.5" height="4.6" fill="#bec4b4"/>
<path d="M302.4 880.8V899.2M309.8 880.8V899.2M317.3 880.8V899.2M324.8 880.8V899.2M332.2 880.8V899.2M294.9 885.4H339.7M294.9 890H339.7M294.9 894.6H339.7" stroke="#fff" stroke-width="0.35" stroke-opacity="0.7" fill="none"/>
<text x="341.3" y="884.5" font-size="4.4" class="b i">Cisa00033442</text>
<text x="341.3" y="889.1" font-size="4.4" class="b i">Cisa00061760</text>
<text x="341.3" y="893.7" font-size="4.4" class="b i">Cisa00068215</text>
<text x="341.3" y="898.3" font-size="4.4" class="b i">Cisa00028309</text>
<rect x="289" y="914.6" width="7.5" height="4.7" fill="#f5c898"/>
<rect x="296.5" y="914.6" width="7.5" height="4.7" fill="#f5c898"/>
<rect x="303.9" y="914.6" width="7.5" height="4.7" fill="#f5cd9e"/>
<rect x="311.4" y="914.6" width="7.5" height="4.7" fill="#efa57a"/>
<rect x="318.9" y="914.6" width="7.5" height="4.7" fill="#f5cd9e"/>
<rect x="326.3" y="914.6" width="7.5" height="4.7" fill="#f5cd9e"/>
<rect x="289" y="919.3" width="7.5" height="4.7" fill="#f3bb8d"/>
<rect x="296.5" y="919.3" width="7.5" height="4.7" fill="#f5c898"/>
<rect x="303.9" y="919.3" width="7.5" height="4.7" fill="#f5d2a3"/>
<rect x="311.4" y="919.3" width="7.5" height="4.7" fill="#f5cd9e"/>
<rect x="318.9" y="919.3" width="7.5" height="4.7" fill="#f2b689"/>
<rect x="326.3" y="919.3" width="7.5" height="4.7" fill="#f5d2a3"/>
<rect x="289" y="924" width="7.5" height="4.7" fill="#416cb6"/>
<rect x="296.5" y="924" width="7.5" height="4.7" fill="#3e69b5"/>
<rect x="303.9" y="924" width="7.5" height="4.7" fill="#416cb6"/>
<rect x="311.4" y="924" width="7.5" height="4.7" fill="#3e69b5"/>
<rect x="318.9" y="924" width="7.5" height="4.7" fill="#6e8dbd"/>
<rect x="326.3" y="924" width="7.5" height="4.7" fill="#416cb6"/>
<rect x="289" y="928.6" width="7.5" height="4.7" fill="#f5e6b9"/>
<rect x="296.5" y="928.6" width="7.5" height="4.7" fill="#f5e6b9"/>
<rect x="303.9" y="928.6" width="7.5" height="4.7" fill="#ece0b8"/>
<rect x="311.4" y="928.6" width="7.5" height="4.7" fill="#f5e6b9"/>
<rect x="318.9" y="928.6" width="7.5" height="4.7" fill="#9eafbd"/>
<rect x="326.3" y="928.6" width="7.5" height="4.7" fill="#ded8b6"/>
<path d="M296.5 914.6V933.3M303.9 914.6V933.3M311.4 914.6V933.3M318.9 914.6V933.3M326.3 914.6V933.3M289 919.3H333.8M289 924H333.8M289 928.6H333.8" stroke="#fff" stroke-width="0.35" stroke-opacity="0.7" fill="none"/>
<text x="335.4" y="918.3" font-size="4.4" class="b i">Cisa00026292</text>
<text x="335.4" y="923" font-size="4.4" class="b i">Cisa00028441</text>
<text x="335.4" y="927.7" font-size="4.4" class="b i">Cisa00002408</text>
<text x="335.4" y="932.4" font-size="4.4" class="b i">Cisa00026327</text>
<rect x="293.6" y="942.8" width="6" height="3.9" fill="#3560b2"/>
<rect x="299.6" y="942.8" width="6" height="3.9" fill="#3a65b4"/>
<rect x="305.6" y="942.8" width="6" height="3.9" fill="#3a65b4"/>
<rect x="311.6" y="942.8" width="6" height="3.9" fill="#9eafbd"/>
<rect x="317.5" y="942.8" width="6" height="3.9" fill="#3560b2"/>
<rect x="323.5" y="942.8" width="6" height="3.9" fill="#3a65b4"/>
<rect x="293.6" y="946.7" width="6" height="3.9" fill="#cfcfb3"/>
<rect x="299.6" y="946.7" width="6" height="3.9" fill="#ded8b6"/>
<rect x="305.6" y="946.7" width="6" height="3.9" fill="#ded8b6"/>
<rect x="311.6" y="946.7" width="6" height="3.9" fill="#f5e6b9"/>
<rect x="317.5" y="946.7" width="6" height="3.9" fill="#cfcfb3"/>
<rect x="323.5" y="946.7" width="6" height="3.9" fill="#ded8b6"/>
<rect x="293.6" y="950.7" width="6" height="3.9" fill="#3a65b4"/>
<rect x="299.6" y="950.7" width="6" height="3.9" fill="#3a65b4"/>
<rect x="305.6" y="950.7" width="6" height="3.9" fill="#416cb6"/>
<rect x="311.6" y="950.7" width="6" height="3.9" fill="#f5e6b9"/>
<rect x="317.5" y="950.7" width="6" height="3.9" fill="#3a65b4"/>
<rect x="323.5" y="950.7" width="6" height="3.9" fill="#3e69b5"/>
<rect x="293.6" y="954.6" width="6" height="3.9" fill="#416cb6"/>
<rect x="299.6" y="954.6" width="6" height="3.9" fill="#3e69b5"/>
<rect x="305.6" y="954.6" width="6" height="3.9" fill="#3e69b5"/>
<rect x="311.6" y="954.6" width="6" height="3.9" fill="#ded8b6"/>
<rect x="317.5" y="954.6" width="6" height="3.9" fill="#3e69b5"/>
<rect x="323.5" y="954.6" width="6" height="3.9" fill="#3e69b5"/>
<rect x="293.6" y="958.5" width="6" height="3.9" fill="#ded8b6"/>
<rect x="299.6" y="958.5" width="6" height="3.9" fill="#cfcfb3"/>
<rect x="305.6" y="958.5" width="6" height="3.9" fill="#9eafbd"/>
<rect x="311.6" y="958.5" width="6" height="3.9" fill="#f5cd9e"/>
<rect x="317.5" y="958.5" width="6" height="3.9" fill="#ded8b6"/>
<rect x="323.5" y="958.5" width="6" height="3.9" fill="#c6c9b2"/>
<rect x="293.6" y="962.5" width="6" height="3.9" fill="#3e69b5"/>
<rect x="299.6" y="962.5" width="6" height="3.9" fill="#416cb6"/>
<rect x="305.6" y="962.5" width="6" height="3.9" fill="#6e8dbd"/>
<rect x="311.6" y="962.5" width="6" height="3.9" fill="#f5daab"/>
<rect x="317.5" y="962.5" width="6" height="3.9" fill="#416cb6"/>
<rect x="323.5" y="962.5" width="6" height="3.9" fill="#5278b9"/>
<path d="M299.6 942.8V966.4M305.6 942.8V966.4M311.6 942.8V966.4M317.5 942.8V966.4M323.5 942.8V966.4M293.6 946.7H329.5M293.6 950.7H329.5M293.6 954.6H329.5M293.6 958.5H329.5M293.6 962.5H329.5" stroke="#fff" stroke-width="0.35" stroke-opacity="0.7" fill="none"/>
<text x="331.1" y="945.8" font-size="3.3" class="b i">Cisa00017782</text>
<text x="331.1" y="949.8" font-size="3.3" class="b i">Cisa00003024</text>
<text x="331.1" y="953.7" font-size="3.3" class="b i">Cisa00072687</text>
<text x="331.1" y="957.6" font-size="3.3" class="b i">Cisa00012084</text>
<text x="331.1" y="961.6" font-size="3.3" class="b i">Cisa00003872</text>
<text x="331.1" y="965.5" font-size="3.3" class="b i">Cisa00002775</text>
<rect x="293.6" y="968.5" width="6" height="3.8" fill="#8aa2c2"/>
<rect x="299.6" y="968.5" width="6" height="3.8" fill="#9eafbd"/>
<rect x="305.6" y="968.5" width="6" height="3.8" fill="#c6c9b2"/>
<rect x="311.6" y="968.5" width="6" height="3.8" fill="#d9362c"/>
<rect x="317.5" y="968.5" width="6" height="3.8" fill="#9eafbd"/>
<rect x="323.5" y="968.5" width="6" height="3.8" fill="#b2bcb7"/>
<rect x="293.6" y="972.3" width="6" height="3.8" fill="#e15841"/>
<rect x="299.6" y="972.3" width="6" height="3.8" fill="#e77355"/>
<rect x="305.6" y="972.3" width="6" height="3.8" fill="#ec8f68"/>
<rect x="311.6" y="972.3" width="6" height="3.8" fill="#d42e29"/>
<rect x="317.5" y="972.3" width="6" height="3.8" fill="#efa57a"/>
<rect x="323.5" y="972.3" width="6" height="3.8" fill="#ec8f68"/>
<rect x="293.6" y="976.2" width="6" height="3.8" fill="#ded8b6"/>
<rect x="299.6" y="976.2" width="6" height="3.8" fill="#c6c9b2"/>
<rect x="305.6" y="976.2" width="6" height="3.8" fill="#c6c9b2"/>
<rect x="311.6" y="976.2" width="6" height="3.8" fill="#f5e6b9"/>
<rect x="317.5" y="976.2" width="6" height="3.8" fill="#ded8b6"/>
<rect x="323.5" y="976.2" width="6" height="3.8" fill="#ded8b6"/>
<rect x="293.6" y="980" width="6" height="3.8" fill="#f5e6b9"/>
<rect x="299.6" y="980" width="6" height="3.8" fill="#ded8b6"/>
<rect x="305.6" y="980" width="6" height="3.8" fill="#ded8b6"/>
<rect x="311.6" y="980" width="6" height="3.8" fill="#f5daab"/>
<rect x="317.5" y="980" width="6" height="3.8" fill="#f5e6b9"/>
<rect x="323.5" y="980" width="6" height="3.8" fill="#ded8b6"/>
<rect x="293.6" y="983.9" width="6" height="3.8" fill="#6e8dbd"/>
<rect x="299.6" y="983.9" width="6" height="3.8" fill="#9eafbd"/>
<rect x="305.6" y="983.9" width="6" height="3.8" fill="#8aa2c2"/>
<rect x="311.6" y="983.9" width="6" height="3.8" fill="#f5daab"/>
<rect x="317.5" y="983.9" width="6" height="3.8" fill="#8aa2c2"/>
<rect x="323.5" y="983.9" width="6" height="3.8" fill="#9eafbd"/>
<rect x="293.6" y="987.7" width="6" height="3.8" fill="#f5e6b9"/>
<rect x="299.6" y="987.7" width="6" height="3.8" fill="#f5e1b4"/>
<rect x="305.6" y="987.7" width="6" height="3.8" fill="#f5e6b9"/>
<rect x="311.6" y="987.7" width="6" height="3.8" fill="#f5d2a3"/>
<rect x="317.5" y="987.7" width="6" height="3.8" fill="#f5e6b9"/>
<rect x="323.5" y="987.7" width="6" height="3.8" fill="#f5e6b9"/>
<rect x="293.6" y="991.5" width="6" height="3.8" fill="#9eafbd"/>
<rect x="299.6" y="991.5" width="6" height="3.8" fill="#9eafbd"/>
<rect x="305.6" y="991.5" width="6" height="3.8" fill="#b2bcb7"/>
<rect x="311.6" y="991.5" width="6" height="3.8" fill="#3e69b5"/>
<rect x="317.5" y="991.5" width="6" height="3.8" fill="#c6c9b2"/>
<rect x="323.5" y="991.5" width="6" height="3.8" fill="#b2bcb7"/>
<rect x="293.6" y="995.4" width="6" height="3.8" fill="#b2bcb7"/>
<rect x="299.6" y="995.4" width="6" height="3.8" fill="#ded8b6"/>
<rect x="305.6" y="995.4" width="6" height="3.8" fill="#c6c9b2"/>
<rect x="311.6" y="995.4" width="6" height="3.8" fill="#f5e6b9"/>
<rect x="317.5" y="995.4" width="6" height="3.8" fill="#c6c9b2"/>
<rect x="323.5" y="995.4" width="6" height="3.8" fill="#cfcfb3"/>
<rect x="293.6" y="999.2" width="6" height="3.8" fill="#f1ae82"/>
<rect x="299.6" y="999.2" width="6" height="3.8" fill="#efa57a"/>
<rect x="305.6" y="999.2" width="6" height="3.8" fill="#ee9c73"/>
<rect x="311.6" y="999.2" width="6" height="3.8" fill="#f5cd9e"/>
<rect x="317.5" y="999.2" width="6" height="3.8" fill="#f5c898"/>
<rect x="323.5" y="999.2" width="6" height="3.8" fill="#ee9c73"/>
<rect x="293.6" y="1003.1" width="6" height="3.8" fill="#f5c898"/>
<rect x="299.6" y="1003.1" width="6" height="3.8" fill="#f5cd9e"/>
<rect x="305.6" y="1003.1" width="6" height="3.8" fill="#f5d2a3"/>
<rect x="311.6" y="1003.1" width="6" height="3.8" fill="#f5c898"/>
<rect x="317.5" y="1003.1" width="6" height="3.8" fill="#f3bb8d"/>
<rect x="323.5" y="1003.1" width="6" height="3.8" fill="#f5cd9e"/>
<path d="M299.6 968.5V1006.9M305.6 968.5V1006.9M311.6 968.5V1006.9M317.5 968.5V1006.9M323.5 968.5V1006.9M293.6 972.3H329.5M293.6 976.2H329.5M293.6 980H329.5M293.6 983.9H329.5M293.6 987.7H329.5M293.6 991.5H329.5M293.6 995.4H329.5M293.6 999.2H329.5M293.6 1003.1H329.5" stroke="#fff" stroke-width="0.35" stroke-opacity="0.7" fill="none"/>
<text x="331.1" y="971.5" font-size="3.3" class="b i">Cisa00026436</text>
<text x="331.1" y="975.3" font-size="3.3" class="b i">Cisa00056002</text>
<text x="331.1" y="979.2" font-size="3.3" class="b i">Cisa00004943</text>
<text x="331.1" y="983" font-size="3.3" class="b i">Cisa00026332</text>
<text x="331.1" y="986.8" font-size="3.3" class="b i">Cisa00006432</text>
<text x="331.1" y="990.7" font-size="3.3" class="b i">Cisa00003009</text>
<text x="331.1" y="994.5" font-size="3.3" class="b i">Cisa00070680</text>
<text x="331.1" y="998.4" font-size="3.3" class="b i">Cisa00005009</text>
<text x="331.1" y="1002.2" font-size="3.3" class="b i">Cisa00004785</text>
<text x="331.1" y="1006" font-size="3.3" class="b i">Cisa00059428</text>
<line x1="352.8" y1="942.8" x2="352.8" y2="966.4" stroke="#333" stroke-width="0.5" />
<line x1="352.8" y1="968.5" x2="352.8" y2="1006.9" stroke="#333" stroke-width="0.5" />
<text x="354.4" y="956.6" font-size="5.8" class="b">GH3</text>
<text x="354.4" y="989.2" font-size="5.8" class="b">SAUR</text>
<rect x="222.6" y="847.2" width="5.6" height="45.6" fill="url(#hg)"/>
<line x1="228.2" y1="847.2" x2="229" y2="847.2" stroke="#333" stroke-width="0.3" />
<text x="229.4" y="848.1" font-size="2.6" class="b">10.00</text>
<line x1="228.2" y1="856.3" x2="229" y2="856.3" stroke="#333" stroke-width="0.3" />
<text x="229.4" y="857.2" font-size="2.6" class="b">8.00</text>
<line x1="228.2" y1="865.4" x2="229" y2="865.4" stroke="#333" stroke-width="0.3" />
<text x="229.4" y="866.3" font-size="2.6" class="b">6.00</text>
<line x1="228.2" y1="874.6" x2="229" y2="874.6" stroke="#333" stroke-width="0.3" />
<text x="229.4" y="875.5" font-size="2.6" class="b">4.00</text>
<line x1="228.2" y1="883.7" x2="229" y2="883.7" stroke="#333" stroke-width="0.3" />
<text x="229.4" y="884.6" font-size="2.6" class="b">2.00</text>
<line x1="228.2" y1="892.8" x2="229" y2="892.8" stroke="#333" stroke-width="0.3" />
<text x="229.4" y="893.7" font-size="2.6" class="b">0.00</text>
<line x1="395.6" y1="827.4" x2="476.4" y2="827.4" stroke="#6a6a6a" stroke-width="0.8" />
<line x1="395.6" y1="833.3" x2="476.4" y2="833.3" stroke="#6a6a6a" stroke-width="0.8" />
<path d="M436.7 813.3L436.7 853.2" stroke="#555" stroke-width="0.7" fill="none"/>
<path d="M435.1 850.4L436.7 853.2L438.3 850.4" stroke="#555" stroke-width="0.7" fill="none"/>
<rect x="407.7" y="799.7" width="57.9" height="13.6" rx="2.6" fill="#f9c9ae" stroke="#555" stroke-width="0.7"/>
<text x="436.6" y="809.1" font-size="7.8" class="b" text-anchor="middle" style="fill:#b8232b">Jasmonic acid</text>
<rect x="400.8" y="839" width="29.5" height="11.5" fill="#fff" stroke="#666" stroke-width="0.7"/>
<text x="415.6" y="847.1" font-size="7.1" class="b" text-anchor="middle">JAR1</text>
<rect x="417.4" y="853.6" width="37.2" height="13.1" rx="2.6" fill="#f9c9ae" stroke="#555" stroke-width="0.7"/>
<text x="436" y="862.7" font-size="7.8" class="b" text-anchor="middle">JA-Ile</text>
<path d="M436.7 866.7L436.7 877.3" stroke="#555" stroke-width="0.7" fill="none"/>
<path d="M435.1 874.5L436.7 877.3L438.3 874.5" stroke="#555" stroke-width="0.7" fill="none"/>
<rect x="422" y="877.7" width="29.5" height="12.6" fill="#fff" stroke="#666" stroke-width="0.7"/>
<text x="436.8" y="886.3" font-size="7.1" class="b" text-anchor="middle">COI1</text>
<line x1="436.7" y1="890.3" x2="436.7" y2="916" stroke="#555" stroke-width="0.7" />
<line x1="434.1" y1="916" x2="439.3" y2="916" stroke="#555" stroke-width="0.7" />
<rect x="422" y="917.7" width="29.5" height="12.3" fill="#fff" stroke="#666" stroke-width="0.7"/>
<text x="436.8" y="926.2" font-size="7.1" class="b" text-anchor="middle">JAZ</text>
<line x1="436.7" y1="930" x2="436.7" y2="955.6" stroke="#555" stroke-width="0.7" />
<line x1="433.4" y1="940.3" x2="440" y2="940.3" stroke="#555" stroke-width="0.7" />
<rect x="422" y="955.6" width="29.5" height="12.4" fill="#fff" stroke="#666" stroke-width="0.7"/>
<text x="436.8" y="964.1" font-size="7.1" class="b" text-anchor="middle">MYC2</text>
<path d="M436.7 968L436.7 987.2" stroke="#555" stroke-width="0.7" fill="none" stroke-dasharray="1.2 0.8"/>
<path d="M435.1 984.4L436.7 987.2L438.3 984.4" stroke="#555" stroke-width="0.7" fill="none"/>
<rect x="400.8" y="987.7" width="71.8" height="22.3" rx="4" fill="#dbead6" stroke="#555" stroke-width="0.7"/>
<text x="436.7" y="996.7" font-size="7.8" class="b" text-anchor="middle">Jasmonic acid</text>
<text x="436.7" y="1006.1" font-size="7.8" class="b" text-anchor="middle">response</text>
<rect x="444.4" y="841.8" width="7.9" height="6.2" fill="#f5daab"/>
<rect x="452.3" y="841.8" width="7.9" height="6.2" fill="#f5cd9e"/>
<rect x="460.2" y="841.8" width="7.9" height="6.2" fill="#f3bb8d"/>
<rect x="468.1" y="841.8" width="7.9" height="6.2" fill="#efa57a"/>
<rect x="476" y="841.8" width="7.9" height="6.2" fill="#f5daab"/>
<rect x="483.9" y="841.8" width="7.9" height="6.2" fill="#f3bb8d"/>
<path d="M452.3 841.8V848M460.2 841.8V848M468.1 841.8V848M476 841.8V848M483.9 841.8V848" stroke="#fff" stroke-width="0.35" stroke-opacity="0.7" fill="none"/>
<text x="493.4" y="846.3" font-size="4.4" class="b i">Cisa00027152</text>
<rect x="454.6" y="880.8" width="7.8" height="5.1" fill="#ded8b6"/>
<rect x="462.4" y="880.8" width="7.8" height="5.1" fill="#f5e6b9"/>
<rect x="470.2" y="880.8" width="7.8" height="5.1" fill="#ece0b8"/>
<rect x="478" y="880.8" width="7.8" height="5.1" fill="#efa57a"/>
<rect x="485.7" y="880.8" width="7.8" height="5.1" fill="#ece0b8"/>
<rect x="493.5" y="880.8" width="7.8" height="5.1" fill="#ded8b6"/>
<path d="M462.4 880.8V885.9M470.2 880.8V885.9M478 880.8V885.9M485.7 880.8V885.9M493.5 880.8V885.9" stroke="#fff" stroke-width="0.35" stroke-opacity="0.7" fill="none"/>
<text x="503.8" y="884.9" font-size="4.7" class="b i">Cisa00043266</text>
<rect x="454.6" y="896.9" width="7.8" height="6.2" fill="#c6c9b2"/>
<rect x="462.4" y="896.9" width="7.8" height="6.2" fill="#f5cd9e"/>
<rect x="470.2" y="896.9" width="7.8" height="6.2" fill="#ee9c73"/>
<rect x="478" y="896.9" width="7.8" height="6.2" fill="#ec8f68"/>
<rect x="485.7" y="896.9" width="7.8" height="6.2" fill="#ded8b6"/>
<rect x="493.5" y="896.9" width="7.8" height="6.2" fill="#f5daab"/>
<rect x="454.6" y="903.1" width="7.8" height="6.2" fill="#f5e1b4"/>
<rect x="462.4" y="903.1" width="7.8" height="6.2" fill="#f5daab"/>
<rect x="470.2" y="903.1" width="7.8" height="6.2" fill="#f5daab"/>
<rect x="478" y="903.1" width="7.8" height="6.2" fill="#f5e1b4"/>
<rect x="485.7" y="903.1" width="7.8" height="6.2" fill="#f5e1b4"/>
<rect x="493.5" y="903.1" width="7.8" height="6.2" fill="#f5daab"/>
<rect x="454.6" y="909.4" width="7.8" height="6.2" fill="#f1ae82"/>
<rect x="462.4" y="909.4" width="7.8" height="6.2" fill="#e77355"/>
<rect x="470.2" y="909.4" width="7.8" height="6.2" fill="#de4736"/>
<rect x="478" y="909.4" width="7.8" height="6.2" fill="#f5c898"/>
<rect x="485.7" y="909.4" width="7.8" height="6.2" fill="#efa57a"/>
<rect x="493.5" y="909.4" width="7.8" height="6.2" fill="#dc3c2e"/>
<rect x="454.6" y="915.6" width="7.8" height="6.2" fill="#416cb6"/>
<rect x="462.4" y="915.6" width="7.8" height="6.2" fill="#3a65b4"/>
<rect x="470.2" y="915.6" width="7.8" height="6.2" fill="#3662b3"/>
<rect x="478" y="915.6" width="7.8" height="6.2" fill="#3e69b5"/>
<rect x="485.7" y="915.6" width="7.8" height="6.2" fill="#6e8dbd"/>
<rect x="493.5" y="915.6" width="7.8" height="6.2" fill="#3560b2"/>
<rect x="454.6" y="921.9" width="7.8" height="6.2" fill="#f5e6b9"/>
<rect x="462.4" y="921.9" width="7.8" height="6.2" fill="#f5daab"/>
<rect x="470.2" y="921.9" width="7.8" height="6.2" fill="#f5daab"/>
<rect x="478" y="921.9" width="7.8" height="6.2" fill="#f5d2a3"/>
<rect x="485.7" y="921.9" width="7.8" height="6.2" fill="#f5daab"/>
<rect x="493.5" y="921.9" width="7.8" height="6.2" fill="#f5cd9e"/>
<rect x="454.6" y="928.1" width="7.8" height="6.2" fill="#f5e6b9"/>
<rect x="462.4" y="928.1" width="7.8" height="6.2" fill="#efa57a"/>
<rect x="470.2" y="928.1" width="7.8" height="6.2" fill="#e5684d"/>
<rect x="478" y="928.1" width="7.8" height="6.2" fill="#f5c898"/>
<rect x="485.7" y="928.1" width="7.8" height="6.2" fill="#f1ae82"/>
<rect x="493.5" y="928.1" width="7.8" height="6.2" fill="#e77355"/>
<rect x="454.6" y="934.4" width="7.8" height="6.2" fill="#e5684d"/>
<rect x="462.4" y="934.4" width="7.8" height="6.2" fill="#dc3c2e"/>
<rect x="470.2" y="934.4" width="7.8" height="6.2" fill="#d42e29"/>
<rect x="478" y="934.4" width="7.8" height="6.2" fill="#dc3c2e"/>
<rect x="485.7" y="934.4" width="7.8" height="6.2" fill="#e5684d"/>
<rect x="493.5" y="934.4" width="7.8" height="6.2" fill="#d42e29"/>
<rect x="454.6" y="940.6" width="7.8" height="6.2" fill="#ece0b8"/>
<rect x="462.4" y="940.6" width="7.8" height="6.2" fill="#f5c898"/>
<rect x="470.2" y="940.6" width="7.8" height="6.2" fill="#f2b689"/>
<rect x="478" y="940.6" width="7.8" height="6.2" fill="#f5c898"/>
<rect x="485.7" y="940.6" width="7.8" height="6.2" fill="#f5daab"/>
<rect x="493.5" y="940.6" width="7.8" height="6.2" fill="#f5c898"/>
<path d="M462.4 896.9V946.9M470.2 896.9V946.9M478 896.9V946.9M485.7 896.9V946.9M493.5 896.9V946.9M454.6 903.1H501.3M454.6 909.4H501.3M454.6 915.6H501.3M454.6 921.9H501.3M454.6 928.1H501.3M454.6 934.4H501.3M454.6 940.6H501.3" stroke="#fff" stroke-width="0.35" stroke-opacity="0.7" fill="none"/>
<text x="503.8" y="901.5" font-size="4.7" class="b i">Cisa00054631</text>
<text x="503.8" y="907.8" font-size="4.7" class="b i">Cisa00056193</text>
<text x="503.8" y="914" font-size="4.7" class="b i">Cisa00018932</text>
<text x="503.8" y="920.3" font-size="4.7" class="b i">Cisa00013586</text>
<text x="503.8" y="926.5" font-size="4.7" class="b i">Cisa00067758</text>
<text x="503.8" y="932.8" font-size="4.7" class="b i">Cisa00063396</text>
<text x="503.8" y="939" font-size="4.7" class="b i">Cisa00059979</text>
<text x="503.8" y="945.3" font-size="4.7" class="b i">Cisa00066823</text>
<rect x="454.6" y="953.1" width="7.8" height="6" fill="#efa57a"/>
<rect x="462.4" y="953.1" width="7.8" height="6" fill="#e97e5c"/>
<rect x="470.2" y="953.1" width="7.8" height="6" fill="#e97e5c"/>
<rect x="478" y="953.1" width="7.8" height="6" fill="#f3bb8d"/>
<rect x="485.7" y="953.1" width="7.8" height="6" fill="#f5c898"/>
<rect x="493.5" y="953.1" width="7.8" height="6" fill="#ee9c73"/>
<rect x="454.6" y="959.1" width="7.8" height="6" fill="#f5e1b4"/>
<rect x="462.4" y="959.1" width="7.8" height="6" fill="#f5daab"/>
<rect x="470.2" y="959.1" width="7.8" height="6" fill="#f5daab"/>
<rect x="478" y="959.1" width="7.8" height="6" fill="#efa57a"/>
<rect x="485.7" y="959.1" width="7.8" height="6" fill="#f5e6b9"/>
<rect x="493.5" y="959.1" width="7.8" height="6" fill="#f5d2a3"/>
<rect x="454.6" y="965" width="7.8" height="6" fill="#cfcfb3"/>
<rect x="462.4" y="965" width="7.8" height="6" fill="#f5e6b9"/>
<rect x="470.2" y="965" width="7.8" height="6" fill="#f5e1b4"/>
<rect x="478" y="965" width="7.8" height="6" fill="#f5d2a3"/>
<rect x="485.7" y="965" width="7.8" height="6" fill="#f5e1b4"/>
<rect x="493.5" y="965" width="7.8" height="6" fill="#f5daab"/>
<path d="M462.4 953.1V971M470.2 953.1V971M478 953.1V971M485.7 953.1V971M493.5 953.1V971M454.6 959.1H501.3M454.6 965H501.3" stroke="#fff" stroke-width="0.35" stroke-opacity="0.7" fill="none"/>
<text x="503.8" y="957.6" font-size="4.7" class="b i">Cisa00046140</text>
<text x="503.8" y="963.6" font-size="4.7" class="b i">Cisa00054037</text>
<text x="503.8" y="969.5" font-size="4.7" class="b i">Cisa00051027</text>
<rect x="395.1" y="874.9" width="5.7" height="44.3" fill="url(#hg)"/>
<line x1="400.8" y1="874.9" x2="401.6" y2="874.9" stroke="#333" stroke-width="0.3" />
<text x="402" y="875.8" font-size="2.6" class="b">10.00</text>
<line x1="400.8" y1="883.8" x2="401.6" y2="883.8" stroke="#333" stroke-width="0.3" />
<text x="402" y="884.7" font-size="2.6" class="b">8.00</text>
<line x1="400.8" y1="892.6" x2="401.6" y2="892.6" stroke="#333" stroke-width="0.3" />
<text x="402" y="893.5" font-size="2.6" class="b">6.00</text>
<line x1="400.8" y1="901.5" x2="401.6" y2="901.5" stroke="#333" stroke-width="0.3" />
<text x="402" y="902.4" font-size="2.6" class="b">4.00</text>
<line x1="400.8" y1="910.3" x2="401.6" y2="910.3" stroke="#333" stroke-width="0.3" />
<text x="402" y="911.2" font-size="2.6" class="b">2.00</text>
<line x1="400.8" y1="919.2" x2="401.6" y2="919.2" stroke="#333" stroke-width="0.3" />
<text x="402" y="920.1" font-size="2.6" class="b">0.00</text>
<rect x="485.9" y="996.7" width="9.2" height="7.1" fill="#fff" stroke="#333" stroke-width="0.6"/>
<rect x="495.1" y="996.7" width="9.2" height="7.1" fill="#fff" stroke="#333" stroke-width="0.6"/>
<rect x="504.4" y="996.7" width="9.2" height="7.1" fill="#fff" stroke="#333" stroke-width="0.6"/>
<rect x="513.6" y="996.7" width="9.2" height="7.1" fill="#fff" stroke="#333" stroke-width="0.6"/>
<rect x="522.8" y="996.7" width="9.2" height="7.1" fill="#fff" stroke="#333" stroke-width="0.6"/>
<rect x="532" y="996.7" width="9.2" height="7.1" fill="#fff" stroke="#333" stroke-width="0.6"/>
<text x="492.3" y="1006.8" font-size="5.8" class="b" text-anchor="end" transform="rotate(-50 492.3 1006.8)">7d_CK</text>
<text x="501.5" y="1006.8" font-size="5.8" class="b" text-anchor="end" transform="rotate(-50 501.5 1006.8)">7_5_CK</text>
<text x="510.8" y="1006.8" font-size="5.8" class="b" text-anchor="end" transform="rotate(-50 510.8 1006.8)">7_15_CK</text>
<text x="520" y="1006.8" font-size="5.8" class="b" text-anchor="end" transform="rotate(-50 520 1006.8)">7d_W</text>
<text x="529.2" y="1006.8" font-size="5.8" class="b" text-anchor="end" transform="rotate(-50 529.2 1006.8)">7_5_WR</text>
<text x="538.4" y="1006.8" font-size="5.8" class="b" text-anchor="end" transform="rotate(-50 538.4 1006.8)">7_15_WR</text>
</g>
<g>
<text x="561.5" y="541.6" font-size="11.4" class="a">(A)</text>
<text x="562.2" y="822.8" font-size="11.4" class="a">(B)</text>
<rect x="590.4" y="537.7" width="95.6" height="89" fill="#000"/>
<rect x="590.4" y="629.1" width="95.6" height="82.7" fill="#000"/>
<rect x="590.4" y="714.3" width="95.6" height="83" fill="#000"/>
<rect x="688.5" y="537.7" width="95.5" height="89" fill="#000"/>
<rect x="688.5" y="629.1" width="95.5" height="82.7" fill="#000"/>
<rect x="688.5" y="714.3" width="95.5" height="83" fill="#000"/>
<rect x="786.4" y="537.7" width="92" height="89" fill="#000"/>
<rect x="786.4" y="629.1" width="92" height="82.7" fill="#000"/>
<rect x="786.4" y="714.3" width="92" height="83" fill="#000"/>
<rect x="604" y="540.1" width="3" height="80.4" fill="#fff"/>
<text x="575.8" y="573.3" font-size="12.8" text-anchor="middle" transform="rotate(-90 575.8 573.3)">Control</text>
<text x="575.8" y="679.1" font-size="12.8" text-anchor="middle" transform="rotate(-90 575.8 679.1)">Waterlogging</text>
<text x="575.8" y="768.8" font-size="12.8" text-anchor="middle" transform="rotate(-90 575.8 768.8)">ACC</text>
<text x="637.7" y="811.2" font-size="12.3" text-anchor="middle">7d</text>
<text x="732.3" y="811.2" font-size="12.3" text-anchor="middle">7d_R5d</text>
<text x="840" y="811.2" font-size="12.3" text-anchor="middle">7d_R15d</text>
<g filter="url(#rb)" fill="none" stroke-linecap="round" stroke-linejoin="round"><path d="M657.1 547.7 L655.2 549.5 L653.6 551.2 L651.4 553 L649.5 555.1 L647.3 557.1 L645.6 559.2 L644.3 562.9 L642.6 566 L641.5 569.6 L640.3 573.6 L639.8 576.9 L638.7 581.1 L638.9 584.5 L638.5 587.3 L638.2 590.3 L638.8 593 L639.8 596.1 L640.5 599.5 L641.6 602 L642.8 604.9 L644.5 607.6 L646.2 610.1 L648 612.3 L649.8 614.5 L651.5 615.9 L653.1 617 L654.8 618.4 L656.9 619.4 L658.5 619.8 L659.9 620.3" stroke="#cf9f4c" stroke-width="3"/><path d="M657.1 547.7 L655.2 549.5 L653.6 551.2 L651.4 553 L649.5 555.1 L647.3 557.1 L645.6 559.2 L644.3 562.9 L642.6 566 L641.5 569.6 L640.3 573.6 L639.8 576.9 L638.7 581.1 L638.9 584.5 L638.5 587.3 L638.2 590.3 L638.8 593 L639.8 596.1 L640.5 599.5 L641.6 602 L642.8 604.9 L644.5 607.6 L646.2 610.1 L648 612.3 L649.8 614.5 L651.5 615.9 L653.1 617 L654.8 618.4 L656.9 619.4 L658.5 619.8 L659.9 620.3" stroke="#e9c576" stroke-width="2.2"/><path d="M657.1 547.7 L655.2 549.5 L653.6 551.2 L651.4 553 L649.5 555.1 L647.3 557.1 L645.6 559.2 L644.3 562.9 L642.6 566 L641.5 569.6 L640.3 573.6 L639.8 576.9 L638.7 581.1 L638.9 584.5 L638.5 587.3 L638.2 590.3 L638.8 593 L639.8 596.1 L640.5 599.5 L641.6 602 L642.8 604.9 L644.5 607.6 L646.2 610.1 L648 612.3 L649.8 614.5 L651.5 615.9 L653.1 617 L654.8 618.4 L656.9 619.4 L658.5 619.8 L659.9 620.3" stroke="#f7e2a4" stroke-width="1.1"/><path d="M657.1 547.7 L655.2 549.5 L653.6 551.2 L651.4 553 L649.5 555.1 L647.3 557.1 L645.6 559.2 L644.3 562.9 L642.6 566 L641.5 569.6 L640.3 573.6 L639.8 576.9 L638.7 581.1 L638.9 584.5 L638.5 587.3 L638.2 590.3 L638.8 593 L639.8 596.1 L640.5 599.5 L641.6 602 L642.8 604.9 L644.5 607.6 L646.2 610.1 L648 612.3 L649.8 614.5 L651.5 615.9 L653.1 617 L654.8 618.4 L656.9 619.4 L658.5 619.8 L659.9 620.3" stroke="#b8843a" stroke-width="0.9" stroke-opacity="0.45" stroke-dasharray="0.8 3.9"/></g>
<g filter="url(#rb)" fill="none" stroke-linecap="round" stroke-linejoin="round"><path d="M738.3 549.3 L740.4 551.7 L742.7 553.6 L744.7 556.2 L746.7 559.4 L749.2 563 L751.6 566.1 L753.7 570 L755.5 573.9 L757.4 577.6 L758.3 581.1 L759.5 584.8 L760.9 588 L761.1 590.9 L761.6 593.5 L762.5 596.1 L762 598.7 L761.9 601.1 L761.3 604.1 L760.5 606.7 L760.2 608.5 L759.7 611.1 L758.5 612.9 L756.4 614.1 L755.1 615.7 L752.9 616.3 L751.3 617 L749.3 618" stroke="#cf9f4c" stroke-width="3"/><path d="M738.3 549.3 L740.4 551.7 L742.7 553.6 L744.7 556.2 L746.7 559.4 L749.2 563 L751.6 566.1 L753.7 570 L755.5 573.9 L757.4 577.6 L758.3 581.1 L759.5 584.8 L760.9 588 L761.1 590.9 L761.6 593.5 L762.5 596.1 L762 598.7 L761.9 601.1 L761.3 604.1 L760.5 606.7 L760.2 608.5 L759.7 611.1 L758.5 612.9 L756.4 614.1 L755.1 615.7 L752.9 616.3 L751.3 617 L749.3 618" stroke="#e9c576" stroke-width="2.2"/><path d="M738.3 549.3 L740.4 551.7 L742.7 553.6 L744.7 556.2 L746.7 559.4 L749.2 563 L751.6 566.1 L753.7 570 L755.5 573.9 L757.4 577.6 L758.3 581.1 L759.5 584.8 L760.9 588 L761.1 590.9 L761.6 593.5 L762.5 596.1 L762 598.7 L761.9 601.1 L761.3 604.1 L760.5 606.7 L760.2 608.5 L759.7 611.1 L758.5 612.9 L756.4 614.1 L755.1 615.7 L752.9 616.3 L751.3 617 L749.3 618" stroke="#f7e2a4" stroke-width="1.1"/><path d="M738.3 549.3 L740.4 551.7 L742.7 553.6 L744.7 556.2 L746.7 559.4 L749.2 563 L751.6 566.1 L753.7 570 L755.5 573.9 L757.4 577.6 L758.3 581.1 L759.5 584.8 L760.9 588 L761.1 590.9 L761.6 593.5 L762.5 596.1 L762 598.7 L761.9 601.1 L761.3 604.1 L760.5 606.7 L760.2 608.5 L759.7 611.1 L758.5 612.9 L756.4 614.1 L755.1 615.7 L752.9 616.3 L751.3 617 L749.3 618" stroke="#b8843a" stroke-width="0.9" stroke-opacity="0.45" stroke-dasharray="0.8 3.9"/></g>
<g filter="url(#rb)" fill="none" stroke-linecap="round" stroke-linejoin="round"><path d="M854.7 553.9 L853.9 556.2 L853.7 558.4 L853 560.4 L852.7 562.5 L852.5 564.8 L852.6 567.3 L853.3 568.9 L853.7 570.9 L854.2 573 L853.1 575.3 L852.6 577.7 L851.4 579.9 L850.9 581.9 L850.7 584.3 L850.7 586.2 L852.1 588.5 L853.3 590.6 L854.2 592.6 L854.9 595.1 L854.8 597.5 L855.3 599.5 L856.3 601.6 L857.2 603.3 L858.1 605.3 L859.8 606.8 L861.5 608.1 L863.4 609.9" stroke="#cf9f4c" stroke-width="3"/><path d="M854.7 553.9 L853.9 556.2 L853.7 558.4 L853 560.4 L852.7 562.5 L852.5 564.8 L852.6 567.3 L853.3 568.9 L853.7 570.9 L854.2 573 L853.1 575.3 L852.6 577.7 L851.4 579.9 L850.9 581.9 L850.7 584.3 L850.7 586.2 L852.1 588.5 L853.3 590.6 L854.2 592.6 L854.9 595.1 L854.8 597.5 L855.3 599.5 L856.3 601.6 L857.2 603.3 L858.1 605.3 L859.8 606.8 L861.5 608.1 L863.4 609.9" stroke="#e9c576" stroke-width="2.2"/><path d="M854.7 553.9 L853.9 556.2 L853.7 558.4 L853 560.4 L852.7 562.5 L852.5 564.8 L852.6 567.3 L853.3 568.9 L853.7 570.9 L854.2 573 L853.1 575.3 L852.6 577.7 L851.4 579.9 L850.9 581.9 L850.7 584.3 L850.7 586.2 L852.1 588.5 L853.3 590.6 L854.2 592.6 L854.9 595.1 L854.8 597.5 L855.3 599.5 L856.3 601.6 L857.2 603.3 L858.1 605.3 L859.8 606.8 L861.5 608.1 L863.4 609.9" stroke="#f7e2a4" stroke-width="1.1"/><path d="M854.7 553.9 L853.9 556.2 L853.7 558.4 L853 560.4 L852.7 562.5 L852.5 564.8 L852.6 567.3 L853.3 568.9 L853.7 570.9 L854.2 573 L853.1 575.3 L852.6 577.7 L851.4 579.9 L850.9 581.9 L850.7 584.3 L850.7 586.2 L852.1 588.5 L853.3 590.6 L854.2 592.6 L854.9 595.1 L854.8 597.5 L855.3 599.5 L856.3 601.6 L857.2 603.3 L858.1 605.3 L859.8 606.8 L861.5 608.1 L863.4 609.9" stroke="#b8843a" stroke-width="0.9" stroke-opacity="0.45" stroke-dasharray="0.8 3.9"/></g>
<g filter="url(#rb)" fill="none" stroke-linecap="round" stroke-linejoin="round"><path d="M638.2 634.6 L639.5 637.2 L641.4 639.9 L642.9 642.2 L644 645.1 L645.6 648.4 L646.8 651.4 L647.8 654.6 L649 657.7 L650.2 660.6 L650.1 663.9 L650.8 667.4 L650.7 671 L650.2 675 L650.2 678.4 L649.8 682.5 L649 686.5 L648 690.3 L647.5 694 L646.2 697.7 L645.2 701.5 L644.5 705.5" stroke="#cf9f4c" stroke-width="3"/><path d="M638.2 634.6 L639.5 637.2 L641.4 639.9 L642.9 642.2 L644 645.1 L645.6 648.4 L646.8 651.4 L647.8 654.6 L649 657.7 L650.2 660.6 L650.1 663.9 L650.8 667.4 L650.7 671 L650.2 675 L650.2 678.4 L649.8 682.5 L649 686.5 L648 690.3 L647.5 694 L646.2 697.7 L645.2 701.5 L644.5 705.5" stroke="#e9c576" stroke-width="2.2"/><path d="M638.2 634.6 L639.5 637.2 L641.4 639.9 L642.9 642.2 L644 645.1 L645.6 648.4 L646.8 651.4 L647.8 654.6 L649 657.7 L650.2 660.6 L650.1 663.9 L650.8 667.4 L650.7 671 L650.2 675 L650.2 678.4 L649.8 682.5 L649 686.5 L648 690.3 L647.5 694 L646.2 697.7 L645.2 701.5 L644.5 705.5" stroke="#f7e2a4" stroke-width="1.1"/><path d="M638.2 634.6 L639.5 637.2 L641.4 639.9 L642.9 642.2 L644 645.1 L645.6 648.4 L646.8 651.4 L647.8 654.6 L649 657.7 L650.2 660.6 L650.1 663.9 L650.8 667.4 L650.7 671 L650.2 675 L650.2 678.4 L649.8 682.5 L649 686.5 L648 690.3 L647.5 694 L646.2 697.7 L645.2 701.5 L644.5 705.5" stroke="#b8843a" stroke-width="0.9" stroke-opacity="0.45" stroke-dasharray="0.8 3.9"/></g>
<g filter="url(#rb)" fill="none" stroke-linecap="round" stroke-linejoin="round"><path d="M747 649.8 L746.5 650.4 L745.6 651.4 L744.7 652.5 L745.8 653.4 L746.5 655 L747 656 L748.4 657.8 L749.2 659 L750.5 660.6 L751.8 662 L752.6 663.5 L753.9 665.2 L755.5 666.6 L756.9 667.4 L758.1 668.7 L757.7 671 L756.7 673.3 L756.2 675.6 L755.3 678.4 L754.4 681.6 L753.5 684.8 L752.5 688.3 L751.6 691.2 L750.5 694.5" stroke="#cf9f4c" stroke-width="2.8"/><path d="M747 649.8 L746.5 650.4 L745.6 651.4 L744.7 652.5 L745.8 653.4 L746.5 655 L747 656 L748.4 657.8 L749.2 659 L750.5 660.6 L751.8 662 L752.6 663.5 L753.9 665.2 L755.5 666.6 L756.9 667.4 L758.1 668.7 L757.7 671 L756.7 673.3 L756.2 675.6 L755.3 678.4 L754.4 681.6 L753.5 684.8 L752.5 688.3 L751.6 691.2 L750.5 694.5" stroke="#e9c576" stroke-width="2.1"/><path d="M747 649.8 L746.5 650.4 L745.6 651.4 L744.7 652.5 L745.8 653.4 L746.5 655 L747 656 L748.4 657.8 L749.2 659 L750.5 660.6 L751.8 662 L752.6 663.5 L753.9 665.2 L755.5 666.6 L756.9 667.4 L758.1 668.7 L757.7 671 L756.7 673.3 L756.2 675.6 L755.3 678.4 L754.4 681.6 L753.5 684.8 L752.5 688.3 L751.6 691.2 L750.5 694.5" stroke="#f7e2a4" stroke-width="1"/><path d="M747 649.8 L746.5 650.4 L745.6 651.4 L744.7 652.5 L745.8 653.4 L746.5 655 L747 656 L748.4 657.8 L749.2 659 L750.5 660.6 L751.8 662 L752.6 663.5 L753.9 665.2 L755.5 666.6 L756.9 667.4 L758.1 668.7 L757.7 671 L756.7 673.3 L756.2 675.6 L755.3 678.4 L754.4 681.6 L753.5 684.8 L752.5 688.3 L751.6 691.2 L750.5 694.5" stroke="#b8843a" stroke-width="0.8" stroke-opacity="0.45" stroke-dasharray="0.8 3.6"/></g>
<g filter="url(#rb)" fill="none" stroke-linecap="round" stroke-linejoin="round"><path d="M863.4 642.9 L862.8 645.3 L862.3 647.7 L861.8 650.2 L860.7 653 L859.6 655.7 L858.8 658.3 L856.9 660.5 L855.6 662.7 L854.2 665.2 L853.6 667.8 L852.9 670.9 L851.9 673.3 L851.9 676.6 L852.6 679.5 L852.6 682.5 L853 684.9 L854.2 687.3 L854.9 689.9 L856.4 690.7 L858.1 692.1 L860 692.9 L861.4 693.2 L863.1 694 L864.6 694" stroke="#cf9f4c" stroke-width="3"/><path d="M863.4 642.9 L862.8 645.3 L862.3 647.7 L861.8 650.2 L860.7 653 L859.6 655.7 L858.8 658.3 L856.9 660.5 L855.6 662.7 L854.2 665.2 L853.6 667.8 L852.9 670.9 L851.9 673.3 L851.9 676.6 L852.6 679.5 L852.6 682.5 L853 684.9 L854.2 687.3 L854.9 689.9 L856.4 690.7 L858.1 692.1 L860 692.9 L861.4 693.2 L863.1 694 L864.6 694" stroke="#e9c576" stroke-width="2.2"/><path d="M863.4 642.9 L862.8 645.3 L862.3 647.7 L861.8 650.2 L860.7 653 L859.6 655.7 L858.8 658.3 L856.9 660.5 L855.6 662.7 L854.2 665.2 L853.6 667.8 L852.9 670.9 L851.9 673.3 L851.9 676.6 L852.6 679.5 L852.6 682.5 L853 684.9 L854.2 687.3 L854.9 689.9 L856.4 690.7 L858.1 692.1 L860 692.9 L861.4 693.2 L863.1 694 L864.6 694" stroke="#f7e2a4" stroke-width="1.1"/><path d="M863.4 642.9 L862.8 645.3 L862.3 647.7 L861.8 650.2 L860.7 653 L859.6 655.7 L858.8 658.3 L856.9 660.5 L855.6 662.7 L854.2 665.2 L853.6 667.8 L852.9 670.9 L851.9 673.3 L851.9 676.6 L852.6 679.5 L852.6 682.5 L853 684.9 L854.2 687.3 L854.9 689.9 L856.4 690.7 L858.1 692.1 L860 692.9 L861.4 693.2 L863.1 694 L864.6 694" stroke="#b8843a" stroke-width="0.9" stroke-opacity="0.45" stroke-dasharray="0.8 3.9"/></g>
<g filter="url(#rb)" fill="none" stroke-linecap="round" stroke-linejoin="round"><path d="M858.8 659.5 L862.7 661.3 L863.4 664.1" stroke="#cf9f4c" stroke-width="1.5"/><path d="M858.8 659.5 L862.7 661.3 L863.4 664.1" stroke="#e9c576" stroke-width="1.1"/><path d="M858.8 659.5 L862.7 661.3 L863.4 664.1" stroke="#f7e2a4" stroke-width="0.5"/><path d="M858.8 659.5 L862.7 661.3 L863.4 664.1" stroke="#b8843a" stroke-width="0.4" stroke-opacity="0.45" stroke-dasharray="0.8 2"/></g>
<g filter="url(#rb)" fill="none" stroke-linecap="round" stroke-linejoin="round"><path d="M649.8 716.9 L648 717.5 L646.6 717.5 L644.5 718.1 L643.7 720.9 L642.6 723.2 L641.5 726.1 L640.2 729.9 L639.8 733.6 L638.7 737.7 L638.3 742.1 L638.2 747.2 L637.6 751.5 L638 756.1 L638.3 760.2 L639.2 764.2 L640.8 767.4 L642.1 771.1 L643.3 774.5 L646.3 776.6 L648.7 779.4 L651.4 781.4 L654.5 782.5 L657.2 784.1 L660.6 784.9 L662.1 786.4 L663.4 787.4 L665.2 788.4 L666.4 790.3 L666.9 791.6 L668.2 793.4" stroke="#cf9f4c" stroke-width="3.3"/><path d="M649.8 716.9 L648 717.5 L646.6 717.5 L644.5 718.1 L643.7 720.9 L642.6 723.2 L641.5 726.1 L640.2 729.9 L639.8 733.6 L638.7 737.7 L638.3 742.1 L638.2 747.2 L637.6 751.5 L638 756.1 L638.3 760.2 L639.2 764.2 L640.8 767.4 L642.1 771.1 L643.3 774.5 L646.3 776.6 L648.7 779.4 L651.4 781.4 L654.5 782.5 L657.2 784.1 L660.6 784.9 L662.1 786.4 L663.4 787.4 L665.2 788.4 L666.4 790.3 L666.9 791.6 L668.2 793.4" stroke="#e9c576" stroke-width="2.4"/><path d="M649.8 716.9 L648 717.5 L646.6 717.5 L644.5 718.1 L643.7 720.9 L642.6 723.2 L641.5 726.1 L640.2 729.9 L639.8 733.6 L638.7 737.7 L638.3 742.1 L638.2 747.2 L637.6 751.5 L638 756.1 L638.3 760.2 L639.2 764.2 L640.8 767.4 L642.1 771.1 L643.3 774.5 L646.3 776.6 L648.7 779.4 L651.4 781.4 L654.5 782.5 L657.2 784.1 L660.6 784.9 L662.1 786.4 L663.4 787.4 L665.2 788.4 L666.4 790.3 L666.9 791.6 L668.2 793.4" stroke="#f7e2a4" stroke-width="1.2"/><path d="M649.8 716.9 L648 717.5 L646.6 717.5 L644.5 718.1 L643.7 720.9 L642.6 723.2 L641.5 726.1 L640.2 729.9 L639.8 733.6 L638.7 737.7 L638.3 742.1 L638.2 747.2 L637.6 751.5 L638 756.1 L638.3 760.2 L639.2 764.2 L640.8 767.4 L642.1 771.1 L643.3 774.5 L646.3 776.6 L648.7 779.4 L651.4 781.4 L654.5 782.5 L657.2 784.1 L660.6 784.9 L662.1 786.4 L663.4 787.4 L665.2 788.4 L666.4 790.3 L666.9 791.6 L668.2 793.4" stroke="#b8843a" stroke-width="1" stroke-opacity="0.45" stroke-dasharray="0.8 4.3"/></g>
<g filter="url(#rb)" fill="none" stroke-linecap="round" stroke-linejoin="round"><path d="M747.5 721.1 L747.5 722.9 L747.8 724.2 L748.2 726.1 L747.4 728 L746.6 729.9 L745.9 731.9 L745.9 734.4 L746.5 737.1 L746.6 740 L747 742.9 L747.4 745.6 L747.5 748 L747.9 750.5 L748.9 753.5 L749.3 756.1 L749.9 758.5 L751.1 760.9 L751.6 763 L751 764.4 L750.5 766.4 L750.5 767.6 L751.1 769.7 L752 771.5 L752.8 773.4 L752 775.5 L751.3 777.1 L750.5 779.1 L749.4 780.5 L749.2 781.7 L748.2 783.3" stroke="#cf9f4c" stroke-width="3"/><path d="M747.5 721.1 L747.5 722.9 L747.8 724.2 L748.2 726.1 L747.4 728 L746.6 729.9 L745.9 731.9 L745.9 734.4 L746.5 737.1 L746.6 740 L747 742.9 L747.4 745.6 L747.5 748 L747.9 750.5 L748.9 753.5 L749.3 756.1 L749.9 758.5 L751.1 760.9 L751.6 763 L751 764.4 L750.5 766.4 L750.5 767.6 L751.1 769.7 L752 771.5 L752.8 773.4 L752 775.5 L751.3 777.1 L750.5 779.1 L749.4 780.5 L749.2 781.7 L748.2 783.3" stroke="#e9c576" stroke-width="2.2"/><path d="M747.5 721.1 L747.5 722.9 L747.8 724.2 L748.2 726.1 L747.4 728 L746.6 729.9 L745.9 731.9 L745.9 734.4 L746.5 737.1 L746.6 740 L747 742.9 L747.4 745.6 L747.5 748 L747.9 750.5 L748.9 753.5 L749.3 756.1 L749.9 758.5 L751.1 760.9 L751.6 763 L751 764.4 L750.5 766.4 L750.5 767.6 L751.1 769.7 L752 771.5 L752.8 773.4 L752 775.5 L751.3 777.1 L750.5 779.1 L749.4 780.5 L749.2 781.7 L748.2 783.3" stroke="#f7e2a4" stroke-width="1.1"/><path d="M747.5 721.1 L747.5 722.9 L747.8 724.2 L748.2 726.1 L747.4 728 L746.6 729.9 L745.9 731.9 L745.9 734.4 L746.5 737.1 L746.6 740 L747 742.9 L747.4 745.6 L747.5 748 L747.9 750.5 L748.9 753.5 L749.3 756.1 L749.9 758.5 L751.1 760.9 L751.6 763 L751 764.4 L750.5 766.4 L750.5 767.6 L751.1 769.7 L752 771.5 L752.8 773.4 L752 775.5 L751.3 777.1 L750.5 779.1 L749.4 780.5 L749.2 781.7 L748.2 783.3" stroke="#b8843a" stroke-width="0.9" stroke-opacity="0.45" stroke-dasharray="0.8 3.9"/></g>
<g filter="url(#rb)" fill="none" stroke-linecap="round" stroke-linejoin="round"><path d="M849.6 725.7 L850.5 728.3 L851.1 730.6 L851.9 733 L852.6 736 L853.3 738.2 L854.2 741.1 L854.4 742.9 L854.9 744.8 L855.3 746.9 L854.3 748.7 L853.7 750.8 L853 752.6 L854 754.3 L855.2 756.5 L856.5 758.4 L857.6 760.5 L859 762.2 L860 764.2 L859.3 766.6 L859.3 768.7 L858.8 771.1 L857.4 772.9 L856 775.1 L854.2 776.8 L853.6 779.8 L852.5 782.2 L851.9 784.9" stroke="#cf9f4c" stroke-width="3"/><path d="M849.6 725.7 L850.5 728.3 L851.1 730.6 L851.9 733 L852.6 736 L853.3 738.2 L854.2 741.1 L854.4 742.9 L854.9 744.8 L855.3 746.9 L854.3 748.7 L853.7 750.8 L853 752.6 L854 754.3 L855.2 756.5 L856.5 758.4 L857.6 760.5 L859 762.2 L860 764.2 L859.3 766.6 L859.3 768.7 L858.8 771.1 L857.4 772.9 L856 775.1 L854.2 776.8 L853.6 779.8 L852.5 782.2 L851.9 784.9" stroke="#e9c576" stroke-width="2.2"/><path d="M849.6 725.7 L850.5 728.3 L851.1 730.6 L851.9 733 L852.6 736 L853.3 738.2 L854.2 741.1 L854.4 742.9 L854.9 744.8 L855.3 746.9 L854.3 748.7 L853.7 750.8 L853 752.6 L854 754.3 L855.2 756.5 L856.5 758.4 L857.6 760.5 L859 762.2 L860 764.2 L859.3 766.6 L859.3 768.7 L858.8 771.1 L857.4 772.9 L856 775.1 L854.2 776.8 L853.6 779.8 L852.5 782.2 L851.9 784.9" stroke="#f7e2a4" stroke-width="1.1"/><path d="M849.6 725.7 L850.5 728.3 L851.1 730.6 L851.9 733 L852.6 736 L853.3 738.2 L854.2 741.1 L854.4 742.9 L854.9 744.8 L855.3 746.9 L854.3 748.7 L853.7 750.8 L853 752.6 L854 754.3 L855.2 756.5 L856.5 758.4 L857.6 760.5 L859 762.2 L860 764.2 L859.3 766.6 L859.3 768.7 L858.8 771.1 L857.4 772.9 L856 775.1 L854.2 776.8 L853.6 779.8 L852.5 782.2 L851.9 784.9" stroke="#b8843a" stroke-width="0.9" stroke-opacity="0.45" stroke-dasharray="0.8 3.9"/></g>
<g filter="url(#rb)" fill="none" stroke-linecap="round" stroke-linejoin="round"><path d="M853 746.9 L857.6 748 L859.5 753.8" stroke="#cf9f4c" stroke-width="2"/><path d="M853 746.9 L857.6 748 L859.5 753.8" stroke="#e9c576" stroke-width="1.5"/><path d="M853 746.9 L857.6 748 L859.5 753.8" stroke="#f7e2a4" stroke-width="0.7"/><path d="M853 746.9 L857.6 748 L859.5 753.8" stroke="#b8843a" stroke-width="0.6" stroke-opacity="0.45" stroke-dasharray="0.8 2.6"/></g>
<rect x="592.6" y="928" width="26" height="71.9" fill="#8fb944" stroke="#4f6a22" stroke-width="0.7"/>
<line x1="605.6" y1="928" x2="605.6" y2="924.8" stroke="#333" stroke-width="0.6" />
<line x1="603.4" y1="924.8" x2="607.8" y2="924.8" stroke="#333" stroke-width="0.6" />
<text x="605.6" y="923.6" font-size="8.2" class="b" text-anchor="middle">b</text>
<rect x="624.5" y="920.8" width="26" height="79.1" fill="#8fb944" stroke="#4f6a22" stroke-width="0.7"/>
<line x1="637.5" y1="920.8" x2="637.5" y2="918.9" stroke="#333" stroke-width="0.6" />
<line x1="635.3" y1="918.9" x2="639.7" y2="918.9" stroke="#333" stroke-width="0.6" />
<text x="637.5" y="917.7" font-size="8.2" class="b" text-anchor="middle">b</text>
<rect x="656.4" y="924.2" width="26.1" height="75.7" fill="#8fb944" stroke="#4f6a22" stroke-width="0.7"/>
<line x1="669.5" y1="924.2" x2="669.5" y2="922.6" stroke="#333" stroke-width="0.6" />
<line x1="667.2" y1="922.6" x2="671.7" y2="922.6" stroke="#333" stroke-width="0.6" />
<text x="669.5" y="921.4" font-size="8.2" class="b" text-anchor="middle">b</text>
<rect x="688.4" y="931.5" width="26" height="68.4" fill="#8fbde0" stroke="#3f5f7a" stroke-width="0.7"/>
<line x1="701.4" y1="931.5" x2="701.4" y2="928.3" stroke="#333" stroke-width="0.6" />
<line x1="699.2" y1="928.3" x2="703.6" y2="928.3" stroke="#333" stroke-width="0.6" />
<text x="701.4" y="927.1" font-size="8.2" class="b" text-anchor="middle">b</text>
<rect x="720.3" y="907.9" width="26" height="92" fill="#8fbde0" stroke="#3f5f7a" stroke-width="0.7"/>
<line x1="733.3" y1="907.9" x2="733.3" y2="901.2" stroke="#333" stroke-width="0.6" />
<line x1="731.1" y1="901.2" x2="735.5" y2="901.2" stroke="#333" stroke-width="0.6" />
<text x="733.3" y="900" font-size="8.2" class="b" text-anchor="middle">a</text>
<rect x="752.5" y="907.9" width="26" height="92" fill="#8fbde0" stroke="#3f5f7a" stroke-width="0.7"/>
<line x1="765.5" y1="907.9" x2="765.5" y2="902.8" stroke="#333" stroke-width="0.6" />
<line x1="763.3" y1="902.8" x2="767.7" y2="902.8" stroke="#333" stroke-width="0.6" />
<text x="765.5" y="901.6" font-size="8.2" class="b" text-anchor="middle">a</text>
<rect x="784.7" y="930.1" width="25.8" height="69.8" fill="#fdd98a" stroke="#7a6430" stroke-width="0.7"/>
<line x1="797.6" y1="930.1" x2="797.6" y2="928.5" stroke="#333" stroke-width="0.6" />
<line x1="795.4" y1="928.5" x2="799.8" y2="928.5" stroke="#333" stroke-width="0.6" />
<text x="797.6" y="927.3" font-size="8.2" class="b" text-anchor="middle">b</text>
<rect x="816.6" y="906" width="26.1" height="93.9" fill="#fdd98a" stroke="#7a6430" stroke-width="0.7"/>
<line x1="829.7" y1="906" x2="829.7" y2="902.5" stroke="#333" stroke-width="0.6" />
<line x1="827.5" y1="902.5" x2="831.9" y2="902.5" stroke="#333" stroke-width="0.6" />
<text x="829.7" y="901.3" font-size="8.2" class="b" text-anchor="middle">a</text>
<rect x="848.6" y="898.8" width="26" height="101.1" fill="#fdd98a" stroke="#7a6430" stroke-width="0.7"/>
<line x1="861.6" y1="898.8" x2="861.6" y2="894" stroke="#333" stroke-width="0.6" />
<line x1="859.4" y1="894" x2="863.8" y2="894" stroke="#333" stroke-width="0.6" />
<text x="861.6" y="892.8" font-size="8.2" class="b" text-anchor="middle">a</text>
<rect x="589.1" y="834.3" width="288.5" height="165.6" fill="none" stroke="#333" stroke-width="0.8"/>
<line x1="586.6" y1="999.9" x2="589.1" y2="999.9" stroke="#333" stroke-width="0.7" />
<text x="585.6" y="1002.9" font-size="9" class="b" text-anchor="end">0</text>
<line x1="587.6" y1="986.1" x2="589.1" y2="986.1" stroke="#333" stroke-width="0.6" />
<line x1="586.6" y1="972.3" x2="589.1" y2="972.3" stroke="#333" stroke-width="0.7" />
<text x="585.6" y="975.3" font-size="9" class="b" text-anchor="end">5</text>
<line x1="587.6" y1="958.5" x2="589.1" y2="958.5" stroke="#333" stroke-width="0.6" />
<line x1="586.6" y1="944.7" x2="589.1" y2="944.7" stroke="#333" stroke-width="0.7" />
<text x="585.6" y="947.7" font-size="9" class="b" text-anchor="end">10</text>
<line x1="587.6" y1="930.9" x2="589.1" y2="930.9" stroke="#333" stroke-width="0.6" />
<line x1="586.6" y1="917.1" x2="589.1" y2="917.1" stroke="#333" stroke-width="0.7" />
<text x="585.6" y="920.1" font-size="9" class="b" text-anchor="end">15</text>
<line x1="587.6" y1="903.3" x2="589.1" y2="903.3" stroke="#333" stroke-width="0.6" />
<line x1="586.6" y1="889.5" x2="589.1" y2="889.5" stroke="#333" stroke-width="0.7" />
<text x="585.6" y="892.5" font-size="9" class="b" text-anchor="end">20</text>
<line x1="587.6" y1="875.7" x2="589.1" y2="875.7" stroke="#333" stroke-width="0.6" />
<line x1="586.6" y1="861.9" x2="589.1" y2="861.9" stroke="#333" stroke-width="0.7" />
<text x="585.6" y="864.9" font-size="9" class="b" text-anchor="end">25</text>
<line x1="587.6" y1="848.1" x2="589.1" y2="848.1" stroke="#333" stroke-width="0.6" />
<line x1="586.6" y1="834.3" x2="589.1" y2="834.3" stroke="#333" stroke-width="0.7" />
<text x="585.6" y="837.3" font-size="9" class="b" text-anchor="end">30</text>
<line x1="605.6" y1="999.9" x2="605.6" y2="1002.4" stroke="#333" stroke-width="0.7" />
<text x="610.6" y="1009.9" font-size="8.6" class="b" text-anchor="end" transform="rotate(-45 610.6 1009.9)">C7d</text>
<line x1="637.5" y1="999.9" x2="637.5" y2="1002.4" stroke="#333" stroke-width="0.7" />
<text x="642.5" y="1009.9" font-size="8.6" class="b" text-anchor="end" transform="rotate(-45 642.5 1009.9)">C7d_R5d</text>
<line x1="669.5" y1="999.9" x2="669.5" y2="1002.4" stroke="#333" stroke-width="0.7" />
<text x="674.5" y="1009.9" font-size="8.6" class="b" text-anchor="end" transform="rotate(-45 674.5 1009.9)">C7d_R15d</text>
<line x1="701.4" y1="999.9" x2="701.4" y2="1002.4" stroke="#333" stroke-width="0.7" />
<text x="706.4" y="1009.9" font-size="8.6" class="b" text-anchor="end" transform="rotate(-45 706.4 1009.9)">W7d</text>
<line x1="733.3" y1="999.9" x2="733.3" y2="1002.4" stroke="#333" stroke-width="0.7" />
<text x="738.3" y="1009.9" font-size="8.6" class="b" text-anchor="end" transform="rotate(-45 738.3 1009.9)">W7d_R5d</text>
<line x1="765.5" y1="999.9" x2="765.5" y2="1002.4" stroke="#333" stroke-width="0.7" />
<text x="770.5" y="1009.9" font-size="8.6" class="b" text-anchor="end" transform="rotate(-45 770.5 1009.9)">W7d_R15d</text>
<line x1="797.6" y1="999.9" x2="797.6" y2="1002.4" stroke="#333" stroke-width="0.7" />
<text x="802.6" y="1009.9" font-size="8.6" class="b" text-anchor="end" transform="rotate(-45 802.6 1009.9)">ACC1d</text>
<line x1="829.7" y1="999.9" x2="829.7" y2="1002.4" stroke="#333" stroke-width="0.7" />
<text x="834.7" y="1009.9" font-size="8.6" class="b" text-anchor="end" transform="rotate(-45 834.7 1009.9)">ACC1d_R5d</text>
<line x1="861.6" y1="999.9" x2="861.6" y2="1002.4" stroke="#333" stroke-width="0.7" />
<text x="866.6" y="1009.9" font-size="8.6" class="b" text-anchor="end" transform="rotate(-45 866.6 1009.9)">ACC1d_R15d</text>
<text x="569" y="917.1" font-size="10.6" class="b" text-anchor="middle" transform="rotate(-90 569 917.1)">New Roots (No.)</text>
<rect x="795.4" y="839.7" width="16.1" height="8" fill="#8fb944" stroke="#4f6a22" stroke-width="0.6"/>
<text x="813.2" y="845.8" font-size="6.2" class="b">Control</text>
<rect x="795.4" y="849.6" width="16.1" height="8" fill="#8fbde0" stroke="#3f5f7a" stroke-width="0.6"/>
<text x="813.2" y="855.7" font-size="6.2" class="b">Waterlogging+Recovery</text>
<rect x="795.4" y="859.6" width="16.1" height="8" fill="#fdd98a" stroke="#7a6430" stroke-width="0.6"/>
<text x="813.2" y="865.7" font-size="6.2" class="b">ACC+Recovery</text>
</g>
<g>
<text x="896" y="571" font-size="7.6" class="a">(A)</text>
<path d="M928.2 594.8V688.9M932.3 602V688.9M936.4 609.4V688.9M940.5 635.8V688.9M944.6 606.3V688.9M948.7 622.2V688.9M952.8 605.7V688.9M956.9 620.7V688.9M961 634.9V688.9M965.1 649.2V688.9M969.2 607.3V688.9M973.3 624.7V688.9M977.4 645.6V688.9M981.5 610.9V688.9M985.6 601.7V688.9M989.7 621.1V688.9M993.8 642V688.9M997.9 636.7V688.9M1002 615.2V688.9M1006.1 608V688.9M1010.2 598.9V688.9M1014.3 604.5V688.9M1018.4 612.2V688.9M1022.5 644.3V688.9M1026.6 620.5V688.9M1030.7 626.2V688.9M1034.8 632.4V688.9M1038.9 637.3V688.9M1043 654V688.9M1047.1 631V688.9M1051.2 636.4V688.9M1055.3 641.9V688.9M1059.4 647.5V688.9M1063.5 653.5V688.9M1067.6 658.9V688.9M1071.7 666.8V688.9M1075.8 672.7V688.9M1079.9 682.2V688.9M1084 681.3V688.9M1088.1 658.4V688.9M1092.2 667.7V688.9M1096.3 676.2V688.9M1100.4 683.6V688.9M1104.5 643.4V688.9M1108.6 660V688.9M1112.7 614.1V688.9M1116.8 625V688.9M1120.9 637.3V688.9M1125 645.9V688.9M1129.1 612.3V688.9M1133.2 622.6V688.9M1137.3 634.4V688.9M1141.4 642.7V688.9M1145.5 661.4V688.9" stroke="#d9d9d9" stroke-width="0.35" fill="none"/>
<path d="M923.7 586.9V590.9M923.9 586.7V589.6M924 586.5V590.1M924.1 586.6V591.1M924.2 586.7V592.6M924.4 586.7V590.2M924.5 587V592.5M924.9 587.7V590M925 587.2V589.2M925.2 587.8V590M925.3 587.3V593.1M925.4 587.3V591M925.5 587.8V589.7M925.7 587.9V590M926.1 588V591.3M926.2 588.3V589.6M926.3 588.4V589.3M926.5 588.6V594.3M926.6 588.1V591.2M926.7 588.7V591.8M926.8 588.3V593.7M927.1 588.9V595M927.2 589V594.2M927.5 589.2V593.7M927.8 588.9V594.9M928.7 589.7V593.1M929.1 590.5V592.7M929.2 590.1V593.7M929.4 591.2V596.2M929.6 591.3V593.3M929.7 591.2V598.1M929.8 591.6V597.7M930.5 592.3V599.1M930.9 592.9V600.6M931 593.1V602.9M931.1 593V596.8M931.5 593.5V595.9M931.7 593.7V596.5M931.8 593.9V599.4M932 594.2V601.8M932.3 595V597.8M932.4 595.2V597.2M932.6 595.4V601.7M932.7 595.2V596.9M933 595.8V600.5M933.2 596.5V602M933.3 596.5V599.6M933.5 596.6V605.8M933.6 596.7V601.2M933.9 597.1V603M934 597.6V605.9M934.1 598.1V602.3M934.6 599.6V619.2M934.9 600.7V619.3M935.2 601.7V616M935.3 602.4V609.6M935.4 603.1V615.7M935.8 604.8V619.7M935.9 605.4V620.1M936.1 605.4V615.4M936.3 607V624M936.5 607.3V631.5M936.6 607.9V625.5M936.9 608.7V622.7M937 609.3V613.4M937.4 610.3V618.9M937.5 611.6V620.8M937.6 612V628.2M937.9 612.5V631M938.2 613.5V627.2M938.4 614.8V624.5M938.5 615.1V620.7M938.7 616V629M938.8 616.8V621.8M938.9 616.8V625.8M939.1 617.6V628.5M939.3 620.2V634.6M939.5 621.1V640M939.6 622.9V629.3M939.8 626V635.4M940.1 628.3V636.2M940.2 630.3V638.1M940.4 631.8V637.7M940.5 632.8V638.7M940.9 637V640.6M941 638.8V641.2M934 590.1V600.1M934.3 590.6V600.7M934.4 591.4V595.6M934.5 591.8V599.2M934.6 591.4V602M934.8 592V594.2M935 592.6V602.7M935.2 593.4V599.8M935.3 593.5V597M935.7 594.8V606.6M935.8 594.7V603.6M936.1 595.9V599.2M936.3 596.3V599.3M936.5 596.7V600.9M936.6 597V600M936.7 597.7V602M936.9 598V607.4M937.2 599.2V606.9M937.5 599.8V605M937.8 600V604M938 601.3V611.1M938.2 602V615.1M938.4 603.8V614.4M938.8 607.2V614.3M938.9 608.4V615M939.1 609.5V615.8M939.2 610.5V617.8M939.3 612.1V623.4M939.6 613.5V626M940.1 618.5V622.4M941.3 628.6V635.4M941.4 629.5V634.1M941.5 630.4V636M941.7 631.2V635.4M941.9 633.7V636.1M942.2 636V637.1M942.7 591.8V600.9M942.9 591.5V597.1M943.3 592.6V602.9M943.5 593.2V596M943.8 594.2V603.4M944 595.2V608.4M944.4 596.5V599.6M944.7 597.2V605.2M944.8 597V604.4M944.9 597.3V603.7M945.1 597.5V599.5M945.2 598.5V604.6M945.3 598.2V605.6M945.7 599.4V604.6M946 600.6V607.8M946.1 600.6V610.3M946.4 601.8V606.1M946.5 603.1V613.2M946.6 604.1V616M946.8 605V611M946.9 605.4V619.6M947 606.6V620.3M947.2 608V613.2M947.3 608.6V611.5M947.4 609.7V618.7M947.8 612.6V625M948.1 614.8V625.2M948.2 615.3V624.4M948.7 619.6V628.2M949 622V632.6M949.4 624.7V631.7M949.5 625.5V631.3M949.8 627.7V638.2M949.9 628.3V634.8M950 629.8V635.3M950.1 630.7V638M950.5 633.9V639.8M950.7 634.8V639.3M951.1 637.2V641M951.3 639.7V641M952.5 602.3V608.7M952.6 602.4V613.9M952.8 603.2V606.9M953.2 604.1V612.5M953.4 604.9V612.2M953.5 604.8V608.8M953.6 605.4V615.6M954 606.6V616.1M954.1 606.5V617M954.3 607.1V610.6M954.4 606.8V610.3M954.5 607.3V616M955.1 608.5V610.1M955.2 608.8V615M956 610.8V617.7M956.1 611.2V619.6M957.1 613.7V618.5M957.3 614.6V620.8M957.4 614.7V622.3M957.5 615.1V617.5M957.7 615.2V624.1M957.9 615.7V622.5M958 615.9V627.5M958.2 616.9V618.5M959.3 620.9V624.1M959.5 621V625.1M959.6 621.3V631.5M959.7 622.5V638.4M959.9 622.6V631.1M960 623.1V632.3M960.1 623.7V627.8M960.3 624.5V636M960.4 624.8V636.4M960.6 626V635.2M961 627.1V640.6M961.2 627.9V631M961.3 628.4V640.1M961.4 629.2V635.7M961.6 629.7V634M961.7 629.9V640.9M961.8 630.3V635.6M961.9 630.7V642.3M962.1 631.3V638.5M962.2 632.3V639.5M962.3 632.6V640.6M962.5 632.8V638.7M962.7 634.1V647.6M962.9 634.9V643.9M963.1 635.6V639.4M963.2 636.1V645.7M963.4 636.9V641.1M963.5 637V643.6M963.8 638.3V645.3M963.9 639.4V651M964.3 641.7V647M964.4 642.7V645.9M964.7 643.8V651M964.9 645.2V651.4M965.2 647.1V653.8M965.3 648V651.1M965.6 649.4V653.8M965.7 650.5V654.6M965.8 651.1V654.7M966 651.9V654.7M966.1 652.5V655M966.2 653.9V655.4M958.6 618.6V621.9M959.2 619.1V623M961 618.7V624.7M961.3 619V620.8M961.9 618.9V621.5M962.5 618.8V620.5M962.8 619.1V623.3M963.4 619.5V622.7M963.7 619.6V624.2M964.3 619.1V620.9M964.6 619.6V623.9M964.9 621.6V623.3M966.1 640.9V643.4M966.7 650.6V652.9M967.2 594.9V603.6M967.4 595.1V599.5M967.5 596V603.1M967.6 596.4V598.6M967.9 597.4V602.2M968.3 598.5V607.7M968.4 598.4V603.8M968.8 600V607.2M969.1 600.7V604.7M969.7 602.5V610.2M969.8 602.9V610.4M970 603.6V605.6M970.4 604.4V609.4M970.5 605.4V610.6M971 606.5V617.4M971.4 607.7V613.3M971.5 608.2V612.3M971.7 608.4V613.8M971.8 608.6V614.7M971.9 609.3V618.9M972.2 610.3V620M972.3 611.6V616.9M972.4 612.2V618.2M972.6 612.9V620.2M972.8 613.9V621.8M973.1 615.3V629.3M973.2 615.9V620.9M973.9 619V633.5M974.1 620.7V624.9M974.6 623.1V638.7M974.8 623.9V632.2M975.2 625.2V634.5M975.3 625.9V635.6M975.6 627.5V635M975.7 627.8V634.3M975.8 629.1V635.9M975.9 629.7V635.2M976.1 630.5V634.5M976.3 632.5V642.7M976.5 633.5V644.7M976.6 635.5V645.4M976.7 636.6V642M977.1 639.8V648.5M977.2 641.1V649.8M977.4 642.3V649.1M977.5 644V648.6M977.6 645.4V648.7M978 648.8V650.1M974.3 608.4V613.3M974.6 608.9V612M974.9 608.7V611M975.2 608.8V610.8M975.5 608.8V610.2M975.8 609.1V612.4M976.1 608.7V611.2M976.4 608.6V617.3M977.3 608.9V610.8M977.6 609.5V611.4M977.9 609.4V613.8M978.2 609.3V613.1M978.5 609.4V614.1M978.8 611.1V616.5M979.7 627.5V631.7M980.8 590.8V596.7M980.9 591.3V598.4M981 593.1V602.9M981.2 593.7V599.7M981.6 596.9V607.1M981.7 598.6V604M981.9 600.9V607.1M982.5 604.7V613.4M982.6 605.9V615.4M982.7 607.5V616.1M982.9 608.2V618.8M983 609.6V613.9M983.1 610.1V621.5M983.2 611.3V619.1M983.4 613.2V625.4M983.5 614.4V625.1M983.6 615.6V627.4M983.9 618.4V623.2M984 620.5V631M984.4 624.7V632.9M984.7 627.4V631.3M984.8 628.8V634.5M984.9 630.3V635M985.1 631.8V634.8M985.2 633.1V634.7M986.3 592.3V601.3M986.7 593.7V598.2M986.8 594.1V607.3M987.2 595.7V605.6M987.4 596.1V603.8M987.5 597.2V605.9M987.9 599V601.9M988 599.6V611.2M988.3 600.4V610.5M988.4 601V606M988.7 601.7V607.4M988.9 603.1V612.4M989.2 603.9V610.6M989.3 604.6V619.7M989.4 605.3V610.7M989.6 605.8V620.4M990 607.4V618.3M990.1 608.3V621.3M990.2 608.4V619.3M990.3 609.2V613.8M990.6 611.1V622.5M990.7 612.4V625.3M990.9 613.4V626.1M991 614.2V623.8M991.1 615.7V619.4M991.3 616.5V625.5M991.4 618V631.3M991.6 620V627.5M991.8 621.6V634.3M991.9 622.7V631M992 623.2V632.6M992.3 626.1V634.3M992.4 626.7V643.6M992.7 629.3V635.1M992.8 629.9V637.1M992.9 631V642.5M993.1 632.7V635.4M993.7 638.7V648.2M993.9 639.4V651.8M994.2 644V650.5M994.4 644.9V649.3M994.5 646.1V649.7M994.6 647.4V655.1M994.9 649.8V655M995 651.5V655.6M995.2 653V656.6M995.3 653.7V656.8M995.5 656.4V657.7M994.9 609.1V616M995.5 609.8V611.7M997.3 618V619M997.6 625.2V630.9M998.9 594V600.9M999 594.4V603.6M999.1 595V600.4M999.3 595.7V606.3M999.9 599V610.4M1000 599.4V614.9M1000.2 600V603M1000.6 602.2V612.8M1000.7 602.8V615.4M1000.8 603.4V613.7M1001.1 604.6V608.4M1001.2 605.1V611M1001.3 605.5V617.5M1001.5 607.2V618.9M1001.7 609.7V614.8M1002 612.5V620.2M1002.1 613.5V617.3M1002.5 617.3V627.2M1002.8 620.4V628.1M1002.9 621.3V629.7M1003.4 626.5V630.6M1003.6 628.1V630.8M1004.8 594.2V603.4M1005 596.6V607M1005.2 597.2V601M1005.3 598.7V603.3M1006.1 605.4V616M1006.2 606.6V618.6M1006.5 608.8V618.1M1006.6 609.8V617.2M1006.7 610.3V622.4M1006.9 611.7V620.8M1007 614.2V616M1007.5 622.9V627.5M1007.6 624.5V631.7M1007.8 626.8V631M1008 630.9V636.8M1008.3 635.6V638.9M1008.4 637.7V638.8M1009 595.2V599.6M1009.2 595.3V599.4M1009.4 595.5V600.1M1009.5 595.7V598.3M1009.7 595.6V598.1M1009.9 596.5V601.9M1010.1 596.3V600.5M1010.6 597V600.3M1011 597.6V599.3M1011.6 597.5V602.1M1011.8 598.4V599.9M1012 598.4V602.8M1012.4 599V600.7M1012.7 599.2V601.9M1012.8 598.8V602.3M1013.1 599.1V602.5M1013.3 599.8V603.5M1013.4 599.6V604.7M1013.7 599.7V603.1M1014 600.4V602.5M1014.1 600.2V602.3M1014.2 600.2V604.7M1014.5 601V602M1014.6 601V603.5M1014.9 600.8V606.9M1015.1 601.1V603.8M1015.3 601.9V607.7M1015.4 601.6V608.4M1015.5 602.2V604.8M1015.7 602.7V609.3M1015.9 602.7V612.8M1016 603.6V607.6M1016.3 603.6V613.7M1016.8 604.7V609.2M1017.1 605.2V609.4M1017.2 605.9V608.8M1017.3 606.2V612.4M1017.7 607V610.8M1017.9 606.6V610.3M1018 607V613.7M1018.4 607.9V611.2M1018.6 607.6V611.6M1018.8 607.9V611.5M1019 607.9V610.2M1019.2 608.1V612.3M1019.3 608.8V610.3M1019.6 608.7V612.1M1019.7 609.1V611.5M1019.9 608.8V615.2M1020.6 609.2V610.6M1020.7 609.8V612.4M1020.9 610.1V611.7M1021.1 609.7V612.7M1021.4 610.6V613.2M1021.5 610.2V612.9M1021.6 610.8V612.5M1021.8 610.8V613.8M1022.2 610.8V615.4M1022.5 611.7V613M1022.7 611.4V614.9M1022.9 612V615.7M1023.1 612V614.7M1023.2 612V615.5M1023.3 612.3V618.5M1023.6 612.4V614M1023.7 612.7V617.2M1024 612.8V614M1024.1 612.5V616.8M1024.2 612.4V615M1024.4 612.6V615.7M1024.6 612.8V616.9M1024.8 613.4V617.5M1024.9 613.5V618.1M1025.4 613.9V616M1025.8 613.9V619.8M1025.9 614.5V618M1026.3 614.6V618M1026.4 614.4V618.2M1026.6 615V617.4M1027.1 615.5V620.1M1027.2 615.7V620.9M1027.4 615.9V621.7M1027.5 615.7V622.3M1027.6 616.2V620.2M1027.7 616.4V621.1M1028 616.3V619.9M1028.1 617V619.4M1028.4 616.8V622M1028.5 616.9V623.4M1028.9 617.9V622.8M1029 618.2V621.3M1029.2 618.2V621.6M1029.3 617.9V621.6M1029.8 618.4V620.9M1030 619.2V623.6M1030.1 619.3V623.1M1030.2 619.5V621.4M1030.3 619.1V625.6M1030.5 619.8V622.2M1030.6 619.9V626.9M1030.9 619.9V623.5M1031 620.3V626.3M1031.1 620V624.8M1031.4 620.8V625.8M1031.5 621.2V624.3M1031.6 620.7V624.7M1031.8 621.2V626.9M1031.9 621.5V624.8M1032 621.4V624.5M1032.2 621.5V625.6M1032.3 622V623.6M1032.7 621.9V625.3M1033.2 622.5V630M1033.5 623.4V627.4M1033.6 623.2V627.6M1034 624.1V629.6M1034.1 623.7V628M1034.2 624V626.5M1034.8 624.6V628.3M1034.9 624.5V630.3M1035 624.8V631.5M1035.2 624.9V631M1035.8 625.8V629.6M1035.9 626.2V631.4M1036.2 626.3V631.8M1036.3 626.6V631.5M1036.5 626.8V637.8M1036.6 626.6V636.7M1036.7 627.6V633.3M1037.5 629.9V644.1M1037.6 630.4V634.7M1037.8 630.8V639.4M1037.9 630.9V645.7M1038 631.7V649.9M1038.4 632.9V645.1M1038.7 634.2V636.5M1038.9 635.2V652.4M1039.1 635.2V651.6M1039.2 635.5V648.9M1039.7 637.8V644.2M1040 638.3V649M1040.1 639.1V653M1040.2 639.3V652.8M1040.4 640.1V650.1M1040.6 640.7V645.7M1040.7 640.8V653.3M1040.9 641.7V656.4M1041 641.8V645.7M1041.1 642.6V649.9M1041.3 642.6V649.5M1041.5 643.7V650M1041.7 644.1V650.7M1041.9 645.6V647.8M1042.2 646.9V652.8M1042.3 647.2V652.2M1042.4 648.1V658.2M1042.6 648.7V662.1M1043.1 651.7V661.1M1043.5 654.4V658.4M1043.9 656.1V664M1044 656.8V664.1M1044.4 658.6V665.3M1044.6 660.4V665.6M1044.8 660.9V667.3M1045 662.7V666.1M1045.6 665.5V667.9M1045.7 666.4V667.6M1018.4 609.4V617.1M1019.3 613.4V617.1M1019.6 614.7V619.4M1020.2 617.4V623.4M1020.5 618.5V620.9M1021.1 621.6V626.3M1021.4 625V627.6M1021.7 629.3V632.9M1022.3 639V641.1M1022.6 643.2V647M1047.1 628.7V633.3M1047.2 628.8V630.3M1047.4 628.9V631M1047.6 629.1V630.7M1047.8 629.1V632.1M1047.9 629.4V633.2M1048.2 630V632.2M1048.3 629.7V631.1M1048.5 630.1V631.4M1048.7 630.3V634.8M1048.8 630.3V634.4M1048.9 630.4V633.7M1049.1 630.7V635.7M1049.2 630.6V635.3M1049.3 630.4V634M1049.6 631.3V635.7M1049.8 631.4V634.6M1050.2 631.4V634.8M1050.4 631.8V633.6M1050.5 632V635M1050.8 632.4V635.5M1051.1 632.6V637M1051.5 632.9V634.1M1051.7 633.3V634.6M1051.8 633.2V636M1051.9 633V636.4M1052.1 633.1V638.2M1052.2 633.3V635.4M1052.3 633.8V636.5M1052.6 633.8V636.8M1052.7 633.7V637.9M1052.8 633.8V640.5M1053.1 634.1V638.9M1053.5 634.4V638.2M1054.1 635.4V639.8M1054.4 635.8V637.2M1054.7 636V639.4M1054.9 636.3V638.4M1055 636.2V637.2M1055.4 636.4V641.5M1055.8 636.6V641.6M1056.1 637.3V642.8M1056.3 637.8V640.1M1056.5 637.2V640.6M1056.6 637.3V642.4M1056.7 637.9V639.4M1056.9 637.8V642.9M1057.1 637.8V641.4M1057.3 638.7V640.6M1057.4 638.2V643.8M1057.6 638.8V640.6M1057.8 638.9V641.4M1057.9 638.9V644.3M1058.2 639.5V644.3M1058.4 639.3V645.1M1058.9 640.5V642.1M1059.1 640.3V643.3M1059.2 640.2V646.6M1059.3 640.5V644.2M1059.5 641.2V645.4M1059.6 640.7V646.3M1059.7 641.3V646.6M1059.9 641.2V643M1060.1 641.8V645.8M1060.6 642.1V645.7M1060.9 642.6V645.1M1061 642.4V645.9M1061.2 643V644.4M1061.3 643.2V647.1M1061.4 643.1V648.5M1061.7 643.4V647.5M1061.8 643.6V646.7M1062.1 643.5V649.2M1062.2 643.7V646M1062.6 644.4V650.1M1063.4 645.3V649.7M1063.5 645.3V650.6M1063.6 645.5V646.9M1063.8 645.8V651.2M1063.9 645.9V651.5M1064 645.6V648.7M1064.3 646.3V651.2M1064.5 646.7V651.2M1064.7 647.1V650.8M1064.8 647V649M1064.9 646.7V649.2M1065.3 647.6V653M1065.6 647.8V654.8M1066 648.6V651.5M1066.1 648.9V654.5M1066.2 649.4V653.3M1066.4 649.5V654.7M1066.5 649.9V658.9M1066.6 650.3V657.7M1066.9 651.1V655.2M1067 650.7V656.9M1067.3 651.7V660.6M1067.4 651.6V660.3M1067.5 652.4V657.2M1067.7 652.6V656.8M1067.9 652.9V661M1068 653.1V657.4M1068.2 653.3V665.8M1068.4 653.7V658.4M1068.6 654.6V661.4M1068.8 654.7V663.3M1069 654.8V664.6M1069.5 656.1V661.9M1069.7 656.8V661.8M1070.3 658.1V661.4M1070.4 658.4V669.1M1070.5 658.8V668.8M1070.8 658.8V666.1M1070.9 659.6V667.3M1071 659.7V667.5M1071.3 660.4V666.7M1071.4 660.5V664.9M1071.7 661.2V668.9M1071.9 661.8V675.5M1072.1 661.6V671.1M1072.2 661.9V672M1072.3 662.6V669.9M1072.5 662.7V668.2M1072.6 663.2V668.3M1072.7 663.1V671.1M1072.9 663.1V666.6M1073.1 663.8V667.7M1073.4 664.4V668.3M1073.9 665.9V673.7M1074.3 666.5V669.9M1074.4 667.2V668.8M1074.5 667.5V678.2M1074.7 667.7V674M1074.8 668.2V677.6M1074.9 668.2V673.3M1075.2 668.6V679.1M1075.5 669.6V676.1M1075.6 669.5V678.5M1075.7 669.7V672.4M1075.8 670.5V675M1076.1 671.1V673.3M1076.4 671.1V680.3M1076.8 672.6V681.5M1076.9 672.8V682.9M1077.1 673V681.8M1077.3 673.6V677M1077.7 674.4V677.6M1077.9 675.2V679.5M1078.3 676V685.5M1078.4 676.5V680.1M1078.8 677V682.6M1079.5 678.7V683.4M1079.6 678.7V684.4M1080 680.3V684M1080.1 680.3V685.8M1080.8 681.6V685.2M1080.9 682.4V685.6M1081 682.5V686.1M1081.2 682.8V686.7M1081.4 683.5V686.2M1081.6 683.3V687.2M1081.7 684.3V686.6M1081.8 684.2V687M1082 684.6V687.2M1082.1 684.8V687.1M1082.2 684.9V687.4M1082.3 685.1V687.3M1082.5 685.7V687.2M1082.6 686.2V687.4M1082.7 686.1V687.4M1085.1 649.7V651.7M1085.5 650.5V654.6M1085.6 650.3V652.5M1086.1 650.4V652.5M1086.6 651.7V654.3M1087 651.9V653.7M1087.2 652.1V656.1M1087.3 651.9V654.4M1087.6 652V654.2M1087.7 652.7V653.6M1087.8 652.6V654.9M1087.9 652.8V653.6M1088.2 652.6V655.2M1088.3 653.3V655.6M1088.6 653.6V657.2M1089 653.9V659.6M1089.4 654.8V661.8M1089.5 655.2V657.5M1089.6 655.4V663.9M1089.9 655.6V659.4M1090 656V663.6M1090.3 656.3V666.6M1090.4 656.6V662.7M1090.8 657.8V666.2M1090.9 658.3V663.4M1091.1 658.4V660.1M1091.2 658.9V664M1091.5 659.4V665.9M1091.6 659V663.8M1091.8 659.9V663.4M1092 660.1V663.7M1092.1 660.2V668.7M1092.2 661.1V664.7M1092.6 661.8V669.1M1092.8 661.6V666.5M1092.9 662.2V669.6M1093.3 663V665.7M1093.4 663.1V668.5M1094.2 664.7V668.7M1094.3 665.6V672.9M1094.4 665.4V674.4M1094.6 665.8V671.6M1094.7 666.4V672.2M1095 666.5V674.6M1095.1 667.2V677.4M1095.2 667.7V675M1095.4 667.4V677.4M1095.5 667.9V679.8M1095.6 668.3V676.5M1095.7 669V673.7M1095.9 668.7V678.5M1096 669.5V674.2M1096.1 670V682.1M1096.3 670.5V675.2M1096.5 670.8V675M1096.9 672V676.6M1097.2 672.7V679M1097.7 673.7V680.7M1097.8 674.1V677.9M1098 674.5V677.2M1098.2 675V683.1M1098.6 676.3V681.5M1099.1 677.4V683.2M1099.3 678.1V683.7M1099.4 678.7V682.6M1099.5 678.4V682.9M1099.8 679.4V683.8M1099.9 679.6V683.1M1100.2 680.9V683.8M1100.3 680.7V684.3M1100.7 682V684M1100.9 682.5V684.3M1101.2 683.3V684.3M1077.6 668.8V672.6M1077.9 668.7V673.5M1078.2 668.3V671.9M1079.1 668.8V671M1080 669.1V672.8M1080.6 669V671.2M1080.9 668.7V670.7M1081.2 668.7V671M1081.5 668.9V672.6M1082.1 668.6V670.5M1082.4 669.1V671.5M1083.6 672.9V676.6M1083.9 677.5V679.1M1101.2 614.8V625.3M1101.4 615.2V622.3M1101.6 616.4V620.2M1101.8 617.2V624.4M1101.9 618.1V621.5M1102 618.4V625.1M1102.3 620.3V626.4M1102.4 621.1V629M1102.8 623V627.7M1102.9 623.3V627M1103.1 623.8V633.4M1103.6 626.8V633.2M1103.7 627.6V636.8M1103.8 628.5V637.3M1104 628.9V639.1M1104.1 629.7V640.7M1104.4 631.3V638M1104.6 632.5V641.5M1104.7 632.8V642M1104.9 633.6V639.3M1105 634V642.9M1105.1 635.4V647M1105.3 636.1V641.9M1105.4 636.2V642.8M1105.9 640.1V648.6M1106 640.5V651.4M1106.7 645.3V646.6M1107 646.6V654M1107.2 648.1V655.2M1107.5 650.3V657.3M1107.7 651.5V657.2M1107.9 652.8V659M1108.3 655V658.7M1108.5 656.5V663.1M1108.6 657.5V663.4M1108.8 658.1V663.8M1108.9 659.3V662.9M1109.2 660.9V663.5M1109.3 661.9V663.5M1109.6 602.6V609.9M1109.8 603.5V610.3M1110 603.8V612.1M1110.1 603.7V608M1110.2 604.2V612.3M1110.4 604.6V608.8M1110.5 604.2V614.8M1110.6 605.2V606.8M1110.7 605.4V611.1M1111 605.6V609.4M1111.1 605.6V612.9M1111.4 606.7V610.2M1111.7 607.1V611.7M1111.8 607.6V613.9M1112 607.9V611.5M1112.3 608.6V614.5M1112.4 608.6V613.8M1112.7 609.5V616M1113 610.2V620.8M1113.1 610.4V611.7M1113.6 611.5V618.1M1113.9 612.1V620.6M1114 612.4V614.7M1114.1 612.1V622.2M1114.4 613.4V620.2M1114.5 613.5V620.5M1115 614.5V618.1M1115.3 615V619.7M1115.8 616.1V623.2M1116.1 616.8V628.5M1116.2 617.1V621.2M1116.3 617.2V625.2M1116.5 617.8V625.6M1116.6 618.5V624.7M1116.7 618.2V626.6M1117.2 619.8V622.6M1117.4 620.5V624.2M1117.5 620.8V637.7M1117.6 621.2V632.1M1117.8 621.1V631.7M1117.9 621.5V627.6M1118.2 622V632.4M1118.3 622.8V628.9M1118.5 622.9V633.9M1119.1 624.6V635.6M1119.5 625.5V633.7M1119.6 626V634.1M1120.1 627.6V633.3M1120.2 627.6V637.7M1120.5 628.2V631.7M1120.8 628.7V636.1M1120.9 629.4V637.7M1121 629.2V635.9M1121.1 629.9V635.4M1121.5 630.6V632.7M1121.7 631V641.7M1122.1 631.9V640.8M1122.2 632.5V636.3M1122.4 633V636.2M1122.6 633.5V645.4M1123 635.1V646.1M1123.1 635.4V646.4M1123.5 637.3V649M1123.9 638.6V645.6M1124.1 640V649.9M1124.3 640.3V649.5M1124.7 641.7V653.7M1124.8 642.2V657.5M1124.9 643V653.6M1125 643.3V653.9M1125.2 644.1V656.3M1125.4 645V656.8M1125.7 646.4V654.9M1125.8 647V655.8M1126 647.2V658M1126.1 647.5V658M1126.3 649.1V656.7M1126.7 650.8V657.6M1126.9 651.5V658.2M1127 651.7V655.2M1127.3 652.4V657.8M1127.4 653.1V659.9M1127.5 653.6V660.1M1127.6 654.3V658.8M1127.8 655V660.7M1128 656.1V660.5M1128.3 657.2V660.2M1128.4 657.2V659.8M1128.8 659.2V660.7M1127.9 607.6V612.5M1128 607.5V614.1M1128.4 608.4V615.2M1128.6 608.5V614.5M1128.7 609.4V616M1128.8 609.5V613M1129 609.4V614.3M1129.1 610.1V612.2M1129.2 609.9V615.5M1129.5 610.5V619.3M1129.6 610.5V617M1129.7 611.2V616.2M1129.9 611.1V615.3M1130 611.4V616.2M1130.1 611.7V616.3M1130.4 612.6V619.2M1130.6 612.7V616.8M1130.8 613.3V621M1130.9 613.2V618.4M1131 613.5V617.2M1131.2 613.7V617.1M1131.3 614.2V624.3M1131.4 614.2V620.6M1131.8 615.6V622.3M1131.9 615.9V618.9M1132.1 615.8V618.9M1132.2 616.4V620.9M1132.5 616.2V623.8M1132.6 616.5V623.9M1132.7 616.8V625.8M1132.9 617.5V624.1M1133 617.7V620.1M1133.1 618.1V626.7M1133.2 617.7V624.9M1133.4 618.1V622.7M1133.5 618.2V623.8M1133.8 618.9V624.5M1134 619.7V630.4M1134.2 619.6V624.9M1134.5 620.6V626.2M1134.9 621.8V630M1135.1 621.9V627.2M1135.2 622V630.7M1135.8 623.1V629M1136 623.6V626.5M1136.4 624.2V627.4M1136.5 624.6V630.5M1136.6 624.6V628.7M1136.9 625.7V631.6M1137.1 625.8V630.7M1137.3 625.8V633.1M1137.4 626.5V632.2M1137.5 626.9V634.5M1138.1 627.6V631.7M1138.3 627.9V634M1138.4 628.6V638.6M1138.6 628.4V635.7M1138.7 629.2V633.7M1138.8 629V636.2M1139 629.9V636.9M1139.2 629.7V644.9M1139.4 630.8V646.2M1139.5 631.2V642.3M1139.6 631.7V638.9M1139.9 633.3V640.4M1140 634.1V641.9M1140.1 634.4V648.5M1140.3 634.9V644.9M1140.4 635.8V644.7M1140.5 636V644.4M1140.7 636.3V644.7M1140.9 637.5V643M1141 638.3V649.3M1141.3 639.5V649.7M1141.7 641.5V648.5M1142 642.7V654.8M1142.1 643.1V649.8M1142.3 644.7V653M1142.5 644.6V650.6M1142.6 645.7V655.5M1142.7 646.5V659.9M1142.9 646.6V658.5M1143.1 647.9V654M1143.3 648.1V659.5M1143.5 649.4V654.9M1143.8 650.8V661.5M1144.4 653.6V661.7M1144.8 656V660.7M1144.9 656.3V661.8M1145.1 656.5V662.9M1145.2 657.7V662.1M1145.6 659.4V663.1M1145.9 660.7V663.2M1146.1 661.4V663.6M1138.2 629.7V633.9M1138.5 630V634.8M1138.8 630.4V632M1139.4 630.3V632.1M1140.6 631V634.2M1140.9 630.7V633.9M1141.8 631.2V633.7M1142.1 631.8V637.6M1142.4 631.9V635.1M1143 631.9V636.6M1144.5 643.4V645.8M1144.8 646.9V654.7M1145.1 650V651.9M1145.4 652.7V656M1145.7 655.8V657.4M1146.4 601.4V602.7M1146.7 611.4V619.7M1147.3 632.2V635.7M925.5 588.8V592.2M925.8 589.1V592.4M926.2 589.8V594M926.5 590.2V592.2M926.9 590.7V592.4M927.2 591.4V594.7M928.2 592.1V595.5M928.6 593V596.1M929.2 593.8V596.3M929.6 594.1V597.6M929.9 594.5V596.9M930.3 595.3V598.6M930.6 596.2V599M931.6 597.5V600.1M932 597.7V600.4M932.3 598.6V600.1M932.6 598.9V600.3M930.4 594.4V601.3M930.8 595.3V602.4M932.1 599.1V603M932.8 600.7V603.1M933.8 603.7V612M934.2 604.7V611.4M934.5 605.8V610.9M934.9 607.3V611.9M935.2 607.8V612.7M935.9 610.5V612.1M934.7 593.7V598.1M935 595.7V601.9M936.4 603.8V608.2M936.8 599.5V604.3M937.9 610.3V617M938.2 613V615.5M938.5 615.7V620.5M938.9 618.7V621.6M943.3 595.3V597.7M943.7 596.9V604.2M944.4 601.7V611M945 606.8V609.4M945.4 608.4V614.9M945.7 610.3V615.2M945.7 601.6V610.9M946 605V610.8M946.4 608.8V612.5M946.7 612.3V614.9M948.1 624.6V628M953.8 607.8V614.2M954.2 608.3V614.4M954.8 611.3V623.1M955.5 613V620.9M956.9 617.8V628M957.2 619.4V625.3M957.6 620.2V626.6M957.9 621.6V626.9M958.2 622.7V626.8M958.9 625V628.1M957.5 616.5V624.5M958.2 619.3V629.9M958.5 621V631.5M958.9 622.9V629.1M959.9 627.3V636.6M960.9 632.1V637.5M961.2 633.8V637.9M962.3 637.9V639.2M968.2 599.8V607.1M968.9 603.5V610.4M969.2 604.9V612.6M969.9 608.3V614M970.6 611.2V617.2M970.9 612.4V615M971.6 615.8V619.7M972 617.4V619.7M971.1 609.1V620.3M971.4 610.9V618.8M971.8 612.9V624.3M972.5 616.9V625.7M972.8 619.6V626.6M973.5 623.2V628.4M974.2 626.9V630.5M981 596.1V603M981.3 605.1V615.2M981.7 610.8V615.5M982.2 606V611.3M982.6 616.3V621.8M987.1 598.1V606.7M987.8 603.8V606.4M988.1 606.3V614.3M988.8 611.8V616.1M989.1 613.9V623.5M989.8 619.2V623.4M990.2 621.9V624.2M989.9 611.7V618.2M990.6 620.7V630.6M990.9 624.6V629.9M991.6 631.6V639M991.9 634.4V639.1M992.3 638.2V640.2M998.9 599.2V604.9M999.2 602V607.6M999.9 607.5V609.4M1000.1 602.2V606.6M1001.1 615.8V619.7M1013.7 601V606M1014 601.9V605.1M1014.7 602.6V604.7M1015.4 602.9V606.1M1016.1 604.4V606.2M1016.4 604.9V607M1016.7 604.7V607.2M1017.1 605.6V607M1017.8 606.2V607.9M1019.5 608.4V612.4M1019.8 608.3V611.8M1020.1 608.9V610.7M1020.5 609.2V611.8M1021.2 610.5V614.3M1021.5 610.8V614.6M1021.8 611.2V615.3M1022.2 611.5V614.7M1022.5 612.2V614M1024.2 613.7V616M1025.6 615.6V616.9M1025.9 615.9V619.6M1026.6 617V620.8M1026.9 617.4V622M1027.6 618.8V620.4M1028.6 619.8V622.1M1029 620.4V621.4M1029.3 620.5V622.7M1029.7 620.9V622.8M1022.7 612.5V615.5M1023 613.3V615.6M1024 614.4V618.3M1025 615.9V620.2M1025.4 616.1V618.9M1025.7 616.7V619.9M1026.4 617.5V622.2M1026.7 618.6V620.9M1027.1 618.4V621M1027.4 619.1V624.2M1027.8 620V620.8M1028.1 620.4V625M1028.4 620.4V624.5M1029.1 621.7V622.5M1029.8 622.4V624.3M1030.1 623.1V628.3M1030.5 623.4V627.3M1030.8 624.2V628.4M1031.2 624.2V628.5M1031.5 625.1V627.9M1031.8 625.5V630.6M1032.2 626V630.3M1032.5 626.4V629.4M1033.2 627.3V629.5M1033.5 627.8V631.4M1034.2 629.4V633M1034.6 629.6V633.2M1034.9 630.4V634.2M1035.6 631.2V632.9M1036.9 633.1V634.4M1050.8 633.4V635.3M1052.5 636V638.3M1052.9 636.3V637.8M1053.2 637.1V637.8M1053.6 636.9V641.6M1053.9 637.3V638.5M1054.2 638.1V640.2M1054.6 638.2V641.7M1055.3 639.7V641.7M1055.6 640.3V641.1M1057 642V647.2M1057.3 642.4V647.1M1058 643.4V644.8M1058.3 643.9V644.6M1058.7 644.1V648.4M1059 644.8V646.4M1059.3 645.2V647M1059.7 645.2V649.3M1060 646.1V647.5M1060.7 646.7V651M1061.4 648.2V653.8M1062.1 649.2V653.2M1062.7 650.2V655.3M1063.1 650.7V655.4M1063.4 650.7V655.7M1064.1 651.8V656.5M1064.8 653.2V656.3M1065.8 654.7V657.5M1066.1 655.2V657.9M1066.8 656.2V657.7M1060.2 642.9V644.9M1060.9 643.9V648.5M1061.6 645.3V652.7M1061.9 646.3V647.9M1062.6 647.5V648.5M1063 647.9V653.2M1063.6 648.9V654.3M1064.3 650.2V655.8M1064.7 651.4V655.7M1065 651.9V655.6M1065.3 652.6V656M1066.4 654.2V659.4M1066.7 654.9V660.3M1067 655.7V657.8M1067.4 655.6V658M1067.7 656.2V661.4M1068.1 657V661.4M1068.4 658.2V662.7M1068.7 658.6V662.5M1069.1 659.6V662.6M1069.4 659.9V665.8M1069.8 660.5V662.6M1070.1 661.3V665.3M1070.4 661.9V667.9M1070.8 662.9V668.1M1071.1 663.2V666.3M1071.5 664V666.2M1071.8 664.3V668.5M1072.5 665.6V670M1072.8 666.6V670.2M1073.2 667.5V669.8M1073.8 668.4V670M1074.2 669V670.2M1086.8 653.2V658.9M1087.2 653.6V659.3M1088.2 656.5V659.1M1088.5 656.7V664.5M1088.9 657.4V662M1089.2 658.5V660.4M1089.5 659.2V663.6M1089.9 660V665M1090.6 661V663.6M1091.2 662.6V668.6M1091.6 663.5V668.8M1091.9 664.5V667.5M1092.3 665.5V668.5M1092.6 666.4V668.9M1092.9 667V668.6M1093.3 667.3V668.9M1090.8 659.4V662.5M1091.5 660.9V662.5M1091.8 661.9V664.8M1092.5 663.4V675.2M1092.8 664.6V668.7M1093.2 665.6V671.8M1094.2 667.9V675M1094.5 669.1V674.9M1095.6 672V674.8M1096.2 673.9V675.6M1102.2 623.6V631.9M1102.6 626.4V629.1M1102.9 629.1V635.1M1103.6 634.1V640.7M1103.9 637V640.9M1104.1 631.9V648.1M1104.4 635V644.3M1104.8 638.4V642.5M1105.5 643.6V650.1M1106.1 649.2V652.5M1111.5 608.5V613.3M1112.1 610.2V617.3M1112.5 611V615M1113.2 612.6V620.9M1113.5 613.5V620M1113.8 614.5V620.2M1115.9 620.3V627.6M1116.2 620.9V623.9M1117.2 623.3V628.2M1118.3 626.6V630.7M1118.6 627.1V629.7M1118.9 628.2V631M1119.3 629.4V631.9M1116.6 620.2V625.1M1117.3 622.2V632.6M1117.6 623.1V628M1118.6 627.2V631.1M1119 628.2V633.2M1119.3 629V637.2M1119.7 630.3V635.1M1120.3 632.8V637.9M1120.7 633.6V644.4M1121.4 636.7V643M1122.4 639.7V643.8M1122.7 640.8V645M1123.1 642.2V644.8M1123.7 645V645.6M1129.8 612.7V622.3M1130.2 613.5V620M1130.5 614.4V618.3M1130.8 615.1V623.6M1131.2 616.1V618.9M1131.5 616.2V619.4M1132.2 618V623.7M1132.5 618.5V625.1M1132.9 619.1V625.7M1133.6 620.5V625.5M1133.9 621.3V627.2M1134.6 622.9V629M1134.9 623.8V630.9M1135.3 625.1V629.3M1135.6 625.4V629.5M1135.9 626.4V630.1M1136.3 627.3V631.2M1137.3 629.6V631.6M1137.6 630.1V631.5M1135 623.3V633.7M1135.7 626.2V633M1136 627.2V635.8M1137.1 630.9V641.4M1137.4 632.5V644.6M1137.7 633.3V637M1138.1 634.6V641.8M1138.4 635.9V643.7M1139.4 639.3V645.6M1140.1 642.2V646.8M1140.5 643.2V646.8M1140.8 644.2V647M1141.1 645.4V647.3" stroke="#000" stroke-width="0.36" fill="none"/>
<path d="M924.6 587.1V592.8M924.8 586.8V589.9M925.8 587.8V595.7M925.9 587.7V591.9M927.4 588.7V599.5M927.9 589.6V591.9M928 589.3V597.7M928.1 589.3V592.2M928.3 589.7V593.6M928.4 589.3V596.8M928.5 589.4V591.9M928.8 589.6V594.2M928.9 589.8V597.7M930.1 591.7V597.9M930.2 591.6V597.9M931.3 593.5V599.9M932.8 595.9V599.3M933.1 595.6V608.9M934.3 598.1V608.4M934.5 599.7V609.4M934.8 600.1V615.4M935 601.7V604.8M935.7 603.8V617.6M937.1 610.1V620.1M938 613.4V629.7M939.2 618.6V635.5M940 627V642M940.8 635.4V640.4M941.1 640.3V641.4M934.1 590.6V597.2M934.9 592.4V597.2M935.4 594.1V608.6M935.6 594.3V611.1M936.2 596V599.3M937 598.5V619M937.1 598.6V601.9M937.4 599.6V608M937.9 600.4V609.2M938.3 603.1V611.8M938.5 605V617M938.7 606.2V612.8M940.4 620.5V627.8M940.6 622.8V637.3M940.8 624V636.9M940.9 625.3V632.3M941 626V633.2M941.1 627.4V632.5M941.8 632.4V636.3M942.1 634.6V637.2M942.6 591.2V599.7M943 591.8V602.9M943.1 592.5V602.8M943.6 593.8V596.7M944.2 595.2V600.8M944.3 596V603.9M945.5 599.3V604.8M945.6 599.1V604.5M946.2 601V607.1M947.5 610.7V627M947.7 611.4V619M947.9 613.8V621.4M948.6 618.6V626.7M948.8 620.7V634.2M949.1 622.7V629M949.6 626.7V635.5M950.4 632.2V642.2M950.9 636.3V641.9M952.7 602.8V608.1M953 603.3V607.9M953.1 603.8V614.7M953.9 606.2V609.4M954.7 607.6V616.7M954.8 608.1V620.4M954.9 608.1V619.5M955.3 609.5V612.3M955.4 609.7V615.7M955.6 609.7V616.5M955.7 610V618M955.8 610.4V620.9M956.2 611.7V613.7M956.5 612.1V619.9M956.6 612.7V623.8M956.7 613.2V619M956.9 613.5V622.5M957 613.4V623.9M958.6 617.2V624.4M959 618.8V637.5M959.1 619.9V641M959.2 620V637.2M960.9 627.2V630.8M963 635.5V644.7M964 639.6V657.1M964.5 643.1V657.7M964.8 644.4V655.3M965.5 648.5V653.9M959.8 618.9V630.5M960.1 618.8V637.1M960.4 618.5V621.1M960.7 618.6V622.7M961.6 618.9V621.2M962.2 619.2V622.3M964 619.2V623.1M965.5 631.4V635.6M967.8 597.1V601.3M968 597.2V609.3M968.7 599.7V604.2M968.9 600.4V603.3M969.2 601.4V604.3M969.4 602.2V613.9M969.6 602.1V612.7M970.1 604.1V606.8M970.2 604.3V615.5M970.6 605.1V612M970.7 605.6V611.2M971.3 607.2V613.9M972 610.2V624.5M973 614.4V623.4M973.3 616.7V631.5M973.5 617.3V633.3M973.6 617.8V624.9M973.7 618.3V623.4M974 620V624.4M974.3 621.4V629.1M974.4 621.8V638.7M974.5 622.3V632.2M975 625.2V641.9M975.4 627.2V634M976.2 631.4V635.6M977 639.1V652M977.8 646.4V650.5M977.9 647.4V650.9M974 608.6V618.4M979.1 616.2V618.8M979.4 622.3V631.4M980 633.6V635M981.3 594.9V605.2M981.4 596V604.9M984.2 621.3V631.7M984.3 623.3V631.7M986.4 593V609.5M987 594.7V607.2M987.1 595.6V603.9M987.7 597.9V611.4M988.1 599.8V617.8M988.5 601.7V608M988.8 602.6V617.8M989 603.5V615.7M989.8 606.7V616.3M990.5 609.6V622.2M991.5 619.2V628.3M992.2 624.8V638.2M992.6 628.4V644.7M993.2 633.7V638.2M993.5 636V652M994 640.7V655.4M994.1 642.5V645.8M995.4 655.3V658M993.1 609.3V614.9M993.4 609.5V616.3M993.7 608.8V612.1M994.3 609.1V618M994.6 609.1V613.7M995.2 609.1V619.9M996.1 609.8V614.8M996.4 609.4V616.1M996.7 609.7V613M997 609.7V612.8M997.9 633.1V635.8M998.2 591.2V600.9M998.4 591.9V601.1M999.4 596.6V607M999.7 598V606.4M1001.6 608.3V620.6M1001.9 611.4V620.9M1002.6 618.8V627.6M1003 622.5V632M1003.7 628.8V631.1M1004.9 594.8V603.6M1005.4 599.9V610.6M1005.7 601.7V617.8M1005.8 602.6V605.6M1006 604.3V613M1007.9 628.8V637.4M1008.2 633.2V638.2M1009.3 595.9V598.2M1009.8 596.3V599M1010.2 596.2V601.1M1010.3 596.9V603.4M1010.7 596.6V599.4M1010.8 596.7V603.6M1011.1 597.1V604.7M1011.2 597.8V604M1011.9 598.2V606.6M1012.3 598.4V603.2M1012.5 598.4V600.4M1012.9 599.5V604.8M1013.2 599.7V600.5M1013.8 600.3V603.3M1014.4 600.6V602.1M1014.7 601.2V607.9M1016.2 603.8V606.2M1016.6 604.5V619M1017 605.5V610.2M1018.1 607.4V609.6M1018.5 608.1V611M1019.8 608.8V615.6M1020.2 609.2V613.1M1020.3 609.6V611.6M1021 609.7V614.8M1021.2 610.3V611.4M1021.9 611.1V614.3M1022 610.7V613.1M1022.3 610.8V612.9M1022.4 611.3V618M1022.8 611.6V613.6M1023.8 612.6V616.8M1024.5 613V619.2M1025 613.5V618.2M1025.1 613.4V619.3M1025.3 613.4V621.6M1025.5 614V615.5M1025.7 613.7V620.4M1026.1 614.1V618.4M1026.2 614.3V619.6M1026.7 615.4V620.5M1028.8 617.8V624.3M1029.4 618.2V623.9M1029.7 618.4V622.1M1031.3 620.4V625.6M1032.9 622.9V623.8M1033.1 623V627.3M1034.6 624.2V631.6M1035.4 625.3V630.3M1035.5 625.9V627.9M1036.8 627.8V634.3M1037 627.9V640.6M1037.2 628.8V638.3M1038.1 632.4V635.3M1039.8 637.5V659.8M1040.5 640.3V649.5M1041.4 643V647.9M1042 646.3V664.8M1042.7 649.5V655.9M1042.8 650.2V662.8M1043 651V656M1043.2 652.9V663.2M1043.3 653V664.6M1043.7 655V667.8M1044.1 657.6V666M1044.3 658V665.5M1044.5 659.5V667.2M1044.9 661.7V668.1M1045.2 662.9V668.1M1045.3 663.7V667.2M1045.4 664.7V667.6M1018.7 610.7V617.4M1019.9 616.4V618.5M1020.8 620.5V623.9M1022 634.4V637.8M1022.9 648V650M1023.2 652.1V653.8M1047 628.5V634.1M1048 629.4V634.5M1048.4 629.6V632.7M1049.5 631.3V635.4M1049.7 631V636.5M1050 631.5V633.9M1050.1 631.8V634.5M1050.6 631.9V637.2M1050.9 632.3V637.1M1051.3 632.5V637.9M1051.4 632.9V636.3M1052.4 634.1V636.3M1053 633.8V639.8M1053.2 634.5V637.5M1053.4 634.6V636.9M1053.6 634.7V638.2M1053.9 635.1V641.9M1054 634.9V638.5M1054.3 635.2V639.6M1054.5 635.9V637.2M1055.3 636.9V641.6M1055.6 637V640.4M1056 636.8V638.8M1056.2 637.3V642.1M1057 638.2V640.4M1057.5 638.9V642.5M1058 638.9V645.8M1058.6 639.5V644M1058.8 640.5V641.5M1060 641.2V647.2M1060.2 641.5V648.9M1060.4 642V647.9M1060.5 641.9V648.1M1060.8 642.2V649.9M1061.5 643V646.2M1062.3 644.2V652M1062.5 644.1V650.2M1062.8 644.3V651.5M1063 645.2V650.8M1063.1 645.2V650.6M1063.2 644.9V649M1064.1 646.2V648.2M1064.4 646.3V650.1M1065.1 647.1V653.2M1065.2 646.9V652.2M1065.4 647.4V655.7M1065.7 648.2V657M1066.7 650.7V657.8M1067.8 652.5V659.1M1068.3 653.8V663.9M1068.7 654.9V661.5M1069.2 655.5V661.9M1069.3 655.8V664.5M1069.6 656.6V668M1070 657.2V668.2M1070.1 657.6V664.2M1071.6 660.5V672.3M1071.8 661.4V671.3M1073 663.4V670.4M1073.5 665.2V667.9M1073.6 664.8V674.8M1074 666.3V672.2M1074.2 666.5V677.5M1075.3 669.2V673.8M1076 670.3V683.9M1077 673.3V684.8M1077.4 674.3V686.5M1077.5 674.2V676.7M1077.8 675.1V686.2M1078.1 675.5V682.8M1078.6 676.4V684.1M1078.7 676.8V685.1M1079 677.6V686.1M1079.7 679.1V684.7M1079.9 679.9V685.3M1080.3 680.8V687.7M1080.4 680.6V686.8M1080.7 681.5V687.8M1081.3 682.7V688.2M1084.8 649.3V656.2M1085 649.5V651M1085.3 650.3V654M1086 651V656.6M1086.3 650.9V653.6M1086.4 651.1V655.1M1086.5 650.9V656.5M1086.8 651.3V653.6M1086.9 651.3V655M1087.4 652V657.2M1088.1 652.5V655.3M1088.5 653V656.3M1088.7 653.7V660.8M1088.9 653.2V656M1089.1 654.3V660.2M1089.2 654.2V657.1M1089.8 655.4V661.2M1090.2 656.2V672M1090.5 656.9V665.4M1090.7 657.6V678.4M1091.3 658.9V668.8M1091.7 659.6V671.3M1092.4 660.8V669.1M1092.5 661.4V669.5M1093 662.5V670.2M1093.7 664.1V666.5M1093.9 664.4V669.7M1094.1 665.1V668.1M1096.4 670.5V677M1096.7 671.3V681.9M1096.8 671.8V682M1097 671.9V681M1097.6 673.8V680M1098.1 675.2V682.5M1098.7 677V681.9M1099 677.7V684M1100 680.1V684.4M1100.4 681.1V684.7M1100.6 681.5V684.7M1078.5 668.8V670.7M1079.4 668.8V671.3M1079.7 668.7V671.4M1080.3 669V670.9M1081.8 669V671.8M1083 668.6V680.4M1101.5 616V621.2M1102.1 619V625.3M1102.5 621V627M1103.2 624.6V634.8M1103.4 625.9V635.1M1104.2 630V639.5M1104.5 631.5V647M1105.5 637.4V643.3M1105.7 638V642.4M1105.8 639.3V652.4M1106.2 641.6V650.8M1106.3 642.6V649.7M1106.6 644.4V647.9M1106.8 645.4V653.9M1107.1 647.8V651.7M1107.3 649.4V661.4M1107.6 650.9V660.5M1108 653.1V662.3M1108.1 653.9V660.4M1109 659.9V664.3M1109.4 662.5V663.9M1111.3 606.6V617.5M1111.5 606.7V613.3M1111.9 607.4V610.7M1112.2 608.2V615.7M1112.8 609.7V618.6M1113.2 610.7V614.6M1114.3 613V616M1114.6 613.8V619.8M1114.8 613.6V616.5M1114.9 614V621.5M1115.2 614.7V625.9M1115.6 615.5V624.4M1115.7 615.5V625.4M1115.9 616.5V628.7M1116.9 618.9V622.7M1117 619.3V631.6M1117.1 619.8V622M1118 621.9V636.1M1118.7 623.4V633.6M1118.8 623.8V626.9M1118.9 624.4V629.1M1119.8 626.8V639M1120 626.8V636M1121.8 631.8V638.3M1123.2 635.8V646.6M1123.4 636.6V645.6M1123.6 637.2V652.3M1124 639V645M1124.4 641.2V651.7M1125.3 644.7V658.1M1126.2 648.8V661M1127.1 652.3V662.3M1127.9 655.6V660.4M1128.2 656.4V661.1M1128.6 657.9V660.6M1128.7 658.4V660.6M1128.2 607.9V612.2M1128.3 607.8V617.3M1130.5 612.9V621.3M1131.6 615.1V621M1131.7 614.9V619.9M1132.3 616.5V620.8M1133.6 618.7V631.5M1133.9 619.7V621.4M1134.3 620.1V623.2M1135.5 622.8V624.2M1135.6 622.4V629.6M1136.1 624.1V631M1136.2 624V630.6M1136.8 625.4V629.5M1137.8 627.2V630.4M1137.9 627.2V630.8M1138.2 627.8V639.6M1139.1 629.9V641.6M1141.4 640.4V652M1141.6 641.2V658.4M1141.8 641.7V650.4M1142.2 644V652.2M1143.4 649.2V658.2M1143.9 651.7V664.1M1144 651.9V661.8M1144.6 654.6V662.2M1144.7 655.5V661.8M1145.3 657.8V664.3M1145.5 658.5V663M1145.7 659.6V664M1146 661.4V663.7M1146.2 662.5V664M1139.1 630.4V636.4M1140 630.8V633.9M1140.3 630.5V634.3M1141.5 631.5V633.8M1142.7 631.9V634.2M1143.3 632.3V636.5M1143.9 637.6V642.7M1144.2 640.5V643.8M1147 621.4V624.9M927.5 591.4V595.3M928.9 593.5V597M930.1 593.1V603.2M931.8 597.9V602.1M933.2 602.3V612M935.5 608.9V612.5M935.7 600.1V611.1M936.7 606.1V612.1M937 608.1V611.5M937.4 610V611.6M937.5 606.5V615M944 599.8V602.4M944.7 604.5V610M946.1 612.8V616.3M947.4 618.8V626.5M947.7 621.7V626.6M954.5 609.5V614M956.5 616.9V630M958.6 623.7V628.7M959.3 626.6V628.1M957.8 618.2V623.2M959.2 624.4V631.9M959.5 625.6V632.4M960.6 630.2V638.4M961.6 634.7V639.6M968.6 601.9V611.8M969.6 606V618.7M970.3 609.8V617.7M971.3 614.2V619.6M972.3 618.8V620.3M973.1 620.8V630M974.5 629.2V631M989.6 608V615.2M990.2 616.3V625.6M991.3 627.7V632.3M998.6 595.3V604.4M1000.4 608.1V622.2M1013.3 601V604M1014.4 601.9V606M1015.7 603.9V605.8M1018.1 606.9V609.7M1018.4 606.9V608.6M1020.8 609.6V614.5M1023.2 612.4V616.8M1023.9 613.7V616.9M1024.6 614.7V619.4M1024.9 614.7V620.9M1026.3 617.1V620M1027.3 617.7V622.1M1028.3 619.3V622.5M1030 621.2V622.9M1023.3 613.6V616.9M1023.7 614.1V621.5M1024.4 614.8V619M1024.7 615.2V617M1026.1 617V618.4M1029.5 622V625.1M1032.9 626.9V629.8M1035.2 630.6V632.8M1035.9 631.5V634.1M1051.2 634V638.4M1051.5 634.3V637.1M1054.9 639.1V643.4M1056.3 641.1V644.8M1057.6 642.8V644.5M1060.4 646.5V647.8M1062.4 649.5V657M1063.8 651.4V656.4M1064.4 652.6V657.3M1065.1 653.4V657M1065.5 654.2V657M1067.5 657.1V658.1M1060.6 643.7V646.4M1062.3 646.8V657M1064 649.6V651.3M1066 653.7V659.1M1072.1 665V670.2M1087.5 654.9V661.9M1090.2 660.7V666.5M1091.1 659.9V666.3M1092.2 663.1V667.1M1093.5 665.8V672.6M1093.9 667.2V671.7M1095.9 672.7V675.9M1101.9 620.6V627.8M1104.3 639.3V643.7M1105.1 641.1V646.1M1105.8 646.7V651.8M1114.5 616.2V620.7M1114.9 617.2V621.6M1115.2 618.2V628.3M1115.5 619.1V624.7M1117.9 625.3V631.3M1116.9 621.3V632.1M1118 624.2V632.6M1120 631.5V646.5M1121 634.9V637.8M1121.7 637.5V646.4M1122 638.3V645.2M1123.4 643.1V645.5M1136.6 628.2V631.6M1137 628.9V631.2M1135.4 625.1V631.1M1138.8 637.1V642.1M1139.1 638.3V645.2" stroke="#000" stroke-width="0.3" stroke-opacity="0.75" fill="none"/>
<path d="M927 588.7V592M927.6 589V590.9M929.3 590.7V598.1M930 591.3V602M930.4 592V607.8M930.6 592.2V596.4M930.7 592.9V598M931.4 593.3V600.1M931.9 594.6V598.5M932.2 594.6V605.7M933.7 597V623M934.4 598.9V628.9M935.6 603.3V618.9M936.2 606.4V624.2M936.7 608.1V634.5M937.2 610V633.8M937.8 611.9V628.4M938.3 614.2V630.5M939.7 624V629.5M940.6 634.2V644.4M935.9 595.1V608.9M937.6 599.8V614.1M939.5 612.5V629.4M939.7 614.8V636.1M939.8 616.4V620.3M940 617.2V628.3M940.2 619.3V624.6M940.5 621.6V635.1M943.4 593.5V599.2M943.9 595V610.5M944.6 596.6V604.6M945.9 600.2V613.8M948.3 616.7V632.9M948.5 617.4V622.5M949.2 623.4V631.7M950.3 631.6V642.9M950.8 635.7V641.9M951.2 638.5V642.2M953.8 605.4V613.2M956.4 611.8V624.5M957.8 615.2V623.6M958.3 616.6V631.8M958.4 617.6V622.7M958.7 617.7V628.5M958.8 618.7V624.4M960.5 625.7V642.7M960.8 626V633.2M962.6 634V649M963.6 637.5V653.8M964.2 640.4V657M965.1 646.3V655.2M966.4 654.6V655.9M958.9 618.9V622.3M959.5 618.8V622.6M963.1 619.1V622.2M965.2 626.9V630.7M965.8 635.9V639.2M966.4 646V651.3M968.1 598V603.4M968.5 599.3V607.2M969.3 601.2V609M970.9 606.3V612.5M971.1 607V613.2M972.7 613V636.2M974.9 623.9V645.6M976.9 637.5V653.1M976.7 609V611.3M977 609.2V612.7M981.8 599.6V611.7M982.1 601.9V606.5M982.2 602.6V610.6M982.3 604.1V608.3M983.8 617V634.5M984.5 626.1V629.5M986.6 593.3V604M987.6 597.3V615.2M989.7 606.4V622.1M993.3 634.4V644.5M993.6 637.2V655.8M994.8 648.6V658.4M994 609V616.3M995.8 609.7V613.8M998.5 592.4V599.9M998.6 592.7V600.9M998.7 593.4V603.3M999.5 596.9V609.9M999.8 598.1V612.9M1000.3 600.8V615.1M1000.4 601.4V617.9M1001 603.4V607.5M1002.3 614.8V629.3M1002.4 616.3V631.1M1003.2 624V631.5M1003.3 625.2V633.1M1005.6 600.6V606M1006.3 607V615.2M1007.1 616.6V633.3M1007.3 618.2V627.5M1007.4 620.6V631.5M1008.9 595.5V603.3M1010.5 596.9V603.3M1011.4 597.6V601.6M1011.5 597.7V600.5M1012.1 598.6V600.9M1013.6 600.1V601.2M1015 601.5V611.6M1015.8 602.5V613.6M1016.4 604V617.1M1016.7 604.8V626.3M1017.5 606.2V611.6M1017.6 606.6V620M1018.3 607.9V620.2M1018.9 608.2V616.5M1019.4 608.5V612.6M1020.1 608.9V613.6M1020.5 609.3V610.8M1023.5 611.7V617.2M1026.8 615V618.5M1027 615.4V620M1027.9 616.2V624.9M1028.3 616.6V623M1028.7 617.1V619.6M1029.6 618.8V624M1030.7 620.2V625M1032.4 621.7V623.8M1032.6 622.4V630.8M1032.8 622.3V627M1033.3 622.6V627.2M1033.7 623.5V629.7M1033.9 623.3V629.4M1034.4 623.9V631.1M1034.5 624.6V630.3M1035.3 625.7V631.9M1035.7 625.5V629.5M1036.1 626.6V632.7M1037.1 628.6V655.7M1037.4 629.3V647.4M1038.3 632.7V657.5M1038.5 633.7V649M1038.8 634.2V646.1M1039.3 636.5V643.2M1039.4 636.7V652.5M1039.6 636.8V652M1041.8 645V662.3M1043.6 654.8V672M1045.8 666.6V668.3M1018.1 608.6V611M1019 612.7V619.2M1046.9 628.5V633.2M1047.5 629.4V633.4M1051 632.4V635.2M1053.7 635.2V639.3M1054.8 636.4V637.7M1055.2 636.5V639.2M1055.7 636.8V643M1058.3 639.5V646.7M1058.7 639.8V645.4M1061.9 643.7V651.6M1062.7 644.2V649.3M1065.8 648.9V663.3M1067.1 651.5V665M1069.1 655.4V674.2M1069.9 656.7V671.9M1070.6 659.1V671.9M1071.2 659.8V665.9M1073.2 664V671.4M1073.8 665.6V670.8M1075.1 668.5V679.5M1076.2 671.4V686.3M1076.5 671.9V685.2M1076.6 671.9V678.1M1078.2 675.5V679.7M1079.1 677.9V690.3M1079.2 678.4V688.3M1079.4 678.7V686.8M1080.5 681.2V689.7M1085.2 649.5V652.9M1085.7 650.8V655.7M1085.9 650.5V655M1093.1 663.1V679.7M1093.5 663.2V672.1M1093.8 663.8V675.4M1094.8 666V669.2M1097.3 672.8V685M1097.4 673.2V682.9M1098.3 675.9V685.1M1098.5 675.9V683.7M1098.9 677.4V686.8M1099.6 679.1V684.2M1100.8 682.2V684.8M1101.1 683V684.8M1078.8 668.8V670.7M1082.7 668.9V671.4M1083.3 668.6V671M1102.7 622.1V631M1103.3 625.2V636.2M1106.4 643.7V659.6M1108.4 655.7V663.3M1109.4 602.4V619.6M1109.7 603.1V615.7M1110.9 605.2V608.1M1112.6 609V623.3M1113.3 610.6V615.7M1113.5 611.3V616.2M1113.7 611.9V623.7M1115.4 615.1V621.7M1118.4 623.2V633.8M1119.2 625.1V628.3M1119.3 624.9V636.6M1119.7 626.3V644.7M1120.4 627.8V637.8M1120.6 628.7V631.4M1121.3 630.3V642.9M1121.4 630.7V634.7M1121.9 632.3V641.1M1122.3 632.8V646.3M1122.7 634.2V656.3M1122.8 634.2V645.9M1123.7 638.4V650.2M1124.5 641.3V654.4M1125.6 646V649.8M1126.5 649.7V659.6M1126.6 650.1V657.9M1129.3 610.4V615.8M1130.3 611.8V616.4M1134.4 620.7V631.6M1134.7 621V632.1M1134.8 621.2V629.9M1135.3 622.6V638.2M1135.7 622.8V637.1M1137 625.4V634.8M1137.7 626.8V637.6M1139.7 632.9V653.2M1140.8 637.1V651M1141.2 638.9V656.7M1143 647.4V662.6M1143.6 650.3V664.8M1144.2 652.3V665M1144.3 653.7V665.7M1146.4 662.9V664.2M1139.7 630.2V640.1M1141.2 631.2V636.2M1143.6 634.7V637.2M927.9 592.2V595.4M930.9 596.3V599.2M931.3 596.7V600.6M931.1 596.1V604.3M931.5 597.2V604.2M932.5 599.7V608.6M933.5 603.1V616.9M936.2 611.5V613.1M935.3 597.7V607M936 602.1V606.6M937.2 603.1V609.2M939.2 622V623.1M946.4 614.9V616.7M947.1 615.4V624.9M955.2 612.5V622.6M955.9 614.3V624.9M956.2 615.8V624M960.2 628.6V635.1M961.9 636.4V640M972.1 614.7V621.8M973.8 625.3V630.6M982.9 621.2V625.2M987.4 601V609.6M988.5 609.5V618.5M989.5 616.8V625.3M999.6 605.2V610.4M1000.7 612.2V616.2M1013 600.8V605.6M1015 602.7V605.6M1017.4 606V609.1M1018.8 607.4V611.7M1019.1 607.6V611.8M1022.9 611.9V615.1M1023.5 613.1V617.5M1025.2 615V619.2M1028 619.1V620.2M1028.8 620.8V623.8M1033.9 628.4V631.6M1036.3 632.4V635M1036.6 632.8V634.8M1051.9 634.7V639.7M1052.2 635.1V638.4M1055.9 640.3V646.6M1056.6 641.2V645.9M1061 647.5V654.7M1061.7 648.2V652.4M1066.5 655.3V657.2M1067.2 656.6V658.2M1061.3 644.7V650.2M1063.3 648.2V652M1065.7 653V655.5M1073.5 668.1V670.7M1086.5 652.3V661.3M1087.8 655.5V667.3M1090.9 661.9V667M1094.9 670.1V677.5M1095.2 670.9V676M1096.6 674.2V676M1103.3 632.1V640.5M1104.6 641.9V643.7M1106.5 651.6V653.3M1111.8 609.4V611.9M1112.8 611.9V621.1M1114.2 615.4V622.1M1116.6 622.1V627.5M1116.9 622.4V631.5M1117.6 624.8V630.5M1119.6 630.3V632.2M1118.3 625.4V636.2M1131.9 617.1V625.5M1133.2 620.4V627.5M1134.2 622.6V633.8M1134.7 622.5V635.5M1136.4 628.2V636.5M1136.7 629.7V643M1139.8 640.5V646" stroke="#000" stroke-width="0.25" stroke-opacity="0.5" fill="none"/>
<path d="M923.7 586.9V615.4M924.2 587.2V621.6M925 587.8V603.3M925.8 588.3V605.4M926.4 588.7V603.1M927 589.1V615.7M927.4 589.4V609.1M928.3 590V603.2M928.7 590.3V609.9M929.5 591.3V619.6M930.4 592.5V610.5M931.2 593.7V622.4M931.9 594.7V614M932.5 595.5V609.4M933 596.2V614.8M933.4 596.7V631M933.9 597.5V628.1M934.5 599.7V610.6M935.1 602V633.4M935.6 604.2V631.2M936.2 606.5V636.8M936.6 607.9V618.4M937.4 611.4V627.6M938.3 614.7V633M939.2 618.5V637.6M939.9 626.7V639.2M940.3 630.6V642.8M941 638.3V641M934 590.4V600.2M934.8 592.5V598.7M935.6 594.9V603.2M936.3 596.8V610.9M937.1 599V607.8M937.6 600.4V607.2M938.4 604.4V621.8M939.2 611.3V629.2M940 617.8V631M940.4 621.2V630.9M940.9 625.8V637.7M941.7 632.7V636.9M942.6 591.4V598.4M943 592.6V606.5M943.7 594.4V614.2M944.5 596.7V610.2M945.2 598.7V618.1M945.8 600.3V621.6M946.5 603.1V619.3M947.2 608.3V625.3M947.7 612.4V634.1M948.3 617.1V634.9M949.1 622.7V638.7M949.9 629V640.7M950.5 633.8V640.3M951.1 638.3V641.5M952.5 602.7V622.3M953 604V616.8M953.7 605.8V627.3M954.3 607.4V627M955.1 609.3V624.2M955.8 611.1V633.8M956.7 613.2V619.9M957.3 614.9V630.2M958 616.5V630.5M958.8 618.9V636.2M959.4 621.3V636M959.9 623.4V636.8M960.5 625.6V637.9M961.3 628.9V644.3M961.8 630.7V642.6M962.4 633.3V650.2M963.3 636.8V649.1M964.1 640.8V653.1M964.7 644.4V652.9M965.1 646.7V655.4M965.9 651.9V655.9M967.2 595.5V611M968 597.9V605.2M968.8 600.4V618.9M969.4 602.2V611.6M970 603.9V625.9M970.4 605.1V617.5M971.2 607.7V624.7M971.7 609V622M972.3 611.8V625.3M972.7 613.6V630.4M973.1 615.4V630.1M973.4 617.3V626.5M973.9 619.8V631.2M974.4 622.3V638.9M975.3 626.6V644.3M976 629.9V650.1M976.7 636.9V650.7M977.3 642.1V651.4M980.8 591V605.9M981.1 594V611M981.8 599.5V614.3M982.7 607.1V627.1M983.2 612V623.1M984.1 621.7V633.9M984.7 628V636.3M985.1 631.9V635.8M986.3 592.4V603.7M986.9 594.8V610.6M987.7 598.4V606.5M988.2 600.5V617.5M988.9 603.6V611.3M989.6 606.5V630.4M990.3 609.4V628.2M990.9 613.6V634.5M991.7 621V627.8M992.3 626V639.8M992.8 630.2V649.7M993.2 634V646.6M993.7 638.2V648.6M994.5 647V658.6M995.2 653.2V658.3M998.2 591.4V603.2M998.6 593.2V612.7M999 594.9V610.9M999.5 597.2V604.2M1000.1 600.3V619.2M1000.9 604V611.8M1001.6 609V620.4M1002.3 615.6V625.1M1002.7 620.3V632.1M1003.4 626.7V631.6M1003.8 630.4V631.4M1004.8 594.5V613.3M1005.5 600.6V619.4M1006.4 607.9V617.1M1006.7 610.9V627.2M1007.6 624.4V636.6M1008.4 637.3V639.5M1008.9 595.5V612.2M1009.7 596.3V611.9M1010.5 597.1V614.1M1011.2 597.8V610.9M1011.8 598.4V614.1M1012.3 598.9V622.6M1013 599.7V620.5M1013.4 600V621.9M1013.9 600.5V612.5M1014.8 601.4V614M1015.4 602.4V616.9M1016 603.5V624.7M1016.6 604.7V615.1M1017.1 605.8V622.2M1018 607.5V617.7M1018.4 608.1V633.7M1019.1 608.7V624.3M1019.9 609.4V634M1020.7 610.1V627.8M1021.1 610.4V626.1M1021.7 611V635M1022.4 611.6V627.4M1022.8 611.9V625.1M1023.4 612.4V640.9M1024 613V625.2M1024.4 613.3V623M1025 613.8V632.2M1025.7 614.5V633M1026.2 614.9V633.3M1026.7 615.5V641.2M1027.6 616.5V631.7M1028.2 617.3V636.8M1028.6 617.8V645.4M1029.1 618.3V639.7M1029.6 618.9V633.5M1030.1 619.6V636M1030.7 620.2V636.4M1031.4 621.1V642.7M1032 621.8V634.4M1032.6 622.5V647.6M1033.3 623.4V631.8M1034.2 624.4V646.4M1034.8 625.2V642.8M1035.3 625.7V646.9M1035.7 626.3V647.5M1036.4 627.1V638.5M1037 628.6V647.8M1037.6 630.7V651.3M1038.1 632.4V654.3M1038.8 634.8V658.8M1039.3 636.4V653.4M1039.9 638.6V662.1M1040.5 640.7V668.6M1041.2 643.1V653.1M1041.6 644.3V671.5M1042.3 648.2V661.5M1042.8 650.6V667.2M1043.1 652.6V666.8M1044 657V667.7M1044.8 661.6V668.9M1045.3 664.5V667.9M1045.7 666.6V668.3M1046.9 628.8V647.9M1047.7 629.6V656.9M1048.3 630.2V658.7M1049.2 631V644.1M1050.1 631.8V645.1M1050.6 632.4V652.2M1051.5 633.2V659.2M1052.3 634V642.1M1053.1 634.8V647.9M1053.8 635.4V648.2M1054.5 636.1V645.9M1054.9 636.5V658.8M1055.3 636.9V646.3M1056.1 637.7V655M1057 638.5V665.6M1057.5 639.1V657.6M1058.3 639.9V661.6M1058.8 640.6V660M1059.3 641.1V666.7M1059.9 641.8V661.6M1060.8 642.8V659.7M1061.4 643.4V663.5M1061.7 643.8V653.5M1062.2 644.3V657.4M1063 645.2V671.3M1063.3 645.6V669.1M1063.9 646.2V654.4M1064.4 646.8V666.8M1064.8 647.3V656.6M1065.2 647.7V660.2M1066.1 649.5V664.1M1066.7 650.8V662M1067.5 652.4V666.9M1067.9 653.4V663.3M1068.5 654.6V679.7M1069.3 656.3V678M1069.7 657.2V677.7M1070.3 658.4V676.1M1071 659.9V676.5M1071.6 661.2V680.4M1072.5 663.1V682.5M1073 664.1V685M1073.5 665.1V687.3M1074 666.4V685.7M1074.7 668.1V683.9M1075.3 669.4V683.1M1075.8 670.6V687.9M1076.5 672.2V687.9M1076.8 673V682.3M1077.4 674.4V682.7M1078.1 676V687.9M1078.7 677.4V686.5M1079.4 679V686.4M1080.2 680.8V686.7M1080.7 682V687.5M1081.1 682.9V687.7M1081.9 684.7V687.9M1082.4 686V687.8M1084.8 649.9V662.8M1085.4 650.5V674M1086 651.1V662.5M1086.4 651.5V672.9M1086.8 651.8V675.2M1087.3 652.4V666.5M1088 653V674.9M1088.5 653.6V660.3M1089.2 654.6V672.7M1089.6 655.5V677.9M1090.2 656.8V679M1090.9 658.3V666M1091.7 659.9V669.3M1092.5 661.8V683M1093.4 663.7V682.9M1094.2 665.5V684.5M1094.9 667V676.8M1095.5 668.4V685.6M1096 669.7V680.9M1096.4 670.8V681.3M1097.2 673.1V683.4M1098.1 675.3V684.6M1098.6 676.8V685.7M1099.1 678.2V684.3M1099.6 679.3V684.4M1100.4 681.4V684.1M1101.2 683.7V684.8M1101.2 615V632.9M1102.1 619.5V630.3M1103 624.1V637.4M1103.4 626.3V631.8M1103.8 628.4V645.7M1104.7 633V648.2M1105.4 637V647M1105.8 639.5V656.9M1106.5 643.9V659.2M1106.9 646.6V656.7M1107.6 650.9V658.3M1108.2 654.9V660.5M1108.8 658.8V664.7M1109.2 661.5V664.3M1109.4 602.7V617.8M1110.2 604.3V616.8M1110.8 605.5V624M1111.6 607.4V630.5M1112.2 608.6V621.4M1112.8 610.1V617.3M1113.7 611.9V619.7M1114.4 613.4V637.5M1115.1 615V634.8M1115.5 615.9V637.5M1116.3 617.8V628.2M1116.9 619.4V632.4M1117.5 620.9V644.8M1118.4 623.2V645.8M1119.2 625.2V638.5M1119.8 626.9V646.5M1120.6 628.8V641.9M1121.2 630.4V648.3M1121.7 631.7V638.4M1122.3 633.3V651.3M1123.2 636.1V649.5M1123.7 638.4V657.8M1124.3 640.7V654.7M1124.8 643V656.8M1125.2 644.6V662M1125.9 647.3V659M1126.6 650.5V659.9M1127.2 653.1V659.8M1128.1 656.5V660.8M1128.8 659.4V660.9M1127.9 607.8V622.1M1128.7 609.3V618.6M1129.2 610.4V632.6M1129.6 611.2V628.2M1130.2 612.4V622.5M1131 613.9V632.6M1131.3 614.7V631.5M1132.1 616.2V632.4M1132.9 617.8V635.9M1133.5 619V630.7M1134.2 620.5V638.8M1134.9 621.8V636.4M1135.4 622.9V631.9M1136.2 624.4V646.8M1136.8 625.6V634.9M1137.4 626.8V640.2M1137.9 627.8V651.5M1138.4 628.8V650M1139.2 630.3V641.7M1139.8 633V643.9M1140.6 636.9V658.2M1141 638.6V652.9M1141.6 641.6V665.1M1142.4 644.9V656.1M1142.8 646.6V660.2M1143.3 649V658.9M1144.1 652.9V661.6M1144.7 655.6V664.7M1145.3 658.2V664.7M1145.8 660.6V664.6M1146.3 662.9V664.2" stroke="#000" stroke-width="0.22" stroke-opacity="0.3" fill="none"/>
<path d="M923.7 586.9L928.9 590.4L934 597.6L939.1 618.1L941.2 640.7M934 590.4L938.1 601.7L942.2 636.6M942.6 591.4L946.3 601.7L951.4 640.7M952.5 602.7L958.6 618.1L963.7 638.6L966.4 655M967.2 595.5L972 609.9L976.1 630.4L978.1 649.9M980.8 591L983.2 611.9L985.3 634.5M986.3 592.4L990.4 609.9L993.5 636.6L995.6 657.1M998.2 591.4L1001.3 605.8L1003.8 630.4M1004.8 594.5L1006.8 611.9L1008.5 638.6M1008.9 595.5L1015 601.7L1018.1 607.8L1026.3 615L1036.6 627.3L1041.7 644.8L1045.8 667.3M1046.9 628.8L1057.1 638.6L1065.3 647.9L1073.5 665.3L1082.8 686.8M1084.8 649.9L1088.9 654L1095.1 667.3L1101.2 683.8M1101.2 615L1105.3 636.6L1109.4 663.2M1109.4 602.7L1115.6 616L1122.8 634.5L1128.9 660.2M1127.9 607.8L1134.1 620.1L1139.2 630.4L1146.4 663.2" stroke="#000" stroke-width="0.7" fill="none" stroke-linejoin="round"/>
<path d="M958.6 619.1L964.8 619.7L966.8 653M974 608.9L978.7 609.9L980.2 636.6M993.1 609.5L997 610.3L998 636.6M1018.1 608.9L1021.2 622.2L1023.3 653M1077.6 669L1083.4 669.4L1084.2 681.7M1138.2 630.4L1143.3 632.5L1145.8 657.1M1146.4 601.7L1147.4 636.6M925.5 589.3L929 593.8L932.9 599.9M930.1 593.5L933 602L936.4 612.2M934.7 594.1L935.9 601.7L937.5 610.9M936.8 600L937.9 610.3L939.3 622.3M943.3 595.4L944.7 604.8L946.5 615.8M945.7 601.7L946.8 613.8L948.4 627.5M953.8 607.9L956.5 617L959.5 627.7M957.5 617L959.7 627L962.3 638.6M968.2 600.5L970.1 609.2L972.4 619.6M971.1 609.1L972.7 618.8L974.6 630.2M981 596.6L981.3 605.1L982 615.3M982.2 606.6L982.5 614.6L983.1 624.3M987.1 598.2L988.6 610.4L990.4 624.3M989.6 608.4L990.8 623.3L992.4 639.8M998.6 595.5L999.1 601.5L1000.1 609.1M1000.1 602.2L1000.5 610L1001.4 619.3M1013 601L1021.4 610.8L1030.2 622.2M1022.7 613L1029.7 622.7L1037.1 633.9M1050.8 633.9L1059 644.8L1067.5 657.4M1060.2 643.4L1067.1 655.8L1074.3 669.7M1086.5 652.9L1089.7 659.8L1093.4 668.4M1090.8 659.6L1093.5 666.6L1096.7 675.1M1101.9 621.2L1103.1 631.2L1104.7 642.8M1104.1 632.4L1105.1 641.5L1106.5 652.3M1111.5 608.8L1115.5 619.3L1119.9 631.4M1116.6 620.3L1120 631.9L1123.7 645M1129.8 613.3L1133.6 621.3L1137.8 631M1134.7 622.9L1137.8 634.1L1141.4 647" stroke="#000" stroke-width="0.35" fill="none" stroke-linejoin="round"/>
<path d="M923.7 586.1L933 589.4L931.9 594.5L927.8 598.6L924.1 595.5Z" fill="#000"/>
<path d="M934 589.8H998.2M944.3 593.9H967.2M1015 601.3H1146.4M1026.3 613.6H1100.8M1111.5 605.8H1127.9M1065.3 648.9H1084.8M1036.6 627.3H1046.9M934.4 590.4H981.2M1016.1 602.1H1109.4M1027.4 614.4H1100.2M967.2 593.9V595.5M1100.8 613.6V616M1146.4 601.3V602.7M998.2 589.8V591.8M944.3 591.4V593.9M1127.9 605.8V608.2M1084.8 648.9V650.5" stroke="#000" stroke-width="0.45" fill="none"/>
<line x1="915.5" y1="584.2" x2="915.5" y2="688.9" stroke="#aaa" stroke-width="0.4" />
<line x1="914.5" y1="584.2" x2="915.5" y2="584.2" stroke="#aaa" stroke-width="0.4" />
<text x="911.3" y="587.2" font-size="2.6" class="a" text-anchor="middle" transform="rotate(-90 911.3 587.2)">1.0</text>
<line x1="914.5" y1="605.2" x2="915.5" y2="605.2" stroke="#aaa" stroke-width="0.4" />
<text x="911.3" y="608.2" font-size="2.6" class="a" text-anchor="middle" transform="rotate(-90 911.3 608.2)">0.9</text>
<line x1="914.5" y1="626.1" x2="915.5" y2="626.1" stroke="#aaa" stroke-width="0.4" />
<text x="911.3" y="629.1" font-size="2.6" class="a" text-anchor="middle" transform="rotate(-90 911.3 629.1)">0.8</text>
<line x1="914.5" y1="647" x2="915.5" y2="647" stroke="#aaa" stroke-width="0.4" />
<text x="911.3" y="650" font-size="2.6" class="a" text-anchor="middle" transform="rotate(-90 911.3 650)">0.7</text>
<line x1="914.5" y1="668" x2="915.5" y2="668" stroke="#aaa" stroke-width="0.4" />
<text x="911.3" y="671" font-size="2.6" class="a" text-anchor="middle" transform="rotate(-90 911.3 671)">0.6</text>
<line x1="914.5" y1="688.9" x2="915.5" y2="688.9" stroke="#aaa" stroke-width="0.4" />
<text x="911.3" y="691.9" font-size="2.6" class="a" text-anchor="middle" transform="rotate(-90 911.3 691.9)">0.5</text>
<text x="904.2" y="638" font-size="3.2" class="a" text-anchor="middle" transform="rotate(-90 904.2 638)">Height</text>
<rect x="924" y="696.4" width="4.2" height="28.1" fill="#8a8a80"/>
<rect x="928" y="696.4" width="2.8" height="28.1" fill="#8aa8b0"/>
<rect x="930.6" y="696.4" width="1.4" height="28.1" fill="#2a6090"/>
<rect x="931.8" y="696.4" width="2.6" height="28.1" fill="#60b0d0"/>
<rect x="934.2" y="696.4" width="4.7" height="28.1" fill="#e01010"/>
<rect x="938.7" y="696.4" width="3.7" height="28.1" fill="#a52a2a"/>
<rect x="942.2" y="696.4" width="1.4" height="28.1" fill="#608060"/>
<rect x="943.4" y="696.4" width="2.8" height="28.1" fill="#108060"/>
<rect x="946" y="696.4" width="5.7" height="28.1" fill="#00f010"/>
<rect x="951.5" y="696.4" width="3" height="28.1" fill="#3050c0"/>
<rect x="954.3" y="696.4" width="3.7" height="28.1" fill="#2070b0"/>
<rect x="957.8" y="696.4" width="6.2" height="28.1" fill="#0000f0"/>
<rect x="963.8" y="696.4" width="3.3" height="28.1" fill="#20e040"/>
<rect x="966.9" y="696.4" width="1.6" height="28.1" fill="#603010"/>
<rect x="968.3" y="696.4" width="1.9" height="28.1" fill="#b02040"/>
<rect x="970" y="696.4" width="2.1" height="28.1" fill="#b030a0"/>
<rect x="971.9" y="696.4" width="9" height="28.1" fill="#a83030"/>
<rect x="980.7" y="696.4" width="5.2" height="28.1" fill="#000000"/>
<rect x="985.7" y="696.4" width="12.6" height="28.1" fill="#ffff10"/>
<rect x="998.1" y="696.4" width="1.6" height="28.1" fill="#408090"/>
<rect x="999.5" y="696.4" width="2.6" height="28.1" fill="#4090d0"/>
<rect x="1001.9" y="696.4" width="3.2" height="28.1" fill="#f0d0f0"/>
<rect x="1004.9" y="696.4" width="3.9" height="28.1" fill="#f010f0"/>
<rect x="1008.6" y="696.4" width="4.9" height="28.1" fill="#40c0e8"/>
<rect x="1013.3" y="696.4" width="1.1" height="28.1" fill="#3090c0"/>
<rect x="1014.2" y="696.4" width="6" height="28.1" fill="#40e0d0"/>
<rect x="1020" y="696.4" width="3.9" height="28.1" fill="#e01010"/>
<rect x="1023.7" y="696.4" width="85.6" height="28.1" fill="#40e0d0"/>
<rect x="1109.1" y="696.4" width="1.8" height="28.1" fill="#208080"/>
<rect x="1110.7" y="696.4" width="2.2" height="28.1" fill="#b8c8f0"/>
<rect x="1112.7" y="696.4" width="15.6" height="28.1" fill="#0000f0"/>
<rect x="1128.1" y="696.4" width="3.6" height="28.1" fill="#80b0e0"/>
<rect x="1131.5" y="696.4" width="14.8" height="28.1" fill="#40e0d0"/>
<rect x="1146.1" y="696.4" width="1.6" height="28.1" fill="#b0f040"/>
</g>
<g>
<text x="1159.3" y="571" font-size="7.6" class="a">(B)</text>
<rect x="1185.9" y="571.8" width="7.1" height="14.5" fill="#f9c0cb"/>
<text x="1182.6" y="580" font-size="3.1" class="a" text-anchor="end">MEpink</text>
<rect x="1194.7" y="571.8" width="16.6" height="14.5" fill="#a8cde8"/>
<text x="1203" y="577.2" font-size="2.7" class="a" text-anchor="middle" style="fill:#444">-0.31</text>
<text x="1203" y="583.2" font-size="2.7" class="a" text-anchor="middle" style="fill:#444">(0.0934)</text>
<rect x="1211.2" y="571.8" width="16.6" height="14.5" fill="#7ab0dd"/>
<text x="1219.5" y="577.2" font-size="2.7" class="a" text-anchor="middle" style="fill:#444">-0.52</text>
<text x="1219.5" y="583.2" font-size="2.7" class="a" text-anchor="middle" style="fill:#444">(0.00318)</text>
<rect x="1227.8" y="571.8" width="16.6" height="14.5" fill="#a0c8e8"/>
<text x="1236" y="577.2" font-size="2.7" class="a" text-anchor="middle" style="fill:#444">-0.33</text>
<text x="1236" y="583.2" font-size="2.7" class="a" text-anchor="middle" style="fill:#444">(0.0742)</text>
<rect x="1185.9" y="586.2" width="7.1" height="14.5" fill="#000000"/>
<text x="1182.6" y="594.4" font-size="3.1" class="a" text-anchor="end">MEblack</text>
<rect x="1194.7" y="586.2" width="16.6" height="14.5" fill="#d85040"/>
<text x="1203" y="591.6" font-size="2.7" class="a" text-anchor="middle" style="fill:#444">0.78</text>
<text x="1203" y="597.6" font-size="2.7" class="a" text-anchor="middle" style="fill:#444">(3e-07)</text>
<rect x="1211.2" y="586.2" width="16.6" height="14.5" fill="#6aa8d8"/>
<text x="1219.5" y="591.6" font-size="2.7" class="a" text-anchor="middle" style="fill:#444">-0.58</text>
<text x="1219.5" y="597.6" font-size="2.7" class="a" text-anchor="middle" style="fill:#444">(0.00078)</text>
<rect x="1227.8" y="586.2" width="16.6" height="14.5" fill="#88b8e0"/>
<text x="1236" y="591.6" font-size="2.7" class="a" text-anchor="middle" style="fill:#444">-0.43</text>
<text x="1236" y="597.6" font-size="2.7" class="a" text-anchor="middle" style="fill:#444">(0.0171)</text>
<rect x="1185.9" y="600.6" width="7.1" height="14.5" fill="#ff1fff"/>
<text x="1182.6" y="608.8" font-size="3.1" class="a" text-anchor="end">MEmagenta</text>
<rect x="1194.7" y="600.6" width="16.6" height="14.5" fill="#d0e4f4"/>
<text x="1203" y="606" font-size="2.7" class="a" text-anchor="middle" style="fill:#444">-0.17</text>
<text x="1203" y="612" font-size="2.7" class="a" text-anchor="middle" style="fill:#444">(0.378)</text>
<rect x="1211.2" y="600.6" width="16.6" height="14.5" fill="#70aad8"/>
<text x="1219.5" y="606" font-size="2.7" class="a" text-anchor="middle" style="fill:#444">-0.55</text>
<text x="1219.5" y="612" font-size="2.7" class="a" text-anchor="middle" style="fill:#444">(0.0018)</text>
<rect x="1227.8" y="600.6" width="16.6" height="14.5" fill="#fbeeee"/>
<text x="1236" y="606" font-size="2.7" class="a" text-anchor="middle" style="fill:#444">-0.07</text>
<text x="1236" y="612" font-size="2.7" class="a" text-anchor="middle" style="fill:#444">(0.871)</text>
<rect x="1185.9" y="615" width="7.1" height="14.5" fill="#a12ff0"/>
<text x="1182.6" y="623.2" font-size="3.1" class="a" text-anchor="end">MEpurple</text>
<rect x="1194.7" y="615" width="16.6" height="14.5" fill="#dc5848"/>
<text x="1203" y="620.4" font-size="2.7" class="a" text-anchor="middle" style="fill:#444">0.74</text>
<text x="1203" y="626.4" font-size="2.7" class="a" text-anchor="middle" style="fill:#444">(3e-06)</text>
<rect x="1211.2" y="615" width="16.6" height="14.5" fill="#70a8d8"/>
<text x="1219.5" y="620.4" font-size="2.7" class="a" text-anchor="middle" style="fill:#444">-0.56</text>
<text x="1219.5" y="626.4" font-size="2.7" class="a" text-anchor="middle" style="fill:#444">(0.00128)</text>
<rect x="1227.8" y="615" width="16.6" height="14.5" fill="#f8e0dc"/>
<text x="1236" y="620.4" font-size="2.7" class="a" text-anchor="middle" style="fill:#444">0.15</text>
<text x="1236" y="626.4" font-size="2.7" class="a" text-anchor="middle" style="fill:#444">(0.43)</text>
<rect x="1185.9" y="629.4" width="7.1" height="14.5" fill="#ff0000"/>
<text x="1182.6" y="637.6" font-size="3.1" class="a" text-anchor="end">MEred</text>
<rect x="1194.7" y="629.4" width="16.6" height="14.5" fill="#b8d4ec"/>
<text x="1203" y="634.8" font-size="2.7" class="a" text-anchor="middle" style="fill:#444">-0.27</text>
<text x="1203" y="640.8" font-size="2.7" class="a" text-anchor="middle" style="fill:#444">(0.151)</text>
<rect x="1211.2" y="629.4" width="16.6" height="14.5" fill="#f6c8c0"/>
<text x="1219.5" y="634.8" font-size="2.7" class="a" text-anchor="middle" style="fill:#444">0.076</text>
<text x="1219.5" y="640.8" font-size="2.7" class="a" text-anchor="middle" style="fill:#444">(0.691)</text>
<rect x="1227.8" y="629.4" width="16.6" height="14.5" fill="#d84838"/>
<text x="1236" y="634.8" font-size="2.7" class="a" text-anchor="middle" style="fill:#444">0.81</text>
<text x="1236" y="640.8" font-size="2.7" class="a" text-anchor="middle" style="fill:#444">(6e-08)</text>
<rect x="1185.9" y="643.8" width="7.1" height="14.5" fill="#adff2f"/>
<text x="1182.6" y="651.9" font-size="3.1" class="a" text-anchor="end">MEgreenyellow</text>
<rect x="1194.7" y="643.8" width="16.6" height="14.5" fill="#5898d0"/>
<text x="1203" y="649.1" font-size="2.7" class="a" text-anchor="middle" style="fill:#444">-0.66</text>
<text x="1203" y="655.1" font-size="2.7" class="a" text-anchor="middle" style="fill:#444">(0.00007)</text>
<rect x="1211.2" y="643.8" width="16.6" height="14.5" fill="#d44030"/>
<text x="1219.5" y="649.1" font-size="2.7" class="a" text-anchor="middle" style="fill:#444">0.83</text>
<text x="1219.5" y="655.1" font-size="2.7" class="a" text-anchor="middle" style="fill:#444">(2e-08)</text>
<rect x="1227.8" y="643.8" width="16.6" height="14.5" fill="#dc5848"/>
<text x="1236" y="649.1" font-size="2.7" class="a" text-anchor="middle" style="fill:#444">0.74</text>
<text x="1236" y="655.1" font-size="2.7" class="a" text-anchor="middle" style="fill:#444">(3e-06)</text>
<rect x="1185.9" y="658.1" width="7.1" height="14.5" fill="#36d6c6"/>
<text x="1182.6" y="666.3" font-size="3.1" class="a" text-anchor="end">MEturquoise</text>
<rect x="1194.7" y="658.1" width="16.6" height="14.5" fill="#2878c0"/>
<text x="1203" y="663.5" font-size="2.7" class="a" text-anchor="middle" style="fill:#444">-0.92</text>
<text x="1203" y="669.5" font-size="2.7" class="a" text-anchor="middle" style="fill:#444">(2.1e-12)</text>
<rect x="1211.2" y="658.1" width="16.6" height="14.5" fill="#fae8e4"/>
<text x="1219.5" y="663.5" font-size="2.7" class="a" text-anchor="middle" style="fill:#444">-0.13</text>
<text x="1219.5" y="669.5" font-size="2.7" class="a" text-anchor="middle" style="fill:#444">(0.511)</text>
<rect x="1227.8" y="658.1" width="16.6" height="14.5" fill="#eca090"/>
<text x="1236" y="663.5" font-size="2.7" class="a" text-anchor="middle" style="fill:#444">0.45</text>
<text x="1236" y="669.5" font-size="2.7" class="a" text-anchor="middle" style="fill:#444">(0.012)</text>
<rect x="1185.9" y="672.5" width="7.1" height="14.5" fill="#ffff00"/>
<text x="1182.6" y="680.7" font-size="3.1" class="a" text-anchor="end">MEyellow</text>
<rect x="1194.7" y="672.5" width="16.6" height="14.5" fill="#c0d8f0"/>
<text x="1203" y="677.9" font-size="2.7" class="a" text-anchor="middle" style="fill:#444">-0.21</text>
<text x="1203" y="683.9" font-size="2.7" class="a" text-anchor="middle" style="fill:#444">(0.268)</text>
<rect x="1211.2" y="672.5" width="16.6" height="14.5" fill="#f8d0c8"/>
<text x="1219.5" y="677.9" font-size="2.7" class="a" text-anchor="middle" style="fill:#444">-0.02</text>
<text x="1219.5" y="683.9" font-size="2.7" class="a" text-anchor="middle" style="fill:#444">(0.916)</text>
<rect x="1227.8" y="672.5" width="16.6" height="14.5" fill="#f4b8b0"/>
<text x="1236" y="677.9" font-size="2.7" class="a" text-anchor="middle" style="fill:#444">0.044</text>
<text x="1236" y="683.9" font-size="2.7" class="a" text-anchor="middle" style="fill:#444">(0.82)</text>
<rect x="1185.9" y="686.9" width="7.1" height="14.5" fill="#a52a2a"/>
<text x="1182.6" y="695.1" font-size="3.1" class="a" text-anchor="end">MEbrown</text>
<rect x="1194.7" y="686.9" width="16.6" height="14.5" fill="#fae0dc"/>
<text x="1203" y="692.3" font-size="2.7" class="a" text-anchor="middle" style="fill:#444">0.12</text>
<text x="1203" y="698.3" font-size="2.7" class="a" text-anchor="middle" style="fill:#444">(0.51)</text>
<rect x="1211.2" y="686.9" width="16.6" height="14.5" fill="#f0a898"/>
<text x="1219.5" y="692.3" font-size="2.7" class="a" text-anchor="middle" style="fill:#444">0.41</text>
<text x="1219.5" y="698.3" font-size="2.7" class="a" text-anchor="middle" style="fill:#444">(0.022)</text>
<rect x="1227.8" y="686.9" width="16.6" height="14.5" fill="#dde8f4"/>
<text x="1236" y="692.3" font-size="2.7" class="a" text-anchor="middle" style="fill:#444">-0.17</text>
<text x="1236" y="698.3" font-size="2.7" class="a" text-anchor="middle" style="fill:#444">(0.371)</text>
<rect x="1185.9" y="701.3" width="7.1" height="14.5" fill="#0000ff"/>
<text x="1182.6" y="709.5" font-size="3.1" class="a" text-anchor="end">MEblue</text>
<rect x="1194.7" y="701.3" width="16.6" height="14.5" fill="#78b0dc"/>
<text x="1203" y="706.7" font-size="2.7" class="a" text-anchor="middle" style="fill:#444">-0.54</text>
<text x="1203" y="712.7" font-size="2.7" class="a" text-anchor="middle" style="fill:#444">(0.00217)</text>
<rect x="1211.2" y="701.3" width="16.6" height="14.5" fill="#ec9888"/>
<text x="1219.5" y="706.7" font-size="2.7" class="a" text-anchor="middle" style="fill:#444">0.46</text>
<text x="1219.5" y="712.7" font-size="2.7" class="a" text-anchor="middle" style="fill:#444">(0.011)</text>
<rect x="1227.8" y="701.3" width="16.6" height="14.5" fill="#fdf8f8"/>
<text x="1236" y="706.7" font-size="2.7" class="a" text-anchor="middle" style="fill:#444">-0.01</text>
<text x="1236" y="712.7" font-size="2.7" class="a" text-anchor="middle" style="fill:#444">(0.97)</text>
<rect x="1185.9" y="715.7" width="7.1" height="14.5" fill="#00ff00"/>
<text x="1182.6" y="723.9" font-size="3.1" class="a" text-anchor="end">MEgreen</text>
<rect x="1194.7" y="715.7" width="16.6" height="14.5" fill="#f0b0a0"/>
<text x="1203" y="721.1" font-size="2.7" class="a" text-anchor="middle" style="fill:#444">0.061</text>
<text x="1203" y="727.1" font-size="2.7" class="a" text-anchor="middle" style="fill:#444">(0.75)</text>
<rect x="1211.2" y="715.7" width="16.6" height="14.5" fill="#dc5040"/>
<text x="1219.5" y="721.1" font-size="2.7" class="a" text-anchor="middle" style="fill:#444">0.82</text>
<text x="1219.5" y="727.1" font-size="2.7" class="a" text-anchor="middle" style="fill:#444">(5e-08)</text>
<rect x="1227.8" y="715.7" width="16.6" height="14.5" fill="#b8d4ec"/>
<text x="1236" y="721.1" font-size="2.7" class="a" text-anchor="middle" style="fill:#444">-0.26</text>
<text x="1236" y="727.1" font-size="2.7" class="a" text-anchor="middle" style="fill:#444">(0.165)</text>
<rect x="1185.9" y="730.1" width="7.1" height="14.5" fill="#bebebe"/>
<text x="1182.6" y="738.3" font-size="3.1" class="a" text-anchor="end">MEgrey</text>
<rect x="1194.7" y="730.1" width="16.6" height="14.5" fill="#f8d8d0"/>
<text x="1203" y="735.5" font-size="2.7" class="a" text-anchor="middle" style="fill:#444">-0.015</text>
<text x="1203" y="741.5" font-size="2.7" class="a" text-anchor="middle" style="fill:#444">(0.94)</text>
<rect x="1211.2" y="730.1" width="16.6" height="14.5" fill="#f0b0a8"/>
<text x="1219.5" y="735.5" font-size="2.7" class="a" text-anchor="middle" style="fill:#444">-0.045</text>
<text x="1219.5" y="741.5" font-size="2.7" class="a" text-anchor="middle" style="fill:#444">(0.81)</text>
<rect x="1227.8" y="730.1" width="16.6" height="14.5" fill="#f4b8b0"/>
<text x="1236" y="735.5" font-size="2.7" class="a" text-anchor="middle" style="fill:#444">0.064</text>
<text x="1236" y="741.5" font-size="2.7" class="a" text-anchor="middle" style="fill:#444">(0.74)</text>
<linearGradient id="mg" x1="0" y1="0" x2="0" y2="1"><stop offset="0" stop-color="#d8493a"/><stop offset="0.45" stop-color="#fdeeee"/><stop offset="0.55" stop-color="#e6eef8"/><stop offset="1" stop-color="#2a7ac2"/></linearGradient>
<rect x="1249" y="572.4" width="5.1" height="20.5" fill="url(#mg)"/>
<text x="1255.2" y="575.5" font-size="2.4" class="a">0.5</text>
<text x="1255.2" y="581.7" font-size="2.4" class="a">0</text>
<text x="1255.2" y="587.9" font-size="2.4" class="a">-0.5</text>
<text x="1255.2" y="594.1" font-size="2.4" class="a">-1</text>
<text x="1203.4" y="747.2" font-size="3.1" class="a" text-anchor="end" transform="rotate(-62 1203.4 747.2)">Control</text>
<text x="1219.8" y="747.2" font-size="3.1" class="a" text-anchor="end" transform="rotate(-62 1219.8 747.2)">W</text>
<text x="1237" y="747.2" font-size="3.1" class="a" text-anchor="end" transform="rotate(-62 1237 747.2)">Recovery</text>
</g>
<g>
<text x="904" y="802" font-size="7.6" class="a">(A)</text>
<text x="904" y="894.2" font-size="7.6" class="a">(B)</text>
<linearGradient id="gg" x1="0" y1="0" x2="0" y2="1"><stop offset="0" stop-color="#5fae45"/><stop offset="0.55" stop-color="#cfe6bf"/><stop offset="1" stop-color="#ffffff"/></linearGradient>
<linearGradient id="yg" x1="0" y1="0" x2="0" y2="1"><stop offset="0" stop-color="#f7c21c"/><stop offset="0.55" stop-color="#fbe9a0"/><stop offset="1" stop-color="#ffffff"/></linearGradient>
<line x1="986.1" y1="810.2" x2="1186" y2="810.2" stroke="#777" stroke-width="0.6" />
<text x="982.8" y="811.7" font-size="4.7" class="i" text-anchor="end">Cisa00002763</text>
<rect x="1065.5" y="806.3" width="3.6" height="6.8" rx="1.8" fill="url(#gg)" stroke="#9cc98a" stroke-width="0.25"/>
<rect x="1069.1" y="806.3" width="3.6" height="6.8" rx="1.8" fill="url(#gg)" stroke="#9cc98a" stroke-width="0.25"/>
<rect x="1098.9" y="806.3" width="3.6" height="6.8" rx="1.8" fill="url(#gg)" stroke="#9cc98a" stroke-width="0.25"/>
<rect x="1141.7" y="806.3" width="3.6" height="6.8" rx="1.8" fill="url(#yg)" stroke="#f1d56a" stroke-width="0.25"/>
<rect x="1145.6" y="806.3" width="3.6" height="6.8" rx="1.8" fill="url(#yg)" stroke="#f1d56a" stroke-width="0.25"/>
<rect x="1147.6" y="806.3" width="3.6" height="6.8" rx="1.8" fill="url(#yg)" stroke="#f1d56a" stroke-width="0.25"/>
<rect x="1156" y="806.3" width="3.6" height="6.8" rx="1.8" fill="url(#yg)" stroke="#f1d56a" stroke-width="0.25"/>
<rect x="1164" y="806.3" width="3.6" height="6.8" rx="1.8" fill="url(#yg)" stroke="#f1d56a" stroke-width="0.25"/>
<line x1="986.1" y1="822.1" x2="1186" y2="822.1" stroke="#777" stroke-width="0.6" />
<text x="982.8" y="823.6" font-size="4.7" class="i" text-anchor="end">Cisa00017772</text>
<rect x="987" y="818.2" width="3.6" height="6.8" rx="1.8" fill="url(#yg)" stroke="#f1d56a" stroke-width="0.25"/>
<rect x="1002.5" y="818.2" width="3.6" height="6.8" rx="1.8" fill="url(#yg)" stroke="#f1d56a" stroke-width="0.25"/>
<rect x="1057.8" y="818.2" width="3.6" height="6.8" rx="1.8" fill="url(#yg)" stroke="#f1d56a" stroke-width="0.25"/>
<rect x="1071.2" y="818.2" width="3.6" height="6.8" rx="1.8" fill="url(#yg)" stroke="#f1d56a" stroke-width="0.25"/>
<rect x="1073.3" y="818.2" width="3.6" height="6.8" rx="1.8" fill="url(#yg)" stroke="#f1d56a" stroke-width="0.25"/>
<rect x="1099.4" y="818.2" width="3.6" height="6.8" rx="1.8" fill="url(#yg)" stroke="#f1d56a" stroke-width="0.25"/>
<line x1="986.1" y1="833.4" x2="1186" y2="833.4" stroke="#777" stroke-width="0.6" />
<text x="982.8" y="834.9" font-size="4.7" class="i" text-anchor="end">Cisa00028672</text>
<rect x="990" y="829.5" width="3.6" height="6.8" rx="1.8" fill="url(#gg)" stroke="#9cc98a" stroke-width="0.25"/>
<rect x="1001.9" y="829.5" width="3.6" height="6.8" rx="1.8" fill="url(#gg)" stroke="#9cc98a" stroke-width="0.25"/>
<rect x="1008.1" y="829.5" width="3.6" height="6.8" rx="1.8" fill="url(#gg)" stroke="#9cc98a" stroke-width="0.25"/>
<rect x="1092.3" y="829.5" width="3.6" height="6.8" rx="1.8" fill="url(#yg)" stroke="#f1d56a" stroke-width="0.25"/>
<rect x="1096.5" y="829.5" width="3.6" height="6.8" rx="1.8" fill="url(#yg)" stroke="#f1d56a" stroke-width="0.25"/>
<rect x="1114.6" y="829.5" width="3.6" height="6.8" rx="1.8" fill="url(#yg)" stroke="#f1d56a" stroke-width="0.25"/>
<rect x="1181" y="829.5" width="3.6" height="6.8" rx="1.8" fill="url(#yg)" stroke="#f1d56a" stroke-width="0.25"/>
<line x1="986.1" y1="845" x2="1186" y2="845" stroke="#777" stroke-width="0.6" />
<text x="982.8" y="846.5" font-size="4.7" class="i" text-anchor="end">Cisa00020637</text>
<rect x="1020.3" y="841.1" width="3.6" height="6.8" rx="1.8" fill="url(#yg)" stroke="#f1d56a" stroke-width="0.25"/>
<rect x="1078.6" y="841.1" width="3.6" height="6.8" rx="1.8" fill="url(#yg)" stroke="#f1d56a" stroke-width="0.25"/>
<rect x="1085.2" y="841.1" width="3.6" height="6.8" rx="1.8" fill="url(#yg)" stroke="#f1d56a" stroke-width="0.25"/>
<line x1="986.1" y1="856.9" x2="1186" y2="856.9" stroke="#777" stroke-width="0.6" />
<text x="982.8" y="858.4" font-size="4.7" class="i" text-anchor="end">Cisa00053327</text>
<rect x="1057.8" y="853" width="3.6" height="6.8" rx="1.8" fill="url(#gg)" stroke="#9cc98a" stroke-width="0.25"/>
<rect x="1155.7" y="853" width="3.6" height="6.8" rx="1.8" fill="url(#gg)" stroke="#9cc98a" stroke-width="0.25"/>
<line x1="986.1" y1="867.5" x2="1186" y2="867.5" stroke="#555" stroke-width="0.5" />
<line x1="986.1" y1="867.5" x2="986.1" y2="869" stroke="#555" stroke-width="0.5" />
<text x="986.1" y="876.5" font-size="5.1" text-anchor="middle">0</text>
<line x1="1006.1" y1="867.5" x2="1006.1" y2="869" stroke="#555" stroke-width="0.5" />
<text x="1006.1" y="876.5" font-size="5.1" text-anchor="middle">200</text>
<line x1="1026.1" y1="867.5" x2="1026.1" y2="869" stroke="#555" stroke-width="0.5" />
<text x="1026.1" y="876.5" font-size="5.1" text-anchor="middle">400</text>
<line x1="1046.1" y1="867.5" x2="1046.1" y2="869" stroke="#555" stroke-width="0.5" />
<text x="1046.1" y="876.5" font-size="5.1" text-anchor="middle">600</text>
<line x1="1066.1" y1="867.5" x2="1066.1" y2="869" stroke="#555" stroke-width="0.5" />
<text x="1066.1" y="876.5" font-size="5.1" text-anchor="middle">800</text>
<line x1="1086.1" y1="867.5" x2="1086.1" y2="869" stroke="#555" stroke-width="0.5" />
<text x="1086.1" y="876.5" font-size="5.1" text-anchor="middle">1000</text>
<line x1="1106.1" y1="867.5" x2="1106.1" y2="869" stroke="#555" stroke-width="0.5" />
<text x="1106.1" y="876.5" font-size="5.1" text-anchor="middle">1200</text>
<line x1="1126.1" y1="867.5" x2="1126.1" y2="869" stroke="#555" stroke-width="0.5" />
<text x="1126.1" y="876.5" font-size="5.1" text-anchor="middle">1400</text>
<line x1="1146.1" y1="867.5" x2="1146.1" y2="869" stroke="#555" stroke-width="0.5" />
<text x="1146.1" y="876.5" font-size="5.1" text-anchor="middle">1600</text>
<line x1="1166" y1="867.5" x2="1166" y2="869" stroke="#555" stroke-width="0.5" />
<text x="1166" y="876.5" font-size="5.1" text-anchor="middle">1800</text>
<line x1="1186" y1="867.5" x2="1186" y2="869" stroke="#555" stroke-width="0.5" />
<text x="1186" y="876.5" font-size="5.1" text-anchor="middle">2000</text>
<text x="983.3" y="869.1" font-size="3.4" text-anchor="middle">5'</text>
<text x="1188.2" y="869.1" font-size="3.4" text-anchor="middle">3'</text>
<rect x="1202.4" y="783.4" width="12.5" height="8.9" fill="url(#gg)" stroke="#b6d6a8" stroke-width="0.3"/>
<rect x="1202.4" y="795.3" width="12.5" height="7.4" fill="url(#yg)" stroke="#f1d56a" stroke-width="0.3"/>
<text x="1217.3" y="789.4" font-size="4.8">Ethylene-responsiveness</text>
<text x="1217.3" y="800.8" font-size="4.8">MeJA-responsiveness</text>
<rect x="930.2" y="969.9" width="12.8" height="11.9" fill="#8fb944" stroke="#4f6a22" stroke-width="0.5"/>
<line x1="936.6" y1="969.9" x2="936.6" y2="968.4" stroke="#333" stroke-width="0.6" />
<line x1="935.3" y1="968.4" x2="937.9" y2="968.4" stroke="#333" stroke-width="0.6" />
<text x="936.6" y="967.2" font-size="3.6" class="b" text-anchor="middle">d</text>
<rect x="946.5" y="974.1" width="12.5" height="7.7" fill="#8fb944" stroke="#4f6a22" stroke-width="0.5"/>
<line x1="952.8" y1="974.1" x2="952.8" y2="973.1" stroke="#333" stroke-width="0.6" />
<line x1="951.5" y1="973.1" x2="954.1" y2="973.1" stroke="#333" stroke-width="0.6" />
<text x="952.8" y="971.9" font-size="3.6" class="b" text-anchor="middle">d</text>
<rect x="962.9" y="972.9" width="12.8" height="8.9" fill="#8fb944" stroke="#4f6a22" stroke-width="0.5"/>
<line x1="969.3" y1="972.9" x2="969.3" y2="971.9" stroke="#333" stroke-width="0.6" />
<line x1="968" y1="971.9" x2="970.6" y2="971.9" stroke="#333" stroke-width="0.6" />
<text x="969.3" y="970.7" font-size="3.6" class="b" text-anchor="middle">d</text>
<rect x="979.3" y="914.6" width="12.5" height="67.2" fill="#8fbde0" stroke="#3f5f7a" stroke-width="0.5"/>
<line x1="985.5" y1="914.6" x2="985.5" y2="905.4" stroke="#333" stroke-width="0.6" />
<line x1="984.2" y1="905.4" x2="986.8" y2="905.4" stroke="#333" stroke-width="0.6" />
<text x="985.5" y="904.2" font-size="3.6" class="b" text-anchor="middle">a</text>
<rect x="995.6" y="963.4" width="12.5" height="18.4" fill="#8fbde0" stroke="#3f5f7a" stroke-width="0.5"/>
<line x1="1001.9" y1="963.4" x2="1001.9" y2="961.6" stroke="#333" stroke-width="0.6" />
<line x1="1000.6" y1="961.6" x2="1003.2" y2="961.6" stroke="#333" stroke-width="0.6" />
<text x="1001.9" y="960.4" font-size="3.6" class="b" text-anchor="middle">cd</text>
<rect x="1012" y="954.5" width="12.5" height="27.4" fill="#8fbde0" stroke="#3f5f7a" stroke-width="0.5"/>
<line x1="1018.2" y1="954.5" x2="1018.2" y2="948.5" stroke="#333" stroke-width="0.6" />
<line x1="1016.9" y1="948.5" x2="1019.5" y2="948.5" stroke="#333" stroke-width="0.6" />
<text x="1018.2" y="947.3" font-size="3.6" class="b" text-anchor="middle">c</text>
<rect x="1028.4" y="937.5" width="12.5" height="44.3" fill="#fdd98a" stroke="#7a6430" stroke-width="0.5"/>
<line x1="1034.6" y1="937.5" x2="1034.6" y2="933.6" stroke="#333" stroke-width="0.6" />
<line x1="1033.3" y1="933.6" x2="1035.9" y2="933.6" stroke="#333" stroke-width="0.6" />
<text x="1034.6" y="932.4" font-size="3.6" class="b" text-anchor="middle">b</text>
<rect x="1044.7" y="959.8" width="12.5" height="22" fill="#fdd98a" stroke="#7a6430" stroke-width="0.5"/>
<line x1="1051" y1="959.8" x2="1051" y2="958.6" stroke="#333" stroke-width="0.6" />
<line x1="1049.7" y1="958.6" x2="1052.3" y2="958.6" stroke="#333" stroke-width="0.6" />
<text x="1051" y="957.4" font-size="3.6" class="b" text-anchor="middle">cd</text>
<rect x="1060.5" y="962.5" width="13.1" height="19.3" fill="#fdd98a" stroke="#7a6430" stroke-width="0.5"/>
<line x1="1067" y1="962.5" x2="1067" y2="960.7" stroke="#333" stroke-width="0.6" />
<line x1="1065.7" y1="960.7" x2="1068.3" y2="960.7" stroke="#333" stroke-width="0.6" />
<text x="1067" y="959.5" font-size="3.6" class="b" text-anchor="middle">cd</text>
<rect x="928.4" y="897.4" width="147" height="84.4" fill="none" stroke="#333" stroke-width="0.8"/>
<line x1="925.9" y1="981.8" x2="928.4" y2="981.8" stroke="#333" stroke-width="0.7" />
<text x="924.9" y="983.3" font-size="4.4" class="b" text-anchor="end">0</text>
<line x1="926.9" y1="975.8" x2="928.4" y2="975.8" stroke="#333" stroke-width="0.6" />
<line x1="925.9" y1="969.8" x2="928.4" y2="969.8" stroke="#333" stroke-width="0.7" />
<text x="924.9" y="971.2" font-size="4.4" class="b" text-anchor="end">1</text>
<line x1="926.9" y1="963.7" x2="928.4" y2="963.7" stroke="#333" stroke-width="0.6" />
<line x1="925.9" y1="957.7" x2="928.4" y2="957.7" stroke="#333" stroke-width="0.7" />
<text x="924.9" y="959.2" font-size="4.4" class="b" text-anchor="end">2</text>
<line x1="926.9" y1="951.7" x2="928.4" y2="951.7" stroke="#333" stroke-width="0.6" />
<line x1="925.9" y1="945.6" x2="928.4" y2="945.6" stroke="#333" stroke-width="0.7" />
<text x="924.9" y="947.1" font-size="4.4" class="b" text-anchor="end">3</text>
<line x1="926.9" y1="939.6" x2="928.4" y2="939.6" stroke="#333" stroke-width="0.6" />
<line x1="925.9" y1="933.6" x2="928.4" y2="933.6" stroke="#333" stroke-width="0.7" />
<text x="924.9" y="935" font-size="4.4" class="b" text-anchor="end">4</text>
<line x1="926.9" y1="927.5" x2="928.4" y2="927.5" stroke="#333" stroke-width="0.6" />
<line x1="925.9" y1="921.5" x2="928.4" y2="921.5" stroke="#333" stroke-width="0.7" />
<text x="924.9" y="922.9" font-size="4.4" class="b" text-anchor="end">5</text>
<line x1="926.9" y1="915.5" x2="928.4" y2="915.5" stroke="#333" stroke-width="0.6" />
<line x1="925.9" y1="909.4" x2="928.4" y2="909.4" stroke="#333" stroke-width="0.7" />
<text x="924.9" y="910.9" font-size="4.4" class="b" text-anchor="end">6</text>
<line x1="926.9" y1="903.4" x2="928.4" y2="903.4" stroke="#333" stroke-width="0.6" />
<line x1="925.9" y1="897.3" x2="928.4" y2="897.3" stroke="#333" stroke-width="0.7" />
<text x="924.9" y="898.8" font-size="4.4" class="b" text-anchor="end">7</text>
<line x1="936.6" y1="981.8" x2="936.6" y2="984.3" stroke="#333" stroke-width="0.7" />
<text x="939.2" y="986.8" font-size="4.1" class="b" text-anchor="end" transform="rotate(-45 939.2 986.8)">C7d</text>
<line x1="952.8" y1="981.8" x2="952.8" y2="984.3" stroke="#333" stroke-width="0.7" />
<text x="955.4" y="986.8" font-size="4.1" class="b" text-anchor="end" transform="rotate(-45 955.4 986.8)">C7d_R5d</text>
<line x1="969.3" y1="981.8" x2="969.3" y2="984.3" stroke="#333" stroke-width="0.7" />
<text x="971.9" y="986.8" font-size="4.1" class="b" text-anchor="end" transform="rotate(-45 971.9 986.8)">C7d_R15d</text>
<line x1="985.5" y1="981.8" x2="985.5" y2="984.3" stroke="#333" stroke-width="0.7" />
<text x="988.1" y="986.8" font-size="4.1" class="b" text-anchor="end" transform="rotate(-45 988.1 986.8)">W7d</text>
<line x1="1001.9" y1="981.8" x2="1001.9" y2="984.3" stroke="#333" stroke-width="0.7" />
<text x="1004.5" y="986.8" font-size="4.1" class="b" text-anchor="end" transform="rotate(-45 1004.5 986.8)">W7d_R5d</text>
<line x1="1018.2" y1="981.8" x2="1018.2" y2="984.3" stroke="#333" stroke-width="0.7" />
<text x="1020.8" y="986.8" font-size="4.1" class="b" text-anchor="end" transform="rotate(-45 1020.8 986.8)">W7d_R15d</text>
<line x1="1034.6" y1="981.8" x2="1034.6" y2="984.3" stroke="#333" stroke-width="0.7" />
<text x="1037.2" y="986.8" font-size="4.1" class="b" text-anchor="end" transform="rotate(-45 1037.2 986.8)">ACC1d</text>
<line x1="1051" y1="981.8" x2="1051" y2="984.3" stroke="#333" stroke-width="0.7" />
<text x="1053.6" y="986.8" font-size="4.1" class="b" text-anchor="end" transform="rotate(-45 1053.6 986.8)">ACC1d_R5d</text>
<line x1="1067" y1="981.8" x2="1067" y2="984.3" stroke="#333" stroke-width="0.7" />
<text x="1069.6" y="986.8" font-size="4.1" class="b" text-anchor="end" transform="rotate(-45 1069.6 986.8)">ACC1d_R15d</text>
<text x="921" y="939.6" font-size="4.8" class="b" text-anchor="middle" transform="rotate(-90 921 939.6)">Relative Expression</text>
<text x="933.9" y="906" font-size="5" class="b i">Ct NAC68</text>
<rect x="1093.2" y="963.1" width="12.5" height="18.7" fill="#8fb944" stroke="#4f6a22" stroke-width="0.5"/>
<line x1="1099.5" y1="963.1" x2="1099.5" y2="960.1" stroke="#333" stroke-width="0.6" />
<line x1="1098.2" y1="960.1" x2="1100.8" y2="960.1" stroke="#333" stroke-width="0.6" />
<text x="1099.5" y="958.9" font-size="3.6" class="b" text-anchor="middle">d</text>
<rect x="1109.3" y="961.9" width="12.8" height="19.9" fill="#8fb944" stroke="#4f6a22" stroke-width="0.5"/>
<line x1="1115.7" y1="961.9" x2="1115.7" y2="958.4" stroke="#333" stroke-width="0.6" />
<line x1="1114.4" y1="958.4" x2="1117" y2="958.4" stroke="#333" stroke-width="0.6" />
<text x="1115.7" y="957.2" font-size="3.6" class="b" text-anchor="middle">d</text>
<rect x="1125.6" y="958.9" width="12.8" height="22.9" fill="#8fb944" stroke="#4f6a22" stroke-width="0.5"/>
<line x1="1132" y1="958.9" x2="1132" y2="956.5" stroke="#333" stroke-width="0.6" />
<line x1="1130.7" y1="956.5" x2="1133.3" y2="956.5" stroke="#333" stroke-width="0.6" />
<text x="1132" y="955.3" font-size="3.6" class="b" text-anchor="middle">d</text>
<rect x="1141.7" y="963.4" width="12.8" height="18.4" fill="#8fbde0" stroke="#3f5f7a" stroke-width="0.5"/>
<line x1="1148.1" y1="963.4" x2="1148.1" y2="961.4" stroke="#333" stroke-width="0.6" />
<line x1="1146.8" y1="961.4" x2="1149.4" y2="961.4" stroke="#333" stroke-width="0.6" />
<text x="1148.1" y="960.2" font-size="3.6" class="b" text-anchor="middle">d</text>
<rect x="1157.8" y="914.3" width="12.8" height="67.5" fill="#8fbde0" stroke="#3f5f7a" stroke-width="0.5"/>
<line x1="1164.2" y1="914.3" x2="1164.2" y2="911.3" stroke="#333" stroke-width="0.6" />
<line x1="1162.9" y1="911.3" x2="1165.5" y2="911.3" stroke="#333" stroke-width="0.6" />
<text x="1164.2" y="910.1" font-size="3.6" class="b" text-anchor="middle">a</text>
<rect x="1174.1" y="936" width="12.8" height="45.8" fill="#8fbde0" stroke="#3f5f7a" stroke-width="0.5"/>
<line x1="1180.5" y1="936" x2="1180.5" y2="929.2" stroke="#333" stroke-width="0.6" />
<line x1="1179.2" y1="929.2" x2="1181.8" y2="929.2" stroke="#333" stroke-width="0.6" />
<text x="1180.5" y="928" font-size="3.6" class="b" text-anchor="middle">b</text>
<rect x="1190.5" y="936.6" width="12.8" height="45.2" fill="#fdd98a" stroke="#7a6430" stroke-width="0.5"/>
<line x1="1196.9" y1="936.6" x2="1196.9" y2="934.8" stroke="#333" stroke-width="0.6" />
<line x1="1195.6" y1="934.8" x2="1198.2" y2="934.8" stroke="#333" stroke-width="0.6" />
<text x="1196.9" y="933.6" font-size="3.6" class="b" text-anchor="middle">b</text>
<rect x="1206.6" y="941.7" width="12.8" height="40.2" fill="#fdd98a" stroke="#7a6430" stroke-width="0.5"/>
<line x1="1213" y1="941.7" x2="1213" y2="939.7" stroke="#333" stroke-width="0.6" />
<line x1="1211.7" y1="939.7" x2="1214.3" y2="939.7" stroke="#333" stroke-width="0.6" />
<text x="1213" y="938.5" font-size="3.6" class="b" text-anchor="middle">bc</text>
<rect x="1222.6" y="949.7" width="13.1" height="32.1" fill="#fdd98a" stroke="#7a6430" stroke-width="0.5"/>
<line x1="1229.2" y1="949.7" x2="1229.2" y2="946.2" stroke="#333" stroke-width="0.6" />
<line x1="1227.9" y1="946.2" x2="1230.5" y2="946.2" stroke="#333" stroke-width="0.6" />
<text x="1229.2" y="945" font-size="3.6" class="b" text-anchor="middle">c</text>
<rect x="1091.3" y="897.4" width="148.3" height="84.4" fill="none" stroke="#333" stroke-width="0.8"/>
<line x1="1088.8" y1="981.8" x2="1091.3" y2="981.8" stroke="#333" stroke-width="0.7" />
<text x="1087.8" y="983.3" font-size="4.4" class="b" text-anchor="end">0</text>
<line x1="1089.8" y1="972.4" x2="1091.3" y2="972.4" stroke="#333" stroke-width="0.6" />
<line x1="1088.8" y1="963" x2="1091.3" y2="963" stroke="#333" stroke-width="0.7" />
<text x="1087.8" y="964.5" font-size="4.4" class="b" text-anchor="end">1</text>
<line x1="1089.8" y1="953.6" x2="1091.3" y2="953.6" stroke="#333" stroke-width="0.6" />
<line x1="1088.8" y1="944.2" x2="1091.3" y2="944.2" stroke="#333" stroke-width="0.7" />
<text x="1087.8" y="945.6" font-size="4.4" class="b" text-anchor="end">2</text>
<line x1="1089.8" y1="934.8" x2="1091.3" y2="934.8" stroke="#333" stroke-width="0.6" />
<line x1="1088.8" y1="925.3" x2="1091.3" y2="925.3" stroke="#333" stroke-width="0.7" />
<text x="1087.8" y="926.8" font-size="4.4" class="b" text-anchor="end">3</text>
<line x1="1089.8" y1="915.9" x2="1091.3" y2="915.9" stroke="#333" stroke-width="0.6" />
<line x1="1088.8" y1="906.5" x2="1091.3" y2="906.5" stroke="#333" stroke-width="0.7" />
<text x="1087.8" y="908" font-size="4.4" class="b" text-anchor="end">4</text>
<line x1="1099.5" y1="981.8" x2="1099.5" y2="984.3" stroke="#333" stroke-width="0.7" />
<text x="1102.1" y="986.8" font-size="4.1" class="b" text-anchor="end" transform="rotate(-45 1102.1 986.8)">C7d</text>
<line x1="1115.7" y1="981.8" x2="1115.7" y2="984.3" stroke="#333" stroke-width="0.7" />
<text x="1118.3" y="986.8" font-size="4.1" class="b" text-anchor="end" transform="rotate(-45 1118.3 986.8)">C7d_R5d</text>
<line x1="1132" y1="981.8" x2="1132" y2="984.3" stroke="#333" stroke-width="0.7" />
<text x="1134.6" y="986.8" font-size="4.1" class="b" text-anchor="end" transform="rotate(-45 1134.6 986.8)">C7d_R15d</text>
<line x1="1148.1" y1="981.8" x2="1148.1" y2="984.3" stroke="#333" stroke-width="0.7" />
<text x="1150.7" y="986.8" font-size="4.1" class="b" text-anchor="end" transform="rotate(-45 1150.7 986.8)">W7d</text>
<line x1="1164.2" y1="981.8" x2="1164.2" y2="984.3" stroke="#333" stroke-width="0.7" />
<text x="1166.8" y="986.8" font-size="4.1" class="b" text-anchor="end" transform="rotate(-45 1166.8 986.8)">W7d_R5d</text>
<line x1="1180.5" y1="981.8" x2="1180.5" y2="984.3" stroke="#333" stroke-width="0.7" />
<text x="1183.1" y="986.8" font-size="4.1" class="b" text-anchor="end" transform="rotate(-45 1183.1 986.8)">W7d_R15d</text>
<line x1="1196.9" y1="981.8" x2="1196.9" y2="984.3" stroke="#333" stroke-width="0.7" />
<text x="1199.5" y="986.8" font-size="4.1" class="b" text-anchor="end" transform="rotate(-45 1199.5 986.8)">ACC1d</text>
<line x1="1213" y1="981.8" x2="1213" y2="984.3" stroke="#333" stroke-width="0.7" />
<text x="1215.6" y="986.8" font-size="4.1" class="b" text-anchor="end" transform="rotate(-45 1215.6 986.8)">ACC1d_R5d</text>
<line x1="1229.2" y1="981.8" x2="1229.2" y2="984.3" stroke="#333" stroke-width="0.7" />
<text x="1231.8" y="986.8" font-size="4.1" class="b" text-anchor="end" transform="rotate(-45 1231.8 986.8)">ACC1d_R15d</text>
<text x="1085" y="939.6" font-size="4.8" class="b" text-anchor="middle" transform="rotate(-90 1085 939.6)">Relative Expression</text>
<text x="1096.8" y="906" font-size="5" class="b i">Ct WRKY63</text>
<rect x="1194" y="898.5" width="7.8" height="3.8" fill="#8fb944" stroke="#4f6a22" stroke-width="0.3"/>
<text x="1202.8" y="901.5" font-size="2.9" class="b">Control</text>
<rect x="1194" y="903.6" width="7.8" height="3.8" fill="#8fbde0" stroke="#3f5f7a" stroke-width="0.3"/>
<text x="1202.8" y="906.6" font-size="2.9" class="b">Waterlogging+Recovery</text>
<rect x="1194" y="908.4" width="7.8" height="3.8" fill="#fdd98a" stroke="#7a6430" stroke-width="0.3"/>
<text x="1202.8" y="911.4" font-size="2.9" class="b">ACC+Recovery</text>
</g>
</svg></body></html>
